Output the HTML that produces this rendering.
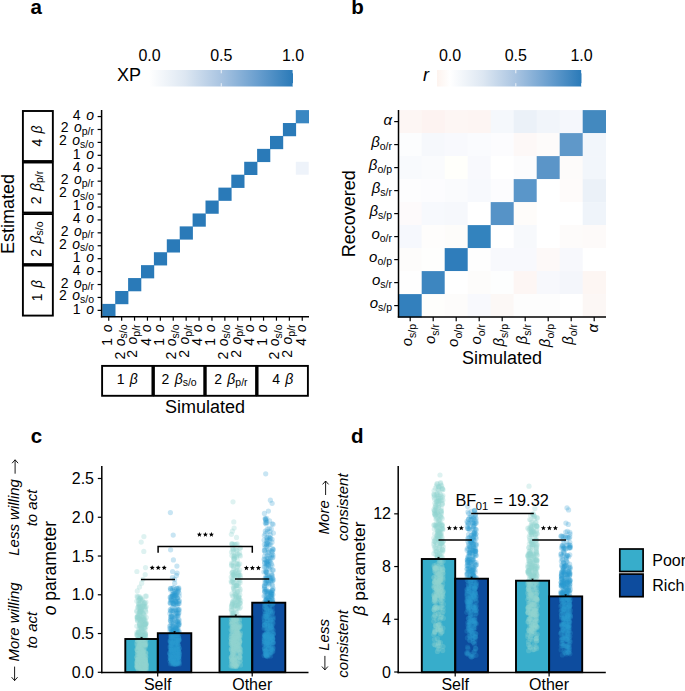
<!DOCTYPE html>
<html><head><meta charset="utf-8"><title>figure</title>
<style>
html,body{margin:0;padding:0;background:#fff;}
body{width:685px;height:691px;overflow:hidden;}
svg{display:block;font-family:"Liberation Sans", sans-serif;}
text{fill:#000;}
</style></head>
<body>
<svg width="685" height="691" viewBox="0 0 685 691">
<rect width="685" height="691" fill="#fff"/>
<text x="30.50" y="13.70" font-size="20.5" text-anchor="start" font-weight="bold">a</text>
<defs><linearGradient id="ga" x1="0" x2="1" y1="0" y2="0"><stop offset="0" stop-color="#ffffff"/><stop offset="0.25" stop-color="#dde7f2"/><stop offset="0.5" stop-color="#a9c4e1"/><stop offset="0.75" stop-color="#6a9fcf"/><stop offset="1" stop-color="#2a7ab8"/></linearGradient><linearGradient id="gb" x1="0" x2="1" y1="0" y2="0"><stop offset="0" stop-color="#fdf3ee"/><stop offset="0.0909" stop-color="#ffffff"/><stop offset="0.318" stop-color="#dde7f2"/><stop offset="0.545" stop-color="#a9c4e1"/><stop offset="0.773" stop-color="#6a9fcf"/><stop offset="1" stop-color="#2a7ab8"/></linearGradient></defs>
<rect x="149.00" y="70.00" width="144.00" height="16.50" fill="url(#ga)"/>
<line x1="149.50" y1="70.00" x2="149.50" y2="73.30" stroke="#fff" stroke-width="0.8"/>
<line x1="149.50" y1="83.20" x2="149.50" y2="86.50" stroke="#fff" stroke-width="0.8"/>
<text x="149.50" y="60.50" font-size="16" text-anchor="middle">0.0</text>
<line x1="221.25" y1="70.00" x2="221.25" y2="73.30" stroke="#fff" stroke-width="0.8"/>
<line x1="221.25" y1="83.20" x2="221.25" y2="86.50" stroke="#fff" stroke-width="0.8"/>
<text x="221.25" y="60.50" font-size="16" text-anchor="middle">0.5</text>
<line x1="293.00" y1="70.00" x2="293.00" y2="73.30" stroke="#fff" stroke-width="0.8"/>
<line x1="293.00" y1="83.20" x2="293.00" y2="86.50" stroke="#fff" stroke-width="0.8"/>
<text x="293.00" y="60.50" font-size="16" text-anchor="middle">1.0</text>
<text x="117.00" y="81.00" font-size="18" text-anchor="start">XP</text>
<rect x="102.30" y="303.90" width="13.20" height="13.22" fill="#2a7ab8"/>
<rect x="115.20" y="290.98" width="13.20" height="13.22" fill="#2a7ab8"/>
<rect x="128.10" y="278.06" width="13.20" height="13.22" fill="#2a7ab8"/>
<rect x="141.00" y="265.14" width="13.20" height="13.22" fill="#2a7ab8"/>
<rect x="153.90" y="252.22" width="13.20" height="13.22" fill="#2a7ab8"/>
<rect x="166.80" y="239.30" width="13.20" height="13.22" fill="#2a7ab8"/>
<rect x="179.70" y="226.38" width="13.20" height="13.22" fill="#2a7ab8"/>
<rect x="192.60" y="213.46" width="13.20" height="13.22" fill="#2a7ab8"/>
<rect x="205.50" y="200.54" width="13.20" height="13.22" fill="#2a7ab8"/>
<rect x="218.40" y="187.62" width="13.20" height="13.22" fill="#2a7ab8"/>
<rect x="231.30" y="174.70" width="13.20" height="13.22" fill="#2a7ab8"/>
<rect x="244.20" y="161.78" width="13.20" height="13.22" fill="#2a7ab8"/>
<rect x="257.10" y="148.86" width="13.20" height="13.22" fill="#2a7ab8"/>
<rect x="270.00" y="135.94" width="13.20" height="13.22" fill="#2a7ab8"/>
<rect x="282.90" y="123.02" width="13.20" height="13.22" fill="#2a7ab8"/>
<rect x="295.80" y="110.10" width="13.20" height="13.22" fill="#3a87c2"/>
<rect x="295.80" y="161.78" width="12.90" height="12.92" fill="#eef3fa"/>
<line x1="101.60" y1="110.00" x2="101.60" y2="317.50" stroke="#000" stroke-width="1.5"/>
<line x1="100.90" y1="316.80" x2="309.00" y2="316.80" stroke="#000" stroke-width="1.5"/>
<line x1="97.60" y1="116.56" x2="101.60" y2="116.56" stroke="#000" stroke-width="1.2"/>
<text x="94.00" y="119.96" font-size="14" text-anchor="end">4 <tspan dx="1.8" font-style="italic">o</tspan></text>
<line x1="97.60" y1="129.48" x2="101.60" y2="129.48" stroke="#000" stroke-width="1.2"/>
<text x="94.00" y="132.48" font-size="14" text-anchor="end">2 <tspan dx="1.6" font-style="italic">o</tspan><tspan font-size="10.5" dy="2.6">p/r</tspan></text>
<line x1="97.60" y1="142.40" x2="101.60" y2="142.40" stroke="#000" stroke-width="1.2"/>
<text x="94.00" y="145.40" font-size="14" text-anchor="end">2 <tspan dx="1.6" font-style="italic">o</tspan><tspan font-size="10.5" dy="2.6">s/o</tspan></text>
<line x1="97.60" y1="155.32" x2="101.60" y2="155.32" stroke="#000" stroke-width="1.2"/>
<text x="94.00" y="158.72" font-size="14" text-anchor="end">1 <tspan dx="1.8" font-style="italic">o</tspan></text>
<line x1="97.60" y1="168.24" x2="101.60" y2="168.24" stroke="#000" stroke-width="1.2"/>
<text x="94.00" y="171.64" font-size="14" text-anchor="end">4 <tspan dx="1.8" font-style="italic">o</tspan></text>
<line x1="97.60" y1="181.16" x2="101.60" y2="181.16" stroke="#000" stroke-width="1.2"/>
<text x="94.00" y="184.16" font-size="14" text-anchor="end">2 <tspan dx="1.6" font-style="italic">o</tspan><tspan font-size="10.5" dy="2.6">p/r</tspan></text>
<line x1="97.60" y1="194.08" x2="101.60" y2="194.08" stroke="#000" stroke-width="1.2"/>
<text x="94.00" y="197.08" font-size="14" text-anchor="end">2 <tspan dx="1.6" font-style="italic">o</tspan><tspan font-size="10.5" dy="2.6">s/o</tspan></text>
<line x1="97.60" y1="207.00" x2="101.60" y2="207.00" stroke="#000" stroke-width="1.2"/>
<text x="94.00" y="210.40" font-size="14" text-anchor="end">1 <tspan dx="1.8" font-style="italic">o</tspan></text>
<line x1="97.60" y1="219.92" x2="101.60" y2="219.92" stroke="#000" stroke-width="1.2"/>
<text x="94.00" y="223.32" font-size="14" text-anchor="end">4 <tspan dx="1.8" font-style="italic">o</tspan></text>
<line x1="97.60" y1="232.84" x2="101.60" y2="232.84" stroke="#000" stroke-width="1.2"/>
<text x="94.00" y="235.84" font-size="14" text-anchor="end">2 <tspan dx="1.6" font-style="italic">o</tspan><tspan font-size="10.5" dy="2.6">p/r</tspan></text>
<line x1="97.60" y1="245.76" x2="101.60" y2="245.76" stroke="#000" stroke-width="1.2"/>
<text x="94.00" y="248.76" font-size="14" text-anchor="end">2 <tspan dx="1.6" font-style="italic">o</tspan><tspan font-size="10.5" dy="2.6">s/o</tspan></text>
<line x1="97.60" y1="258.68" x2="101.60" y2="258.68" stroke="#000" stroke-width="1.2"/>
<text x="94.00" y="262.08" font-size="14" text-anchor="end">1 <tspan dx="1.8" font-style="italic">o</tspan></text>
<line x1="97.60" y1="271.60" x2="101.60" y2="271.60" stroke="#000" stroke-width="1.2"/>
<text x="94.00" y="275.00" font-size="14" text-anchor="end">4 <tspan dx="1.8" font-style="italic">o</tspan></text>
<line x1="97.60" y1="284.52" x2="101.60" y2="284.52" stroke="#000" stroke-width="1.2"/>
<text x="94.00" y="287.52" font-size="14" text-anchor="end">2 <tspan dx="1.6" font-style="italic">o</tspan><tspan font-size="10.5" dy="2.6">p/r</tspan></text>
<line x1="97.60" y1="297.44" x2="101.60" y2="297.44" stroke="#000" stroke-width="1.2"/>
<text x="94.00" y="300.44" font-size="14" text-anchor="end">2 <tspan dx="1.6" font-style="italic">o</tspan><tspan font-size="10.5" dy="2.6">s/o</tspan></text>
<line x1="97.60" y1="310.36" x2="101.60" y2="310.36" stroke="#000" stroke-width="1.2"/>
<text x="94.00" y="313.76" font-size="14" text-anchor="end">1 <tspan dx="1.8" font-style="italic">o</tspan></text>
<line x1="108.75" y1="316.80" x2="108.75" y2="320.70" stroke="#000" stroke-width="1.2"/>
<text transform="translate(112.05,324.40) rotate(-90)" font-size="14" text-anchor="end">1 <tspan dx="1.8" font-style="italic">o</tspan></text>
<line x1="121.65" y1="316.80" x2="121.65" y2="320.70" stroke="#000" stroke-width="1.2"/>
<text transform="translate(124.55,324.40) rotate(-90)" font-size="14" text-anchor="end">2 <tspan dx="1.6" font-style="italic">o</tspan><tspan font-size="10.5" dy="2.6">s/o</tspan></text>
<line x1="134.55" y1="316.80" x2="134.55" y2="320.70" stroke="#000" stroke-width="1.2"/>
<text transform="translate(137.45,324.40) rotate(-90)" font-size="14" text-anchor="end">2 <tspan dx="1.6" font-style="italic">o</tspan><tspan font-size="10.5" dy="2.6">p/r</tspan></text>
<line x1="147.45" y1="316.80" x2="147.45" y2="320.70" stroke="#000" stroke-width="1.2"/>
<text transform="translate(150.75,324.40) rotate(-90)" font-size="14" text-anchor="end">4 <tspan dx="1.8" font-style="italic">o</tspan></text>
<line x1="160.35" y1="316.80" x2="160.35" y2="320.70" stroke="#000" stroke-width="1.2"/>
<text transform="translate(163.65,324.40) rotate(-90)" font-size="14" text-anchor="end">1 <tspan dx="1.8" font-style="italic">o</tspan></text>
<line x1="173.25" y1="316.80" x2="173.25" y2="320.70" stroke="#000" stroke-width="1.2"/>
<text transform="translate(176.15,324.40) rotate(-90)" font-size="14" text-anchor="end">2 <tspan dx="1.6" font-style="italic">o</tspan><tspan font-size="10.5" dy="2.6">s/o</tspan></text>
<line x1="186.15" y1="316.80" x2="186.15" y2="320.70" stroke="#000" stroke-width="1.2"/>
<text transform="translate(189.05,324.40) rotate(-90)" font-size="14" text-anchor="end">2 <tspan dx="1.6" font-style="italic">o</tspan><tspan font-size="10.5" dy="2.6">p/r</tspan></text>
<line x1="199.05" y1="316.80" x2="199.05" y2="320.70" stroke="#000" stroke-width="1.2"/>
<text transform="translate(202.35,324.40) rotate(-90)" font-size="14" text-anchor="end">4 <tspan dx="1.8" font-style="italic">o</tspan></text>
<line x1="211.95" y1="316.80" x2="211.95" y2="320.70" stroke="#000" stroke-width="1.2"/>
<text transform="translate(215.25,324.40) rotate(-90)" font-size="14" text-anchor="end">1 <tspan dx="1.8" font-style="italic">o</tspan></text>
<line x1="224.85" y1="316.80" x2="224.85" y2="320.70" stroke="#000" stroke-width="1.2"/>
<text transform="translate(227.75,324.40) rotate(-90)" font-size="14" text-anchor="end">2 <tspan dx="1.6" font-style="italic">o</tspan><tspan font-size="10.5" dy="2.6">s/o</tspan></text>
<line x1="237.75" y1="316.80" x2="237.75" y2="320.70" stroke="#000" stroke-width="1.2"/>
<text transform="translate(240.65,324.40) rotate(-90)" font-size="14" text-anchor="end">2 <tspan dx="1.6" font-style="italic">o</tspan><tspan font-size="10.5" dy="2.6">p/r</tspan></text>
<line x1="250.65" y1="316.80" x2="250.65" y2="320.70" stroke="#000" stroke-width="1.2"/>
<text transform="translate(253.95,324.40) rotate(-90)" font-size="14" text-anchor="end">4 <tspan dx="1.8" font-style="italic">o</tspan></text>
<line x1="263.55" y1="316.80" x2="263.55" y2="320.70" stroke="#000" stroke-width="1.2"/>
<text transform="translate(266.85,324.40) rotate(-90)" font-size="14" text-anchor="end">1 <tspan dx="1.8" font-style="italic">o</tspan></text>
<line x1="276.45" y1="316.80" x2="276.45" y2="320.70" stroke="#000" stroke-width="1.2"/>
<text transform="translate(279.35,324.40) rotate(-90)" font-size="14" text-anchor="end">2 <tspan dx="1.6" font-style="italic">o</tspan><tspan font-size="10.5" dy="2.6">s/o</tspan></text>
<line x1="289.35" y1="316.80" x2="289.35" y2="320.70" stroke="#000" stroke-width="1.2"/>
<text transform="translate(292.25,324.40) rotate(-90)" font-size="14" text-anchor="end">2 <tspan dx="1.6" font-style="italic">o</tspan><tspan font-size="10.5" dy="2.6">p/r</tspan></text>
<line x1="302.25" y1="316.80" x2="302.25" y2="320.70" stroke="#000" stroke-width="1.2"/>
<text transform="translate(305.55,324.40) rotate(-90)" font-size="14" text-anchor="end">4 <tspan dx="1.8" font-style="italic">o</tspan></text>
<rect x="22.90" y="111.00" width="29.95" height="50.03" fill="none" stroke="#000" stroke-width="1.9"/>
<text transform="translate(41.80,136.01) rotate(-90)" font-size="14" text-anchor="middle">4 <tspan dx="1.5" font-style="italic">β</tspan></text>
<rect x="22.90" y="162.53" width="29.95" height="50.03" fill="none" stroke="#000" stroke-width="1.9"/>
<text transform="translate(40.50,187.54) rotate(-90)" font-size="14" text-anchor="middle">2 <tspan dx="1.5" font-style="italic">β</tspan><tspan font-size="10.5" dy="2.6">p/r</tspan></text>
<rect x="22.90" y="214.05" width="29.95" height="50.02" fill="none" stroke="#000" stroke-width="1.9"/>
<text transform="translate(40.50,239.06) rotate(-90)" font-size="14" text-anchor="middle">2 <tspan dx="1.5" font-style="italic">β</tspan><tspan font-size="10.5" dy="2.6">s/o</tspan></text>
<rect x="22.90" y="265.57" width="29.95" height="50.02" fill="none" stroke="#000" stroke-width="1.9"/>
<text transform="translate(41.80,290.59) rotate(-90)" font-size="14" text-anchor="middle">1 <tspan dx="1.5" font-style="italic">β</tspan></text>
<rect x="102.10" y="365.90" width="50.33" height="29.90" fill="none" stroke="#000" stroke-width="1.9"/>
<text x="127.26" y="383.60" font-size="14" text-anchor="middle">1 <tspan dx="1.5" font-style="italic">β</tspan></text>
<rect x="153.93" y="365.90" width="50.32" height="29.90" fill="none" stroke="#000" stroke-width="1.9"/>
<text x="179.09" y="383.60" font-size="14" text-anchor="middle">2 <tspan dx="1.5" font-style="italic">β</tspan><tspan font-size="10.5" dy="2.6">s/o</tspan></text>
<rect x="205.75" y="365.90" width="50.32" height="29.90" fill="none" stroke="#000" stroke-width="1.9"/>
<text x="230.91" y="383.60" font-size="14" text-anchor="middle">2 <tspan dx="1.5" font-style="italic">β</tspan><tspan font-size="10.5" dy="2.6">p/r</tspan></text>
<rect x="257.58" y="365.90" width="50.32" height="29.90" fill="none" stroke="#000" stroke-width="1.9"/>
<text x="282.74" y="383.60" font-size="14" text-anchor="middle">4 <tspan dx="1.5" font-style="italic">β</tspan></text>
<text x="205.00" y="413.00" font-size="18" text-anchor="middle">Simulated</text>
<text transform="translate(13.60,214.00) rotate(-90)" font-size="18" text-anchor="middle">Estimated</text>
<text x="351.30" y="13.70" font-size="20.5" text-anchor="start" font-weight="bold">b</text>
<rect x="437.00" y="70.00" width="144.50" height="16.50" fill="url(#gb)"/>
<line x1="450.00" y1="70.00" x2="450.00" y2="73.30" stroke="#fff" stroke-width="0.8"/>
<line x1="450.00" y1="83.20" x2="450.00" y2="86.50" stroke="#fff" stroke-width="0.8"/>
<text x="450.00" y="60.50" font-size="16" text-anchor="middle">0.0</text>
<line x1="515.80" y1="70.00" x2="515.80" y2="73.30" stroke="#fff" stroke-width="0.8"/>
<line x1="515.80" y1="83.20" x2="515.80" y2="86.50" stroke="#fff" stroke-width="0.8"/>
<text x="515.80" y="60.50" font-size="16" text-anchor="middle">0.5</text>
<line x1="581.60" y1="70.00" x2="581.60" y2="73.30" stroke="#fff" stroke-width="0.8"/>
<line x1="581.60" y1="83.20" x2="581.60" y2="86.50" stroke="#fff" stroke-width="0.8"/>
<text x="581.60" y="60.50" font-size="16" text-anchor="middle">1.0</text>
<text x="423.00" y="81.00" font-size="18" text-anchor="start" font-style="italic">r</text>
<rect x="398.70" y="110.10" width="23.30" height="23.30" fill="#fdf6f4"/>
<rect x="421.70" y="110.10" width="23.30" height="23.30" fill="#fdf3f1"/>
<rect x="444.70" y="110.10" width="23.30" height="23.30" fill="#fdf6f4"/>
<rect x="467.70" y="110.10" width="23.30" height="23.30" fill="#fdf5f3"/>
<rect x="490.70" y="110.10" width="23.30" height="23.30" fill="#f5f8fc"/>
<rect x="513.70" y="110.10" width="23.30" height="23.30" fill="#ebf1f8"/>
<rect x="536.70" y="110.10" width="23.30" height="23.30" fill="#f1f5fa"/>
<rect x="559.70" y="110.10" width="23.30" height="23.30" fill="#f5f7fc"/>
<rect x="582.70" y="110.10" width="23.30" height="23.30" fill="#4389bf"/>
<rect x="398.70" y="133.10" width="23.30" height="23.30" fill="#fcfdfe"/>
<rect x="421.70" y="133.10" width="23.30" height="23.30" fill="#f6f8fc"/>
<rect x="444.70" y="133.10" width="23.30" height="23.30" fill="#f8f9fd"/>
<rect x="467.70" y="133.10" width="23.30" height="23.30" fill="#fafbfe"/>
<rect x="490.70" y="133.10" width="23.30" height="23.30" fill="#fcfcfe"/>
<rect x="513.70" y="133.10" width="23.30" height="23.30" fill="#fdf8f7"/>
<rect x="536.70" y="133.10" width="23.30" height="23.30" fill="#fdfbfa"/>
<rect x="559.70" y="133.10" width="23.30" height="23.30" fill="#5f98c9"/>
<rect x="582.70" y="133.10" width="23.30" height="23.30" fill="#f2f6fb"/>
<rect x="398.70" y="156.10" width="23.30" height="23.30" fill="#f8fafd"/>
<rect x="421.70" y="156.10" width="23.30" height="23.30" fill="#fafbfd"/>
<rect x="444.70" y="156.10" width="23.30" height="23.30" fill="#fffffb"/>
<rect x="467.70" y="156.10" width="23.30" height="23.30" fill="#f8f9fd"/>
<rect x="490.70" y="156.10" width="23.30" height="23.30" fill="#ffffff"/>
<rect x="513.70" y="156.10" width="23.30" height="23.30" fill="#fcfcfd"/>
<rect x="536.70" y="156.10" width="23.30" height="23.30" fill="#5b95c8"/>
<rect x="559.70" y="156.10" width="23.30" height="23.30" fill="#fdfbfa"/>
<rect x="582.70" y="156.10" width="23.30" height="23.30" fill="#f2f6fb"/>
<rect x="398.70" y="179.10" width="23.30" height="23.30" fill="#fdfdfe"/>
<rect x="421.70" y="179.10" width="23.30" height="23.30" fill="#fcfcfe"/>
<rect x="444.70" y="179.10" width="23.30" height="23.30" fill="#fafbfd"/>
<rect x="467.70" y="179.10" width="23.30" height="23.30" fill="#f7f9fd"/>
<rect x="490.70" y="179.10" width="23.30" height="23.30" fill="#fcfcfe"/>
<rect x="513.70" y="179.10" width="23.30" height="23.30" fill="#5a96c9"/>
<rect x="536.70" y="179.10" width="23.30" height="23.30" fill="#ffffff"/>
<rect x="559.70" y="179.10" width="23.30" height="23.30" fill="#fefbfa"/>
<rect x="582.70" y="179.10" width="23.30" height="23.30" fill="#ebf1f8"/>
<rect x="398.70" y="202.10" width="23.30" height="23.30" fill="#fdfafb"/>
<rect x="421.70" y="202.10" width="23.30" height="23.30" fill="#f7f9fd"/>
<rect x="444.70" y="202.10" width="23.30" height="23.30" fill="#f6f8fc"/>
<rect x="467.70" y="202.10" width="23.30" height="23.30" fill="#ffffff"/>
<rect x="490.70" y="202.10" width="23.30" height="23.30" fill="#5693c7"/>
<rect x="513.70" y="202.10" width="23.30" height="23.30" fill="#fefcfa"/>
<rect x="536.70" y="202.10" width="23.30" height="23.30" fill="#ffffff"/>
<rect x="559.70" y="202.10" width="23.30" height="23.30" fill="#ffffff"/>
<rect x="582.70" y="202.10" width="23.30" height="23.30" fill="#eff4fa"/>
<rect x="398.70" y="225.10" width="23.30" height="23.30" fill="#f6f8fd"/>
<rect x="421.70" y="225.10" width="23.30" height="23.30" fill="#fefdfc"/>
<rect x="444.70" y="225.10" width="23.30" height="23.30" fill="#fdfcfa"/>
<rect x="467.70" y="225.10" width="23.30" height="23.30" fill="#3383be"/>
<rect x="490.70" y="225.10" width="23.30" height="23.30" fill="#ffffff"/>
<rect x="513.70" y="225.10" width="23.30" height="23.30" fill="#f7f9fc"/>
<rect x="536.70" y="225.10" width="23.30" height="23.30" fill="#ffffff"/>
<rect x="559.70" y="225.10" width="23.30" height="23.30" fill="#fdfbfa"/>
<rect x="582.70" y="225.10" width="23.30" height="23.30" fill="#fdfaf9"/>
<rect x="398.70" y="248.10" width="23.30" height="23.30" fill="#fdfcfb"/>
<rect x="421.70" y="248.10" width="23.30" height="23.30" fill="#fefefd"/>
<rect x="444.70" y="248.10" width="23.30" height="23.30" fill="#2f7dbb"/>
<rect x="467.70" y="248.10" width="23.30" height="23.30" fill="#fefefe"/>
<rect x="490.70" y="248.10" width="23.30" height="23.30" fill="#f8f9fd"/>
<rect x="513.70" y="248.10" width="23.30" height="23.30" fill="#f8f9fd"/>
<rect x="536.70" y="248.10" width="23.30" height="23.30" fill="#fdf9f8"/>
<rect x="559.70" y="248.10" width="23.30" height="23.30" fill="#f7f8fc"/>
<rect x="582.70" y="248.10" width="23.30" height="23.30" fill="#ffffff"/>
<rect x="398.70" y="271.10" width="23.30" height="23.30" fill="#fefefe"/>
<rect x="421.70" y="271.10" width="23.30" height="23.30" fill="#3d86c0"/>
<rect x="444.70" y="271.10" width="23.30" height="23.30" fill="#ffffff"/>
<rect x="467.70" y="271.10" width="23.30" height="23.30" fill="#fdfcfb"/>
<rect x="490.70" y="271.10" width="23.30" height="23.30" fill="#fdfefe"/>
<rect x="513.70" y="271.10" width="23.30" height="23.30" fill="#fdf6f4"/>
<rect x="536.70" y="271.10" width="23.30" height="23.30" fill="#f7f8fc"/>
<rect x="559.70" y="271.10" width="23.30" height="23.30" fill="#f4f6fb"/>
<rect x="582.70" y="271.10" width="23.30" height="23.30" fill="#fdf6f3"/>
<rect x="398.70" y="294.10" width="23.30" height="23.30" fill="#3380bd"/>
<rect x="421.70" y="294.10" width="23.30" height="23.30" fill="#fefefc"/>
<rect x="444.70" y="294.10" width="23.30" height="23.30" fill="#fdfcfb"/>
<rect x="467.70" y="294.10" width="23.30" height="23.30" fill="#f8f9fd"/>
<rect x="490.70" y="294.10" width="23.30" height="23.30" fill="#fcf8f6"/>
<rect x="513.70" y="294.10" width="23.30" height="23.30" fill="#fdfdfd"/>
<rect x="536.70" y="294.10" width="23.30" height="23.30" fill="#fdfdfd"/>
<rect x="559.70" y="294.10" width="23.30" height="23.30" fill="#ffffff"/>
<rect x="582.70" y="294.10" width="23.30" height="23.30" fill="#fcf7f5"/>
<line x1="398.50" y1="110.00" x2="398.50" y2="317.50" stroke="#000" stroke-width="1.5"/>
<line x1="397.80" y1="317.00" x2="606.00" y2="317.00" stroke="#000" stroke-width="1.5"/>
<line x1="394.20" y1="121.60" x2="398.50" y2="121.60" stroke="#000" stroke-width="1.2"/>
<text x="392.00" y="125.20" font-size="15" text-anchor="end"><tspan font-style="italic">α</tspan></text>
<line x1="394.20" y1="144.60" x2="398.50" y2="144.60" stroke="#000" stroke-width="1.2"/>
<text x="392.00" y="146.60" font-size="15" text-anchor="end"><tspan font-style="italic">β</tspan><tspan font-size="10.5" dy="3.5">o/r</tspan></text>
<line x1="394.20" y1="167.60" x2="398.50" y2="167.60" stroke="#000" stroke-width="1.2"/>
<text x="392.00" y="169.60" font-size="15" text-anchor="end"><tspan font-style="italic">β</tspan><tspan font-size="10.5" dy="3.5">o/p</tspan></text>
<line x1="394.20" y1="190.60" x2="398.50" y2="190.60" stroke="#000" stroke-width="1.2"/>
<text x="392.00" y="192.60" font-size="15" text-anchor="end"><tspan font-style="italic">β</tspan><tspan font-size="10.5" dy="3.5">s/r</tspan></text>
<line x1="394.20" y1="213.60" x2="398.50" y2="213.60" stroke="#000" stroke-width="1.2"/>
<text x="392.00" y="215.60" font-size="15" text-anchor="end"><tspan font-style="italic">β</tspan><tspan font-size="10.5" dy="3.5">s/p</tspan></text>
<line x1="394.20" y1="236.60" x2="398.50" y2="236.60" stroke="#000" stroke-width="1.2"/>
<text x="392.00" y="238.60" font-size="15" text-anchor="end"><tspan font-style="italic">o</tspan><tspan font-size="10.5" dy="3.5">o/r</tspan></text>
<line x1="394.20" y1="259.60" x2="398.50" y2="259.60" stroke="#000" stroke-width="1.2"/>
<text x="392.00" y="261.60" font-size="15" text-anchor="end"><tspan font-style="italic">o</tspan><tspan font-size="10.5" dy="3.5">o/p</tspan></text>
<line x1="394.20" y1="282.60" x2="398.50" y2="282.60" stroke="#000" stroke-width="1.2"/>
<text x="392.00" y="284.60" font-size="15" text-anchor="end"><tspan font-style="italic">o</tspan><tspan font-size="10.5" dy="3.5">s/r</tspan></text>
<line x1="394.20" y1="305.60" x2="398.50" y2="305.60" stroke="#000" stroke-width="1.2"/>
<text x="392.00" y="307.60" font-size="15" text-anchor="end"><tspan font-style="italic">o</tspan><tspan font-size="10.5" dy="3.5">s/p</tspan></text>
<line x1="410.20" y1="317.00" x2="410.20" y2="321.20" stroke="#000" stroke-width="1.2"/>
<text transform="translate(412.20,324.00) rotate(-90)" font-size="15" text-anchor="end"><tspan font-style="italic">o</tspan><tspan font-size="10.5" dy="3.5">s/p</tspan></text>
<line x1="433.20" y1="317.00" x2="433.20" y2="321.20" stroke="#000" stroke-width="1.2"/>
<text transform="translate(435.20,324.00) rotate(-90)" font-size="15" text-anchor="end"><tspan font-style="italic">o</tspan><tspan font-size="10.5" dy="3.5">s/r</tspan></text>
<line x1="456.20" y1="317.00" x2="456.20" y2="321.20" stroke="#000" stroke-width="1.2"/>
<text transform="translate(458.20,324.00) rotate(-90)" font-size="15" text-anchor="end"><tspan font-style="italic">o</tspan><tspan font-size="10.5" dy="3.5">o/p</tspan></text>
<line x1="479.20" y1="317.00" x2="479.20" y2="321.20" stroke="#000" stroke-width="1.2"/>
<text transform="translate(481.20,324.00) rotate(-90)" font-size="15" text-anchor="end"><tspan font-style="italic">o</tspan><tspan font-size="10.5" dy="3.5">o/r</tspan></text>
<line x1="502.20" y1="317.00" x2="502.20" y2="321.20" stroke="#000" stroke-width="1.2"/>
<text transform="translate(504.20,324.00) rotate(-90)" font-size="15" text-anchor="end"><tspan font-style="italic">β</tspan><tspan font-size="10.5" dy="3.5">s/p</tspan></text>
<line x1="525.20" y1="317.00" x2="525.20" y2="321.20" stroke="#000" stroke-width="1.2"/>
<text transform="translate(527.20,324.00) rotate(-90)" font-size="15" text-anchor="end"><tspan font-style="italic">β</tspan><tspan font-size="10.5" dy="3.5">s/r</tspan></text>
<line x1="548.20" y1="317.00" x2="548.20" y2="321.20" stroke="#000" stroke-width="1.2"/>
<text transform="translate(550.20,324.00) rotate(-90)" font-size="15" text-anchor="end"><tspan font-style="italic">β</tspan><tspan font-size="10.5" dy="3.5">o/p</tspan></text>
<line x1="571.20" y1="317.00" x2="571.20" y2="321.20" stroke="#000" stroke-width="1.2"/>
<text transform="translate(573.20,324.00) rotate(-90)" font-size="15" text-anchor="end"><tspan font-style="italic">β</tspan><tspan font-size="10.5" dy="3.5">o/r</tspan></text>
<line x1="594.20" y1="317.00" x2="594.20" y2="321.20" stroke="#000" stroke-width="1.2"/>
<text transform="translate(597.80,324.00) rotate(-90)" font-size="15" text-anchor="end"><tspan font-style="italic">α</tspan></text>
<text x="502.00" y="364.30" font-size="18" text-anchor="middle">Simulated</text>
<text transform="translate(355.30,213.80) rotate(-90)" font-size="18" text-anchor="middle">Recovered</text>
<text x="30.70" y="442.80" font-size="20.5" text-anchor="start" font-weight="bold">c</text>
<rect x="125.30" y="639.00" width="32.50" height="33.20" fill="#37adcb"/>
<rect x="157.80" y="633.20" width="33.50" height="39.00" fill="#0d4c9e"/>
<rect x="219.50" y="616.60" width="32.70" height="55.60" fill="#37adcb"/>
<rect x="252.20" y="602.70" width="33.10" height="69.50" fill="#0d4c9e"/>
<g fill="#93d3cf" fill-opacity="0.3">
<circle cx="139.4" cy="604.0" r="2.6"/>
<circle cx="139.7" cy="640.1" r="2.6"/>
<circle cx="145.2" cy="652.5" r="2.6"/>
<circle cx="137.2" cy="649.7" r="2.6"/>
<circle cx="140.1" cy="598.3" r="2.6"/>
<circle cx="138.6" cy="661.7" r="2.6"/>
<circle cx="143.4" cy="668.4" r="2.6"/>
<circle cx="144.5" cy="662.8" r="2.6"/>
<circle cx="137.3" cy="652.9" r="2.6"/>
<circle cx="145.0" cy="647.8" r="2.6"/>
<circle cx="143.4" cy="661.8" r="2.6"/>
<circle cx="138.8" cy="603.9" r="2.6"/>
<circle cx="145.5" cy="567.6" r="2.6"/>
<circle cx="139.6" cy="633.6" r="2.6"/>
<circle cx="144.3" cy="624.3" r="2.6"/>
<circle cx="137.5" cy="620.8" r="2.6"/>
<circle cx="141.1" cy="611.4" r="2.6"/>
<circle cx="141.6" cy="648.6" r="2.6"/>
<circle cx="145.4" cy="646.1" r="2.6"/>
<circle cx="144.8" cy="656.2" r="2.6"/>
<circle cx="142.0" cy="643.1" r="2.6"/>
<circle cx="137.2" cy="656.7" r="2.6"/>
<circle cx="140.9" cy="662.5" r="2.6"/>
<circle cx="140.4" cy="606.6" r="2.6"/>
<circle cx="146.3" cy="666.8" r="2.6"/>
<circle cx="143.3" cy="617.0" r="2.6"/>
<circle cx="140.6" cy="647.9" r="2.6"/>
<circle cx="140.3" cy="667.5" r="2.6"/>
<circle cx="144.1" cy="628.2" r="2.6"/>
<circle cx="137.7" cy="663.7" r="2.6"/>
<circle cx="144.6" cy="618.5" r="2.6"/>
<circle cx="143.2" cy="638.6" r="2.6"/>
<circle cx="140.9" cy="628.3" r="2.6"/>
<circle cx="143.6" cy="604.6" r="2.6"/>
<circle cx="140.6" cy="610.9" r="2.6"/>
<circle cx="138.1" cy="606.9" r="2.6"/>
<circle cx="140.8" cy="643.1" r="2.6"/>
<circle cx="137.2" cy="667.7" r="2.6"/>
<circle cx="137.6" cy="616.7" r="2.6"/>
<circle cx="141.0" cy="627.6" r="2.6"/>
<circle cx="144.7" cy="615.4" r="2.6"/>
<circle cx="138.7" cy="666.4" r="2.6"/>
<circle cx="141.6" cy="645.7" r="2.6"/>
<circle cx="146.1" cy="643.9" r="2.6"/>
<circle cx="144.7" cy="669.5" r="2.6"/>
<circle cx="145.4" cy="660.2" r="2.6"/>
<circle cx="143.2" cy="660.7" r="2.6"/>
<circle cx="142.4" cy="600.1" r="2.6"/>
<circle cx="142.3" cy="637.4" r="2.6"/>
<circle cx="142.5" cy="633.7" r="2.6"/>
<circle cx="141.2" cy="635.0" r="2.6"/>
<circle cx="140.2" cy="643.0" r="2.6"/>
<circle cx="139.0" cy="638.5" r="2.6"/>
<circle cx="137.4" cy="662.2" r="2.6"/>
<circle cx="140.3" cy="649.1" r="2.6"/>
<circle cx="144.1" cy="662.2" r="2.6"/>
<circle cx="142.1" cy="611.2" r="2.6"/>
<circle cx="138.3" cy="633.4" r="2.6"/>
<circle cx="144.6" cy="662.4" r="2.6"/>
<circle cx="137.1" cy="616.9" r="2.6"/>
<circle cx="145.7" cy="661.9" r="2.6"/>
<circle cx="143.0" cy="613.6" r="2.6"/>
<circle cx="142.1" cy="650.6" r="2.6"/>
<circle cx="140.7" cy="659.8" r="2.6"/>
<circle cx="144.7" cy="668.5" r="2.6"/>
<circle cx="136.8" cy="642.9" r="2.6"/>
<circle cx="136.9" cy="632.3" r="2.6"/>
<circle cx="141.7" cy="660.7" r="2.6"/>
<circle cx="139.6" cy="625.0" r="2.6"/>
<circle cx="140.6" cy="653.0" r="2.6"/>
<circle cx="141.9" cy="599.5" r="2.6"/>
<circle cx="137.2" cy="639.7" r="2.6"/>
<circle cx="146.2" cy="606.7" r="2.6"/>
<circle cx="143.3" cy="636.1" r="2.6"/>
<circle cx="137.7" cy="640.5" r="2.6"/>
<circle cx="143.8" cy="622.5" r="2.6"/>
<circle cx="141.9" cy="629.6" r="2.6"/>
<circle cx="143.3" cy="665.0" r="2.6"/>
<circle cx="143.8" cy="551.4" r="2.6"/>
<circle cx="146.3" cy="638.9" r="2.6"/>
<circle cx="137.9" cy="659.6" r="2.6"/>
<circle cx="146.3" cy="668.7" r="2.6"/>
<circle cx="141.3" cy="616.0" r="2.6"/>
<circle cx="138.7" cy="657.6" r="2.6"/>
<circle cx="140.3" cy="611.1" r="2.6"/>
<circle cx="140.2" cy="619.9" r="2.6"/>
<circle cx="145.3" cy="641.0" r="2.6"/>
<circle cx="141.8" cy="666.8" r="2.6"/>
<circle cx="137.4" cy="597.2" r="2.6"/>
<circle cx="143.6" cy="666.1" r="2.6"/>
<circle cx="141.5" cy="649.1" r="2.6"/>
<circle cx="144.6" cy="642.7" r="2.6"/>
<circle cx="137.2" cy="633.8" r="2.6"/>
<circle cx="145.1" cy="633.7" r="2.6"/>
<circle cx="145.3" cy="629.1" r="2.6"/>
<circle cx="136.8" cy="665.1" r="2.6"/>
<circle cx="141.3" cy="668.8" r="2.6"/>
<circle cx="137.9" cy="663.3" r="2.6"/>
<circle cx="141.8" cy="644.5" r="2.6"/>
<circle cx="137.6" cy="620.2" r="2.6"/>
<circle cx="145.3" cy="659.5" r="2.6"/>
<circle cx="138.5" cy="664.8" r="2.6"/>
<circle cx="143.2" cy="639.0" r="2.6"/>
<circle cx="143.0" cy="651.1" r="2.6"/>
<circle cx="139.8" cy="644.8" r="2.6"/>
<circle cx="138.8" cy="600.4" r="2.6"/>
<circle cx="145.5" cy="666.2" r="2.6"/>
<circle cx="137.1" cy="644.8" r="2.6"/>
<circle cx="139.2" cy="663.3" r="2.6"/>
<circle cx="139.9" cy="644.4" r="2.6"/>
<circle cx="142.4" cy="658.3" r="2.6"/>
<circle cx="140.3" cy="662.4" r="2.6"/>
<circle cx="137.8" cy="641.8" r="2.6"/>
<circle cx="142.2" cy="661.2" r="2.6"/>
<circle cx="143.7" cy="638.3" r="2.6"/>
<circle cx="143.5" cy="668.7" r="2.6"/>
<circle cx="141.5" cy="656.5" r="2.6"/>
<circle cx="139.7" cy="618.9" r="2.6"/>
<circle cx="136.8" cy="611.5" r="2.6"/>
<circle cx="141.9" cy="656.3" r="2.6"/>
<circle cx="142.8" cy="651.9" r="2.6"/>
<circle cx="141.0" cy="666.2" r="2.6"/>
<circle cx="146.0" cy="624.1" r="2.6"/>
<circle cx="138.7" cy="600.0" r="2.6"/>
<circle cx="144.6" cy="663.9" r="2.6"/>
<circle cx="143.7" cy="614.4" r="2.6"/>
<circle cx="145.4" cy="635.9" r="2.6"/>
<circle cx="145.6" cy="657.5" r="2.6"/>
<circle cx="139.0" cy="658.3" r="2.6"/>
<circle cx="145.6" cy="655.8" r="2.6"/>
<circle cx="140.6" cy="651.1" r="2.6"/>
<circle cx="143.3" cy="657.5" r="2.6"/>
<circle cx="145.9" cy="602.2" r="2.6"/>
<circle cx="142.5" cy="653.2" r="2.6"/>
<circle cx="142.3" cy="622.5" r="2.6"/>
<circle cx="137.4" cy="653.4" r="2.6"/>
<circle cx="142.5" cy="669.0" r="2.6"/>
<circle cx="139.1" cy="617.5" r="2.6"/>
<circle cx="140.5" cy="655.0" r="2.6"/>
<circle cx="140.4" cy="620.4" r="2.6"/>
<circle cx="146.1" cy="664.5" r="2.6"/>
<circle cx="142.9" cy="661.5" r="2.6"/>
<circle cx="143.7" cy="663.5" r="2.6"/>
<circle cx="138.4" cy="632.4" r="2.6"/>
<circle cx="139.7" cy="611.7" r="2.6"/>
<circle cx="145.2" cy="607.1" r="2.6"/>
<circle cx="137.9" cy="640.2" r="2.6"/>
<circle cx="145.9" cy="653.5" r="2.6"/>
<circle cx="140.9" cy="620.9" r="2.6"/>
<circle cx="140.5" cy="653.0" r="2.6"/>
<circle cx="141.7" cy="617.4" r="2.6"/>
<circle cx="141.0" cy="658.9" r="2.6"/>
<circle cx="141.3" cy="669.2" r="2.6"/>
<circle cx="140.8" cy="637.9" r="2.6"/>
<circle cx="143.5" cy="652.8" r="2.6"/>
<circle cx="139.4" cy="640.3" r="2.6"/>
<circle cx="138.3" cy="647.9" r="2.6"/>
<circle cx="140.9" cy="609.6" r="2.6"/>
<circle cx="137.6" cy="650.2" r="2.6"/>
<circle cx="141.0" cy="618.4" r="2.6"/>
<circle cx="141.5" cy="651.1" r="2.6"/>
<circle cx="144.3" cy="624.5" r="2.6"/>
<circle cx="137.8" cy="607.6" r="2.6"/>
<circle cx="140.6" cy="598.4" r="2.6"/>
<circle cx="144.2" cy="664.7" r="2.6"/>
<circle cx="140.0" cy="615.5" r="2.6"/>
<circle cx="144.8" cy="602.8" r="2.6"/>
<circle cx="143.6" cy="649.2" r="2.6"/>
<circle cx="137.2" cy="659.8" r="2.6"/>
<circle cx="140.4" cy="660.5" r="2.6"/>
<circle cx="144.1" cy="656.9" r="2.6"/>
<circle cx="141.8" cy="642.2" r="2.6"/>
<circle cx="143.2" cy="619.7" r="2.6"/>
<circle cx="146.3" cy="665.1" r="2.6"/>
<circle cx="143.2" cy="662.2" r="2.6"/>
<circle cx="142.0" cy="635.7" r="2.6"/>
<circle cx="144.9" cy="624.5" r="2.6"/>
<circle cx="140.9" cy="657.0" r="2.6"/>
<circle cx="136.8" cy="601.1" r="2.6"/>
<circle cx="139.4" cy="623.8" r="2.6"/>
<circle cx="142.5" cy="662.8" r="2.6"/>
<circle cx="145.9" cy="612.0" r="2.6"/>
<circle cx="142.6" cy="637.8" r="2.6"/>
<circle cx="139.5" cy="625.4" r="2.6"/>
<circle cx="146.3" cy="617.6" r="2.6"/>
<circle cx="140.6" cy="655.3" r="2.6"/>
<circle cx="138.9" cy="664.1" r="2.6"/>
<circle cx="142.1" cy="664.8" r="2.6"/>
<circle cx="140.1" cy="636.5" r="2.6"/>
<circle cx="137.8" cy="666.4" r="2.6"/>
<circle cx="143.6" cy="632.8" r="2.6"/>
<circle cx="143.4" cy="625.2" r="2.6"/>
<circle cx="146.1" cy="622.6" r="2.6"/>
<circle cx="138.1" cy="665.5" r="2.6"/>
<circle cx="145.5" cy="610.7" r="2.6"/>
<circle cx="144.4" cy="621.1" r="2.6"/>
<circle cx="139.2" cy="659.0" r="2.6"/>
<circle cx="141.4" cy="653.0" r="2.6"/>
<circle cx="142.8" cy="655.2" r="2.6"/>
<circle cx="139.8" cy="664.5" r="2.6"/>
<circle cx="137.8" cy="617.9" r="2.6"/>
<circle cx="144.8" cy="644.3" r="2.6"/>
<circle cx="138.3" cy="665.5" r="2.6"/>
<circle cx="141.5" cy="610.1" r="2.6"/>
<circle cx="141.0" cy="641.9" r="2.6"/>
<circle cx="145.4" cy="596.2" r="2.6"/>
<circle cx="142.1" cy="659.0" r="2.6"/>
<circle cx="140.8" cy="626.0" r="2.6"/>
<circle cx="146.1" cy="669.8" r="2.6"/>
<circle cx="140.1" cy="648.5" r="2.6"/>
<circle cx="143.7" cy="655.7" r="2.6"/>
<circle cx="139.0" cy="619.7" r="2.6"/>
<circle cx="144.0" cy="606.3" r="2.6"/>
<circle cx="144.0" cy="662.2" r="2.6"/>
<circle cx="144.7" cy="606.9" r="2.6"/>
<circle cx="141.4" cy="628.2" r="2.6"/>
<circle cx="138.9" cy="628.7" r="2.6"/>
<circle cx="142.8" cy="668.3" r="2.6"/>
<circle cx="145.5" cy="661.1" r="2.6"/>
<circle cx="139.7" cy="663.9" r="2.6"/>
<circle cx="136.9" cy="571.5" r="2.6"/>
<circle cx="138.5" cy="632.3" r="2.6"/>
<circle cx="145.7" cy="652.5" r="2.6"/>
<circle cx="136.8" cy="649.4" r="2.6"/>
<circle cx="137.3" cy="590.9" r="2.6"/>
<circle cx="137.7" cy="660.8" r="2.6"/>
<circle cx="145.3" cy="636.0" r="2.6"/>
<circle cx="140.4" cy="668.8" r="2.6"/>
<circle cx="143.4" cy="613.3" r="2.6"/>
<circle cx="143.5" cy="637.5" r="2.6"/>
<circle cx="140.9" cy="648.4" r="2.6"/>
<circle cx="143.8" cy="650.7" r="2.6"/>
<circle cx="141.2" cy="542.1" r="2.6"/>
<circle cx="142.0" cy="625.1" r="2.6"/>
<circle cx="139.7" cy="656.0" r="2.6"/>
<circle cx="136.8" cy="662.7" r="2.6"/>
<circle cx="142.4" cy="664.8" r="2.6"/>
<circle cx="139.3" cy="661.3" r="2.6"/>
<circle cx="139.4" cy="637.2" r="2.6"/>
<circle cx="145.2" cy="665.6" r="2.6"/>
<circle cx="140.2" cy="619.9" r="2.6"/>
<circle cx="137.7" cy="635.5" r="2.6"/>
<circle cx="142.8" cy="635.9" r="2.6"/>
<circle cx="141.9" cy="669.8" r="2.6"/>
<circle cx="137.3" cy="663.5" r="2.6"/>
<circle cx="140.1" cy="612.3" r="2.6"/>
<circle cx="142.6" cy="663.2" r="2.6"/>
<circle cx="139.4" cy="607.9" r="2.6"/>
<circle cx="146.2" cy="663.8" r="2.6"/>
<circle cx="144.4" cy="627.3" r="2.6"/>
<circle cx="141.6" cy="640.5" r="2.6"/>
<circle cx="145.5" cy="662.7" r="2.6"/>
<circle cx="137.1" cy="617.1" r="2.6"/>
<circle cx="138.9" cy="661.2" r="2.6"/>
<circle cx="145.5" cy="664.2" r="2.6"/>
<circle cx="141.6" cy="583.2" r="2.6"/>
<circle cx="138.4" cy="665.1" r="2.6"/>
<circle cx="142.2" cy="652.5" r="2.6"/>
<circle cx="143.8" cy="636.2" r="2.6"/>
<circle cx="142.5" cy="632.2" r="2.6"/>
<circle cx="137.2" cy="635.2" r="2.6"/>
<circle cx="137.1" cy="596.0" r="2.6"/>
<circle cx="140.7" cy="662.5" r="2.6"/>
<circle cx="136.9" cy="657.2" r="2.6"/>
<circle cx="137.6" cy="650.1" r="2.6"/>
<circle cx="142.9" cy="579.3" r="2.6"/>
<circle cx="141.0" cy="664.6" r="2.6"/>
<circle cx="137.6" cy="659.6" r="2.6"/>
<circle cx="145.2" cy="574.6" r="2.6"/>
<circle cx="140.3" cy="651.6" r="2.6"/>
<circle cx="145.2" cy="669.2" r="2.6"/>
<circle cx="142.6" cy="667.4" r="2.6"/>
<circle cx="142.7" cy="664.0" r="2.6"/>
<circle cx="140.8" cy="656.8" r="2.6"/>
<circle cx="143.2" cy="602.4" r="2.6"/>
<circle cx="139.1" cy="632.6" r="2.6"/>
<circle cx="139.2" cy="664.7" r="2.6"/>
<circle cx="145.1" cy="634.3" r="2.6"/>
<circle cx="138.7" cy="649.2" r="2.6"/>
<circle cx="140.5" cy="638.2" r="2.6"/>
<circle cx="143.9" cy="536.6" r="2.6"/>
<circle cx="139.9" cy="624.2" r="2.6"/>
<circle cx="140.3" cy="611.9" r="2.6"/>
<circle cx="145.5" cy="635.0" r="2.6"/>
<circle cx="138.7" cy="606.2" r="2.6"/>
<circle cx="139.1" cy="652.0" r="2.6"/>
<circle cx="145.3" cy="609.2" r="2.6"/>
<circle cx="139.4" cy="598.5" r="2.6"/>
<circle cx="139.9" cy="606.8" r="2.6"/>
<circle cx="145.2" cy="644.8" r="2.6"/>
<circle cx="139.8" cy="628.2" r="2.6"/>
<circle cx="146.3" cy="596.2" r="2.6"/>
<circle cx="144.6" cy="658.8" r="2.6"/>
<circle cx="144.9" cy="623.7" r="2.6"/>
<circle cx="138.9" cy="638.9" r="2.6"/>
<circle cx="138.8" cy="596.5" r="2.6"/>
<circle cx="144.0" cy="619.5" r="2.6"/>
<circle cx="144.7" cy="631.9" r="2.6"/>
<circle cx="138.9" cy="648.0" r="2.6"/>
<circle cx="138.7" cy="659.0" r="2.6"/>
<circle cx="139.1" cy="646.9" r="2.6"/>
<circle cx="138.1" cy="615.0" r="2.6"/>
<circle cx="140.8" cy="661.2" r="2.6"/>
<circle cx="141.6" cy="645.4" r="2.6"/>
<circle cx="142.8" cy="658.5" r="2.6"/>
<circle cx="137.3" cy="666.4" r="2.6"/>
<circle cx="138.6" cy="669.8" r="2.6"/>
<circle cx="137.9" cy="668.9" r="2.6"/>
<circle cx="139.3" cy="653.1" r="2.6"/>
<circle cx="138.5" cy="647.2" r="2.6"/>
<circle cx="145.7" cy="659.8" r="2.6"/>
<circle cx="140.3" cy="608.2" r="2.6"/>
<circle cx="138.1" cy="667.4" r="2.6"/>
<circle cx="143.1" cy="662.5" r="2.6"/>
<circle cx="146.1" cy="664.9" r="2.6"/>
<circle cx="144.4" cy="644.5" r="2.6"/>
<circle cx="143.0" cy="605.9" r="2.6"/>
<circle cx="140.4" cy="597.1" r="2.6"/>
<circle cx="140.6" cy="603.2" r="2.6"/>
<circle cx="139.7" cy="605.3" r="2.6"/>
<circle cx="144.5" cy="642.8" r="2.6"/>
<circle cx="144.5" cy="668.2" r="2.6"/>
<circle cx="141.4" cy="655.9" r="2.6"/>
<circle cx="145.0" cy="624.1" r="2.6"/>
<circle cx="143.0" cy="652.0" r="2.6"/>
<circle cx="143.3" cy="665.0" r="2.6"/>
<circle cx="139.3" cy="612.0" r="2.6"/>
<circle cx="139.1" cy="615.2" r="2.6"/>
<circle cx="138.9" cy="653.1" r="2.6"/>
<circle cx="145.5" cy="644.7" r="2.6"/>
<circle cx="144.4" cy="668.7" r="2.6"/>
<circle cx="145.4" cy="661.2" r="2.6"/>
<circle cx="144.6" cy="636.0" r="2.6"/>
<circle cx="144.5" cy="668.0" r="2.6"/>
<circle cx="140.9" cy="662.2" r="2.6"/>
<circle cx="144.1" cy="669.4" r="2.6"/>
<circle cx="138.3" cy="668.0" r="2.6"/>
<circle cx="143.0" cy="635.2" r="2.6"/>
<circle cx="137.2" cy="619.0" r="2.6"/>
<circle cx="146.0" cy="623.5" r="2.6"/>
<circle cx="145.2" cy="642.3" r="2.6"/>
<circle cx="138.3" cy="653.4" r="2.6"/>
<circle cx="144.1" cy="627.8" r="2.6"/>
<circle cx="144.7" cy="660.3" r="2.6"/>
<circle cx="137.2" cy="667.0" r="2.6"/>
<circle cx="142.2" cy="652.1" r="2.6"/>
<circle cx="140.8" cy="644.9" r="2.6"/>
<circle cx="142.7" cy="640.1" r="2.6"/>
<circle cx="145.3" cy="620.4" r="2.6"/>
<circle cx="143.7" cy="668.5" r="2.6"/>
<circle cx="138.8" cy="660.1" r="2.6"/>
<circle cx="142.1" cy="625.0" r="2.6"/>
<circle cx="142.1" cy="619.9" r="2.6"/>
<circle cx="136.9" cy="662.0" r="2.6"/>
<circle cx="138.0" cy="616.9" r="2.6"/>
<circle cx="140.2" cy="599.8" r="2.6"/>
<circle cx="138.5" cy="665.6" r="2.6"/>
<circle cx="139.0" cy="612.8" r="2.6"/>
<circle cx="143.2" cy="659.8" r="2.6"/>
<circle cx="146.0" cy="656.8" r="2.6"/>
<circle cx="141.1" cy="653.9" r="2.6"/>
<circle cx="143.0" cy="631.1" r="2.6"/>
<circle cx="144.1" cy="644.1" r="2.6"/>
<circle cx="143.2" cy="650.0" r="2.6"/>
<circle cx="143.1" cy="618.5" r="2.6"/>
<circle cx="136.8" cy="635.1" r="2.6"/>
<circle cx="145.1" cy="623.9" r="2.6"/>
<circle cx="138.3" cy="631.7" r="2.6"/>
<circle cx="138.5" cy="657.2" r="2.6"/>
<circle cx="141.6" cy="668.4" r="2.6"/>
<circle cx="142.4" cy="657.4" r="2.6"/>
<circle cx="144.0" cy="645.3" r="2.6"/>
<circle cx="139.6" cy="644.1" r="2.6"/>
<circle cx="145.8" cy="626.8" r="2.6"/>
<circle cx="142.8" cy="606.3" r="2.6"/>
<circle cx="144.9" cy="640.2" r="2.6"/>
<circle cx="141.3" cy="634.7" r="2.6"/>
<circle cx="137.4" cy="646.1" r="2.6"/>
<circle cx="136.9" cy="610.7" r="2.6"/>
<circle cx="142.9" cy="654.3" r="2.6"/>
<circle cx="140.8" cy="612.1" r="2.6"/>
<circle cx="141.0" cy="654.9" r="2.6"/>
<circle cx="139.9" cy="623.3" r="2.6"/>
<circle cx="138.5" cy="636.6" r="2.6"/>
<circle cx="141.3" cy="629.3" r="2.6"/>
<circle cx="139.2" cy="615.7" r="2.6"/>
<circle cx="145.3" cy="667.6" r="2.6"/>
<circle cx="138.5" cy="603.6" r="2.6"/>
<circle cx="146.0" cy="667.8" r="2.6"/>
<circle cx="145.0" cy="645.2" r="2.6"/>
<circle cx="140.4" cy="644.7" r="2.6"/>
<circle cx="144.2" cy="604.2" r="2.6"/>
<circle cx="142.3" cy="628.4" r="2.6"/>
<circle cx="141.2" cy="662.7" r="2.6"/>
<circle cx="144.5" cy="665.4" r="2.6"/>
<circle cx="144.7" cy="603.2" r="2.6"/>
<circle cx="138.7" cy="667.3" r="2.6"/>
<circle cx="145.4" cy="668.6" r="2.6"/>
<circle cx="137.1" cy="657.6" r="2.6"/>
<circle cx="136.8" cy="626.1" r="2.6"/>
<circle cx="141.4" cy="609.1" r="2.6"/>
<circle cx="139.6" cy="640.7" r="2.6"/>
<circle cx="140.8" cy="609.2" r="2.6"/>
<circle cx="141.3" cy="600.9" r="2.6"/>
<circle cx="141.2" cy="636.0" r="2.6"/>
<circle cx="145.5" cy="633.4" r="2.6"/>
<circle cx="145.6" cy="624.6" r="2.6"/>
<circle cx="140.1" cy="647.5" r="2.6"/>
<circle cx="139.5" cy="587.0" r="2.6"/>
<circle cx="143.0" cy="653.5" r="2.6"/>
<circle cx="138.7" cy="645.6" r="2.6"/>
<circle cx="140.6" cy="647.8" r="2.6"/>
<circle cx="143.6" cy="620.4" r="2.6"/>
<circle cx="136.8" cy="666.2" r="2.6"/>
<circle cx="144.2" cy="662.5" r="2.6"/>
<circle cx="143.8" cy="639.8" r="2.6"/>
<circle cx="140.5" cy="633.4" r="2.6"/>
<circle cx="139.1" cy="659.7" r="2.6"/>
<circle cx="141.9" cy="606.8" r="2.6"/>
<circle cx="139.6" cy="654.0" r="2.6"/>
</g>
<g fill="#2b9bd0" fill-opacity="0.26">
<circle cx="177.6" cy="646.2" r="2.6"/>
<circle cx="175.4" cy="617.7" r="2.6"/>
<circle cx="172.7" cy="620.9" r="2.6"/>
<circle cx="177.5" cy="632.8" r="2.6"/>
<circle cx="175.6" cy="639.8" r="2.6"/>
<circle cx="171.0" cy="659.4" r="2.6"/>
<circle cx="173.7" cy="631.2" r="2.6"/>
<circle cx="174.5" cy="649.2" r="2.6"/>
<circle cx="178.8" cy="623.0" r="2.6"/>
<circle cx="172.8" cy="647.9" r="2.6"/>
<circle cx="174.1" cy="604.1" r="2.6"/>
<circle cx="179.1" cy="656.7" r="2.6"/>
<circle cx="173.8" cy="626.0" r="2.6"/>
<circle cx="177.7" cy="590.9" r="2.6"/>
<circle cx="170.7" cy="611.0" r="2.6"/>
<circle cx="173.5" cy="661.5" r="2.6"/>
<circle cx="171.5" cy="616.4" r="2.6"/>
<circle cx="178.2" cy="651.4" r="2.6"/>
<circle cx="175.1" cy="640.2" r="2.6"/>
<circle cx="171.8" cy="596.3" r="2.6"/>
<circle cx="170.6" cy="596.8" r="2.6"/>
<circle cx="173.8" cy="604.9" r="2.6"/>
<circle cx="170.7" cy="659.5" r="2.6"/>
<circle cx="174.4" cy="658.2" r="2.6"/>
<circle cx="176.7" cy="638.4" r="2.6"/>
<circle cx="172.7" cy="652.0" r="2.6"/>
<circle cx="171.4" cy="640.0" r="2.6"/>
<circle cx="173.2" cy="630.6" r="2.6"/>
<circle cx="171.3" cy="658.4" r="2.6"/>
<circle cx="177.9" cy="625.1" r="2.6"/>
<circle cx="170.7" cy="599.7" r="2.6"/>
<circle cx="176.9" cy="598.2" r="2.6"/>
<circle cx="173.0" cy="654.4" r="2.6"/>
<circle cx="176.7" cy="644.3" r="2.6"/>
<circle cx="177.2" cy="659.1" r="2.6"/>
<circle cx="171.0" cy="633.4" r="2.6"/>
<circle cx="177.0" cy="603.9" r="2.6"/>
<circle cx="178.8" cy="632.1" r="2.6"/>
<circle cx="175.2" cy="654.2" r="2.6"/>
<circle cx="175.9" cy="650.3" r="2.6"/>
<circle cx="172.8" cy="611.8" r="2.6"/>
<circle cx="171.4" cy="599.6" r="2.6"/>
<circle cx="176.9" cy="588.5" r="2.6"/>
<circle cx="177.6" cy="641.0" r="2.6"/>
<circle cx="171.7" cy="655.5" r="2.6"/>
<circle cx="170.8" cy="616.3" r="2.6"/>
<circle cx="173.1" cy="594.4" r="2.6"/>
<circle cx="175.8" cy="650.4" r="2.6"/>
<circle cx="173.3" cy="631.7" r="2.6"/>
<circle cx="179.0" cy="639.6" r="2.6"/>
<circle cx="177.3" cy="663.0" r="2.6"/>
<circle cx="178.5" cy="637.8" r="2.6"/>
<circle cx="175.5" cy="643.6" r="2.6"/>
<circle cx="177.0" cy="621.7" r="2.6"/>
<circle cx="178.9" cy="652.0" r="2.6"/>
<circle cx="170.1" cy="597.4" r="2.6"/>
<circle cx="175.3" cy="650.8" r="2.6"/>
<circle cx="171.5" cy="631.8" r="2.6"/>
<circle cx="177.4" cy="598.2" r="2.6"/>
<circle cx="172.0" cy="594.6" r="2.6"/>
<circle cx="176.9" cy="628.7" r="2.6"/>
<circle cx="172.9" cy="658.2" r="2.6"/>
<circle cx="176.0" cy="646.5" r="2.6"/>
<circle cx="176.3" cy="648.4" r="2.6"/>
<circle cx="178.5" cy="637.3" r="2.6"/>
<circle cx="178.1" cy="633.3" r="2.6"/>
<circle cx="174.0" cy="644.6" r="2.6"/>
<circle cx="176.4" cy="661.2" r="2.6"/>
<circle cx="171.5" cy="645.5" r="2.6"/>
<circle cx="170.7" cy="642.1" r="2.6"/>
<circle cx="176.6" cy="650.0" r="2.6"/>
<circle cx="178.5" cy="637.8" r="2.6"/>
<circle cx="176.9" cy="654.5" r="2.6"/>
<circle cx="174.7" cy="640.8" r="2.6"/>
<circle cx="175.8" cy="643.9" r="2.6"/>
<circle cx="176.8" cy="648.9" r="2.6"/>
<circle cx="175.2" cy="661.3" r="2.6"/>
<circle cx="173.2" cy="661.9" r="2.6"/>
<circle cx="177.9" cy="661.6" r="2.6"/>
<circle cx="173.3" cy="596.0" r="2.6"/>
<circle cx="178.4" cy="651.8" r="2.6"/>
<circle cx="177.4" cy="605.5" r="2.6"/>
<circle cx="177.4" cy="597.8" r="2.6"/>
<circle cx="177.8" cy="663.0" r="2.6"/>
<circle cx="179.2" cy="603.5" r="2.6"/>
<circle cx="179.3" cy="653.6" r="2.6"/>
<circle cx="174.6" cy="657.5" r="2.6"/>
<circle cx="173.4" cy="630.1" r="2.6"/>
<circle cx="176.8" cy="603.1" r="2.6"/>
<circle cx="179.0" cy="640.5" r="2.6"/>
<circle cx="175.8" cy="610.1" r="2.6"/>
<circle cx="170.0" cy="660.9" r="2.6"/>
<circle cx="170.1" cy="602.7" r="2.6"/>
<circle cx="174.2" cy="591.7" r="2.6"/>
<circle cx="177.3" cy="658.5" r="2.6"/>
<circle cx="178.3" cy="650.1" r="2.6"/>
<circle cx="173.4" cy="662.8" r="2.6"/>
<circle cx="174.7" cy="663.2" r="2.6"/>
<circle cx="174.7" cy="583.2" r="2.6"/>
<circle cx="170.7" cy="649.6" r="2.6"/>
<circle cx="169.8" cy="626.4" r="2.6"/>
<circle cx="174.8" cy="657.3" r="2.6"/>
<circle cx="174.6" cy="664.3" r="2.6"/>
<circle cx="178.0" cy="650.3" r="2.6"/>
<circle cx="171.5" cy="648.5" r="2.6"/>
<circle cx="177.9" cy="650.7" r="2.6"/>
<circle cx="172.4" cy="656.3" r="2.6"/>
<circle cx="174.9" cy="595.6" r="2.6"/>
<circle cx="176.5" cy="662.6" r="2.6"/>
<circle cx="171.1" cy="642.0" r="2.6"/>
<circle cx="178.8" cy="619.1" r="2.6"/>
<circle cx="178.9" cy="640.3" r="2.6"/>
<circle cx="179.1" cy="638.6" r="2.6"/>
<circle cx="169.8" cy="653.1" r="2.6"/>
<circle cx="175.9" cy="661.7" r="2.6"/>
<circle cx="176.2" cy="625.8" r="2.6"/>
<circle cx="178.2" cy="601.4" r="2.6"/>
<circle cx="171.7" cy="625.7" r="2.6"/>
<circle cx="170.9" cy="655.1" r="2.6"/>
<circle cx="177.5" cy="648.8" r="2.6"/>
<circle cx="172.3" cy="645.9" r="2.6"/>
<circle cx="170.4" cy="620.6" r="2.6"/>
<circle cx="170.6" cy="645.5" r="2.6"/>
<circle cx="175.9" cy="601.5" r="2.6"/>
<circle cx="174.9" cy="652.0" r="2.6"/>
<circle cx="176.9" cy="660.4" r="2.6"/>
<circle cx="177.5" cy="642.6" r="2.6"/>
<circle cx="169.8" cy="641.1" r="2.6"/>
<circle cx="178.7" cy="589.8" r="2.6"/>
<circle cx="178.2" cy="627.9" r="2.6"/>
<circle cx="178.7" cy="657.3" r="2.6"/>
<circle cx="177.1" cy="640.2" r="2.6"/>
<circle cx="173.4" cy="641.5" r="2.6"/>
<circle cx="172.1" cy="619.3" r="2.6"/>
<circle cx="178.5" cy="603.6" r="2.6"/>
<circle cx="173.8" cy="637.3" r="2.6"/>
<circle cx="174.4" cy="640.6" r="2.6"/>
<circle cx="176.5" cy="659.0" r="2.6"/>
<circle cx="176.4" cy="654.5" r="2.6"/>
<circle cx="176.4" cy="612.8" r="2.6"/>
<circle cx="175.7" cy="642.7" r="2.6"/>
<circle cx="174.6" cy="648.0" r="2.6"/>
<circle cx="177.1" cy="650.3" r="2.6"/>
<circle cx="173.5" cy="632.3" r="2.6"/>
<circle cx="172.3" cy="661.4" r="2.6"/>
<circle cx="178.5" cy="645.6" r="2.6"/>
<circle cx="177.9" cy="653.7" r="2.6"/>
<circle cx="176.6" cy="631.0" r="2.6"/>
<circle cx="171.4" cy="636.7" r="2.6"/>
<circle cx="170.2" cy="609.9" r="2.6"/>
<circle cx="178.6" cy="588.5" r="2.6"/>
<circle cx="178.8" cy="659.9" r="2.6"/>
<circle cx="172.4" cy="610.4" r="2.6"/>
<circle cx="175.8" cy="643.5" r="2.6"/>
<circle cx="169.9" cy="628.6" r="2.6"/>
<circle cx="173.5" cy="663.8" r="2.6"/>
<circle cx="176.5" cy="595.2" r="2.6"/>
<circle cx="173.2" cy="535.1" r="2.6"/>
<circle cx="177.5" cy="647.7" r="2.6"/>
<circle cx="178.5" cy="639.9" r="2.6"/>
<circle cx="171.1" cy="647.9" r="2.6"/>
<circle cx="176.4" cy="641.2" r="2.6"/>
<circle cx="173.4" cy="559.9" r="2.6"/>
<circle cx="171.4" cy="662.7" r="2.6"/>
<circle cx="173.1" cy="659.5" r="2.6"/>
<circle cx="174.4" cy="662.2" r="2.6"/>
<circle cx="178.4" cy="640.2" r="2.6"/>
<circle cx="177.1" cy="573.1" r="2.6"/>
<circle cx="169.8" cy="652.9" r="2.6"/>
<circle cx="170.3" cy="625.4" r="2.6"/>
<circle cx="179.3" cy="648.2" r="2.6"/>
<circle cx="175.1" cy="664.1" r="2.6"/>
<circle cx="175.6" cy="591.3" r="2.6"/>
<circle cx="173.1" cy="649.3" r="2.6"/>
<circle cx="177.7" cy="630.2" r="2.6"/>
<circle cx="175.1" cy="609.3" r="2.6"/>
<circle cx="175.4" cy="643.4" r="2.6"/>
<circle cx="172.1" cy="652.4" r="2.6"/>
<circle cx="177.2" cy="616.4" r="2.6"/>
<circle cx="171.8" cy="644.1" r="2.6"/>
<circle cx="171.1" cy="608.8" r="2.6"/>
<circle cx="175.5" cy="660.1" r="2.6"/>
<circle cx="177.7" cy="613.2" r="2.6"/>
<circle cx="172.6" cy="648.8" r="2.6"/>
<circle cx="172.7" cy="607.4" r="2.6"/>
<circle cx="171.2" cy="598.1" r="2.6"/>
<circle cx="175.5" cy="599.9" r="2.6"/>
<circle cx="177.1" cy="588.3" r="2.6"/>
<circle cx="171.0" cy="642.3" r="2.6"/>
<circle cx="174.9" cy="601.1" r="2.6"/>
<circle cx="174.9" cy="616.2" r="2.6"/>
<circle cx="170.8" cy="643.8" r="2.6"/>
<circle cx="174.8" cy="589.6" r="2.6"/>
<circle cx="172.4" cy="616.5" r="2.6"/>
<circle cx="171.7" cy="634.4" r="2.6"/>
<circle cx="179.2" cy="609.3" r="2.6"/>
<circle cx="170.6" cy="549.8" r="2.6"/>
<circle cx="173.0" cy="637.1" r="2.6"/>
<circle cx="175.7" cy="641.9" r="2.6"/>
<circle cx="173.6" cy="587.5" r="2.6"/>
<circle cx="169.9" cy="613.4" r="2.6"/>
<circle cx="178.1" cy="657.2" r="2.6"/>
<circle cx="172.0" cy="650.7" r="2.6"/>
<circle cx="173.7" cy="659.9" r="2.6"/>
<circle cx="178.5" cy="615.1" r="2.6"/>
<circle cx="179.1" cy="620.5" r="2.6"/>
<circle cx="178.5" cy="657.9" r="2.6"/>
<circle cx="173.7" cy="637.9" r="2.6"/>
<circle cx="176.9" cy="566.1" r="2.6"/>
<circle cx="177.9" cy="657.7" r="2.6"/>
<circle cx="171.6" cy="614.8" r="2.6"/>
<circle cx="179.1" cy="659.3" r="2.6"/>
<circle cx="170.7" cy="618.5" r="2.6"/>
<circle cx="176.1" cy="651.9" r="2.6"/>
<circle cx="172.0" cy="647.8" r="2.6"/>
<circle cx="171.8" cy="649.5" r="2.6"/>
<circle cx="171.1" cy="600.8" r="2.6"/>
<circle cx="178.8" cy="587.9" r="2.6"/>
<circle cx="171.0" cy="659.3" r="2.6"/>
<circle cx="178.5" cy="609.9" r="2.6"/>
<circle cx="171.3" cy="650.5" r="2.6"/>
<circle cx="172.9" cy="654.6" r="2.6"/>
<circle cx="171.8" cy="659.1" r="2.6"/>
<circle cx="179.2" cy="662.9" r="2.6"/>
<circle cx="170.6" cy="654.5" r="2.6"/>
<circle cx="178.0" cy="645.6" r="2.6"/>
<circle cx="172.6" cy="636.5" r="2.6"/>
<circle cx="178.9" cy="654.4" r="2.6"/>
<circle cx="177.0" cy="593.1" r="2.6"/>
<circle cx="172.3" cy="588.3" r="2.6"/>
<circle cx="174.6" cy="637.9" r="2.6"/>
<circle cx="171.3" cy="660.2" r="2.6"/>
<circle cx="173.7" cy="657.9" r="2.6"/>
<circle cx="170.0" cy="631.0" r="2.6"/>
<circle cx="176.3" cy="658.0" r="2.6"/>
<circle cx="175.4" cy="604.6" r="2.6"/>
<circle cx="172.4" cy="600.8" r="2.6"/>
<circle cx="169.9" cy="646.9" r="2.6"/>
<circle cx="178.8" cy="662.1" r="2.6"/>
<circle cx="170.9" cy="634.3" r="2.6"/>
<circle cx="172.9" cy="656.9" r="2.6"/>
<circle cx="170.0" cy="657.4" r="2.6"/>
<circle cx="173.4" cy="623.1" r="2.6"/>
<circle cx="173.6" cy="651.8" r="2.6"/>
<circle cx="174.9" cy="657.0" r="2.6"/>
<circle cx="172.9" cy="603.1" r="2.6"/>
<circle cx="172.1" cy="650.5" r="2.6"/>
<circle cx="177.3" cy="627.3" r="2.6"/>
<circle cx="172.4" cy="645.1" r="2.6"/>
<circle cx="172.9" cy="600.5" r="2.6"/>
<circle cx="174.5" cy="595.0" r="2.6"/>
<circle cx="172.4" cy="650.0" r="2.6"/>
<circle cx="176.7" cy="610.5" r="2.6"/>
<circle cx="170.6" cy="658.7" r="2.6"/>
<circle cx="172.9" cy="630.3" r="2.6"/>
<circle cx="173.8" cy="642.3" r="2.6"/>
<circle cx="172.2" cy="663.9" r="2.6"/>
<circle cx="177.8" cy="654.2" r="2.6"/>
<circle cx="173.1" cy="629.5" r="2.6"/>
<circle cx="173.8" cy="633.2" r="2.6"/>
<circle cx="174.3" cy="650.0" r="2.6"/>
<circle cx="177.7" cy="657.3" r="2.6"/>
<circle cx="171.8" cy="658.8" r="2.6"/>
<circle cx="177.7" cy="634.4" r="2.6"/>
<circle cx="178.9" cy="610.6" r="2.6"/>
<circle cx="172.3" cy="596.4" r="2.6"/>
<circle cx="171.4" cy="650.4" r="2.6"/>
<circle cx="177.3" cy="653.8" r="2.6"/>
<circle cx="172.8" cy="637.9" r="2.6"/>
<circle cx="171.9" cy="637.3" r="2.6"/>
<circle cx="170.5" cy="639.9" r="2.6"/>
<circle cx="175.6" cy="602.4" r="2.6"/>
<circle cx="178.7" cy="661.6" r="2.6"/>
<circle cx="178.2" cy="663.7" r="2.6"/>
<circle cx="175.4" cy="627.6" r="2.6"/>
<circle cx="174.0" cy="630.2" r="2.6"/>
<circle cx="179.1" cy="593.2" r="2.6"/>
<circle cx="176.1" cy="592.9" r="2.6"/>
<circle cx="178.9" cy="622.9" r="2.6"/>
<circle cx="176.4" cy="575.4" r="2.6"/>
<circle cx="176.4" cy="615.8" r="2.6"/>
<circle cx="176.5" cy="662.7" r="2.6"/>
<circle cx="171.0" cy="651.7" r="2.6"/>
<circle cx="172.2" cy="643.6" r="2.6"/>
<circle cx="170.4" cy="636.5" r="2.6"/>
<circle cx="178.7" cy="624.9" r="2.6"/>
<circle cx="179.3" cy="654.7" r="2.6"/>
<circle cx="175.6" cy="638.0" r="2.6"/>
<circle cx="171.2" cy="629.1" r="2.6"/>
<circle cx="170.9" cy="647.0" r="2.6"/>
<circle cx="174.0" cy="660.9" r="2.6"/>
<circle cx="173.5" cy="632.1" r="2.6"/>
<circle cx="171.6" cy="630.3" r="2.6"/>
<circle cx="170.6" cy="620.4" r="2.6"/>
<circle cx="176.0" cy="641.8" r="2.6"/>
<circle cx="177.4" cy="623.2" r="2.6"/>
<circle cx="170.4" cy="588.3" r="2.6"/>
<circle cx="172.7" cy="641.8" r="2.6"/>
<circle cx="172.6" cy="633.2" r="2.6"/>
<circle cx="175.0" cy="634.3" r="2.6"/>
<circle cx="175.6" cy="628.3" r="2.6"/>
<circle cx="173.7" cy="659.8" r="2.6"/>
<circle cx="178.1" cy="591.7" r="2.6"/>
<circle cx="173.5" cy="650.3" r="2.6"/>
<circle cx="172.7" cy="626.2" r="2.6"/>
<circle cx="177.1" cy="647.8" r="2.6"/>
<circle cx="177.8" cy="621.3" r="2.6"/>
<circle cx="178.2" cy="656.5" r="2.6"/>
<circle cx="171.4" cy="644.8" r="2.6"/>
<circle cx="171.6" cy="660.7" r="2.6"/>
<circle cx="174.2" cy="599.5" r="2.6"/>
<circle cx="179.0" cy="648.1" r="2.6"/>
<circle cx="175.7" cy="655.6" r="2.6"/>
<circle cx="175.7" cy="652.0" r="2.6"/>
<circle cx="172.9" cy="651.5" r="2.6"/>
<circle cx="179.3" cy="600.6" r="2.6"/>
<circle cx="171.5" cy="655.1" r="2.6"/>
<circle cx="175.1" cy="594.8" r="2.6"/>
<circle cx="176.2" cy="628.6" r="2.6"/>
<circle cx="177.5" cy="655.5" r="2.6"/>
<circle cx="177.6" cy="609.4" r="2.6"/>
<circle cx="173.5" cy="635.2" r="2.6"/>
<circle cx="172.4" cy="577.7" r="2.6"/>
<circle cx="179.2" cy="631.7" r="2.6"/>
<circle cx="175.1" cy="593.4" r="2.6"/>
<circle cx="172.5" cy="657.8" r="2.6"/>
<circle cx="171.1" cy="621.9" r="2.6"/>
<circle cx="177.5" cy="643.7" r="2.6"/>
<circle cx="177.9" cy="613.7" r="2.6"/>
<circle cx="175.2" cy="662.9" r="2.6"/>
<circle cx="173.4" cy="603.3" r="2.6"/>
<circle cx="176.1" cy="648.8" r="2.6"/>
<circle cx="179.2" cy="596.2" r="2.6"/>
<circle cx="175.3" cy="611.2" r="2.6"/>
<circle cx="177.3" cy="621.3" r="2.6"/>
<circle cx="178.2" cy="657.8" r="2.6"/>
<circle cx="177.0" cy="655.7" r="2.6"/>
<circle cx="174.4" cy="618.6" r="2.6"/>
<circle cx="171.5" cy="636.7" r="2.6"/>
<circle cx="176.4" cy="636.9" r="2.6"/>
<circle cx="177.7" cy="643.7" r="2.6"/>
<circle cx="179.0" cy="612.8" r="2.6"/>
<circle cx="171.2" cy="637.6" r="2.6"/>
<circle cx="170.8" cy="628.2" r="2.6"/>
<circle cx="175.9" cy="663.9" r="2.6"/>
<circle cx="177.7" cy="615.8" r="2.6"/>
<circle cx="170.5" cy="663.8" r="2.6"/>
<circle cx="175.6" cy="596.1" r="2.6"/>
<circle cx="172.3" cy="642.4" r="2.6"/>
<circle cx="179.3" cy="664.0" r="2.6"/>
<circle cx="173.2" cy="624.3" r="2.6"/>
<circle cx="170.5" cy="590.0" r="2.6"/>
<circle cx="177.3" cy="663.6" r="2.6"/>
<circle cx="172.6" cy="661.5" r="2.6"/>
<circle cx="173.8" cy="657.8" r="2.6"/>
<circle cx="171.0" cy="616.9" r="2.6"/>
<circle cx="172.9" cy="594.9" r="2.6"/>
<circle cx="171.0" cy="646.7" r="2.6"/>
<circle cx="172.2" cy="617.0" r="2.6"/>
<circle cx="175.3" cy="627.6" r="2.6"/>
<circle cx="172.6" cy="571.5" r="2.6"/>
<circle cx="176.2" cy="634.5" r="2.6"/>
<circle cx="178.4" cy="645.2" r="2.6"/>
<circle cx="175.3" cy="654.0" r="2.6"/>
<circle cx="170.0" cy="654.3" r="2.6"/>
<circle cx="179.0" cy="601.6" r="2.6"/>
<circle cx="171.6" cy="650.3" r="2.6"/>
<circle cx="173.1" cy="595.8" r="2.6"/>
<circle cx="174.8" cy="656.5" r="2.6"/>
<circle cx="175.7" cy="622.4" r="2.6"/>
<circle cx="173.0" cy="654.8" r="2.6"/>
<circle cx="174.0" cy="655.0" r="2.6"/>
<circle cx="175.8" cy="648.0" r="2.6"/>
<circle cx="174.1" cy="593.1" r="2.6"/>
<circle cx="172.5" cy="657.4" r="2.6"/>
<circle cx="173.7" cy="656.6" r="2.6"/>
<circle cx="173.4" cy="659.3" r="2.6"/>
<circle cx="172.6" cy="631.1" r="2.6"/>
<circle cx="175.5" cy="620.4" r="2.6"/>
<circle cx="174.7" cy="597.3" r="2.6"/>
<circle cx="173.7" cy="610.8" r="2.6"/>
<circle cx="176.6" cy="629.7" r="2.6"/>
<circle cx="177.6" cy="640.4" r="2.6"/>
<circle cx="176.0" cy="627.7" r="2.6"/>
<circle cx="173.0" cy="663.7" r="2.6"/>
<circle cx="178.7" cy="656.2" r="2.6"/>
<circle cx="170.8" cy="588.5" r="2.6"/>
<circle cx="177.5" cy="652.3" r="2.6"/>
<circle cx="173.8" cy="651.4" r="2.6"/>
<circle cx="173.6" cy="662.6" r="2.6"/>
<circle cx="177.8" cy="631.5" r="2.6"/>
<circle cx="176.0" cy="632.9" r="2.6"/>
<circle cx="179.1" cy="652.4" r="2.6"/>
<circle cx="178.2" cy="624.8" r="2.6"/>
<circle cx="170.9" cy="602.6" r="2.6"/>
<circle cx="174.6" cy="579.3" r="2.6"/>
<circle cx="177.1" cy="657.6" r="2.6"/>
<circle cx="170.5" cy="656.1" r="2.6"/>
<circle cx="175.0" cy="635.1" r="2.6"/>
<circle cx="179.3" cy="624.5" r="2.6"/>
<circle cx="172.0" cy="622.8" r="2.6"/>
<circle cx="170.9" cy="649.8" r="2.6"/>
<circle cx="172.5" cy="643.1" r="2.6"/>
<circle cx="173.1" cy="660.8" r="2.6"/>
<circle cx="172.5" cy="590.5" r="2.6"/>
<circle cx="173.9" cy="649.2" r="2.6"/>
<circle cx="177.8" cy="634.9" r="2.6"/>
<circle cx="174.7" cy="630.0" r="2.6"/>
<circle cx="175.4" cy="601.2" r="2.6"/>
<circle cx="170.8" cy="657.2" r="2.6"/>
<circle cx="170.4" cy="512.6" r="2.6"/>
<circle cx="178.9" cy="634.9" r="2.6"/>
<circle cx="173.1" cy="603.6" r="2.6"/>
<circle cx="178.8" cy="649.2" r="2.6"/>
<circle cx="173.0" cy="627.4" r="2.6"/>
<circle cx="175.9" cy="613.8" r="2.6"/>
<circle cx="176.1" cy="664.2" r="2.6"/>
<circle cx="170.6" cy="640.9" r="2.6"/>
<circle cx="170.4" cy="603.5" r="2.6"/>
<circle cx="174.0" cy="660.5" r="2.6"/>
<circle cx="171.0" cy="611.1" r="2.6"/>
</g>
<g fill="#93d3cf" fill-opacity="0.3">
<circle cx="233.9" cy="556.9" r="2.6"/>
<circle cx="232.9" cy="614.5" r="2.6"/>
<circle cx="234.1" cy="649.9" r="2.6"/>
<circle cx="235.4" cy="594.2" r="2.6"/>
<circle cx="234.0" cy="582.5" r="2.6"/>
<circle cx="234.3" cy="556.0" r="2.6"/>
<circle cx="235.7" cy="605.8" r="2.6"/>
<circle cx="237.6" cy="607.9" r="2.6"/>
<circle cx="231.5" cy="582.4" r="2.6"/>
<circle cx="240.6" cy="600.3" r="2.6"/>
<circle cx="235.2" cy="544.7" r="2.6"/>
<circle cx="239.9" cy="626.7" r="2.6"/>
<circle cx="231.1" cy="644.1" r="2.6"/>
<circle cx="231.6" cy="644.2" r="2.6"/>
<circle cx="232.0" cy="623.2" r="2.6"/>
<circle cx="239.8" cy="657.4" r="2.6"/>
<circle cx="235.0" cy="659.5" r="2.6"/>
<circle cx="239.2" cy="636.3" r="2.6"/>
<circle cx="237.7" cy="627.5" r="2.6"/>
<circle cx="231.9" cy="555.6" r="2.6"/>
<circle cx="234.5" cy="654.4" r="2.6"/>
<circle cx="234.2" cy="647.1" r="2.6"/>
<circle cx="235.4" cy="635.6" r="2.6"/>
<circle cx="238.3" cy="564.4" r="2.6"/>
<circle cx="231.9" cy="623.9" r="2.6"/>
<circle cx="239.9" cy="594.8" r="2.6"/>
<circle cx="235.6" cy="656.4" r="2.6"/>
<circle cx="234.6" cy="630.6" r="2.6"/>
<circle cx="237.7" cy="628.5" r="2.6"/>
<circle cx="233.7" cy="658.2" r="2.6"/>
<circle cx="237.9" cy="635.6" r="2.6"/>
<circle cx="235.0" cy="603.0" r="2.6"/>
<circle cx="235.6" cy="661.0" r="2.6"/>
<circle cx="232.9" cy="652.7" r="2.6"/>
<circle cx="233.0" cy="622.0" r="2.6"/>
<circle cx="239.3" cy="600.3" r="2.6"/>
<circle cx="236.6" cy="637.9" r="2.6"/>
<circle cx="235.1" cy="590.2" r="2.6"/>
<circle cx="238.5" cy="576.2" r="2.6"/>
<circle cx="239.8" cy="655.9" r="2.6"/>
<circle cx="232.6" cy="637.8" r="2.6"/>
<circle cx="240.6" cy="652.4" r="2.6"/>
<circle cx="231.2" cy="657.3" r="2.6"/>
<circle cx="236.9" cy="628.7" r="2.6"/>
<circle cx="233.6" cy="644.4" r="2.6"/>
<circle cx="233.5" cy="618.5" r="2.6"/>
<circle cx="235.8" cy="662.9" r="2.6"/>
<circle cx="236.9" cy="555.4" r="2.6"/>
<circle cx="235.2" cy="638.3" r="2.6"/>
<circle cx="237.9" cy="638.5" r="2.6"/>
<circle cx="240.2" cy="589.4" r="2.6"/>
<circle cx="232.7" cy="645.6" r="2.6"/>
<circle cx="233.3" cy="666.3" r="2.6"/>
<circle cx="236.9" cy="625.2" r="2.6"/>
<circle cx="235.0" cy="594.5" r="2.6"/>
<circle cx="234.1" cy="544.4" r="2.6"/>
<circle cx="235.9" cy="609.0" r="2.6"/>
<circle cx="237.7" cy="591.5" r="2.6"/>
<circle cx="239.8" cy="580.7" r="2.6"/>
<circle cx="240.1" cy="548.3" r="2.6"/>
<circle cx="238.9" cy="596.6" r="2.6"/>
<circle cx="234.4" cy="645.0" r="2.6"/>
<circle cx="239.5" cy="575.1" r="2.6"/>
<circle cx="237.9" cy="554.0" r="2.6"/>
<circle cx="232.7" cy="643.2" r="2.6"/>
<circle cx="240.2" cy="635.2" r="2.6"/>
<circle cx="233.4" cy="639.8" r="2.6"/>
<circle cx="237.6" cy="601.8" r="2.6"/>
<circle cx="237.7" cy="663.2" r="2.6"/>
<circle cx="239.8" cy="648.6" r="2.6"/>
<circle cx="237.4" cy="644.9" r="2.6"/>
<circle cx="240.5" cy="577.8" r="2.6"/>
<circle cx="231.6" cy="640.6" r="2.6"/>
<circle cx="231.4" cy="659.1" r="2.6"/>
<circle cx="232.9" cy="574.8" r="2.6"/>
<circle cx="236.6" cy="593.6" r="2.6"/>
<circle cx="235.1" cy="555.4" r="2.6"/>
<circle cx="231.8" cy="543.7" r="2.6"/>
<circle cx="233.0" cy="660.4" r="2.6"/>
<circle cx="236.6" cy="550.5" r="2.6"/>
<circle cx="234.9" cy="643.3" r="2.6"/>
<circle cx="238.4" cy="598.9" r="2.6"/>
<circle cx="235.5" cy="646.7" r="2.6"/>
<circle cx="239.5" cy="652.5" r="2.6"/>
<circle cx="238.3" cy="636.8" r="2.6"/>
<circle cx="235.8" cy="632.5" r="2.6"/>
<circle cx="234.5" cy="575.9" r="2.6"/>
<circle cx="233.1" cy="624.4" r="2.6"/>
<circle cx="233.9" cy="602.2" r="2.6"/>
<circle cx="234.5" cy="601.0" r="2.6"/>
<circle cx="234.5" cy="585.6" r="2.6"/>
<circle cx="232.8" cy="580.9" r="2.6"/>
<circle cx="235.6" cy="626.6" r="2.6"/>
<circle cx="232.1" cy="604.7" r="2.6"/>
<circle cx="239.4" cy="555.2" r="2.6"/>
<circle cx="236.3" cy="595.7" r="2.6"/>
<circle cx="232.0" cy="665.7" r="2.6"/>
<circle cx="234.2" cy="625.3" r="2.6"/>
<circle cx="233.5" cy="649.6" r="2.6"/>
<circle cx="232.5" cy="547.8" r="2.6"/>
<circle cx="235.7" cy="643.5" r="2.6"/>
<circle cx="232.8" cy="628.7" r="2.6"/>
<circle cx="232.5" cy="595.9" r="2.6"/>
<circle cx="237.8" cy="574.9" r="2.6"/>
<circle cx="235.2" cy="649.8" r="2.6"/>
<circle cx="237.5" cy="621.4" r="2.6"/>
<circle cx="235.6" cy="639.9" r="2.6"/>
<circle cx="235.9" cy="605.2" r="2.6"/>
<circle cx="234.0" cy="555.8" r="2.6"/>
<circle cx="235.1" cy="657.3" r="2.6"/>
<circle cx="235.7" cy="642.5" r="2.6"/>
<circle cx="234.3" cy="666.2" r="2.6"/>
<circle cx="239.0" cy="587.3" r="2.6"/>
<circle cx="233.4" cy="648.8" r="2.6"/>
<circle cx="233.2" cy="645.0" r="2.6"/>
<circle cx="234.4" cy="641.1" r="2.6"/>
<circle cx="238.6" cy="652.3" r="2.6"/>
<circle cx="239.2" cy="656.4" r="2.6"/>
<circle cx="236.5" cy="557.1" r="2.6"/>
<circle cx="234.5" cy="626.8" r="2.6"/>
<circle cx="237.3" cy="592.1" r="2.6"/>
<circle cx="239.0" cy="638.7" r="2.6"/>
<circle cx="233.4" cy="600.9" r="2.6"/>
<circle cx="237.5" cy="649.0" r="2.6"/>
<circle cx="237.9" cy="659.8" r="2.6"/>
<circle cx="234.8" cy="640.7" r="2.6"/>
<circle cx="232.4" cy="653.9" r="2.6"/>
<circle cx="236.9" cy="550.7" r="2.6"/>
<circle cx="233.1" cy="647.7" r="2.6"/>
<circle cx="234.6" cy="664.6" r="2.6"/>
<circle cx="236.3" cy="563.7" r="2.6"/>
<circle cx="240.3" cy="547.7" r="2.6"/>
<circle cx="232.5" cy="601.6" r="2.6"/>
<circle cx="231.8" cy="661.0" r="2.6"/>
<circle cx="236.2" cy="665.2" r="2.6"/>
<circle cx="240.1" cy="661.2" r="2.6"/>
<circle cx="231.5" cy="552.1" r="2.6"/>
<circle cx="237.2" cy="543.9" r="2.6"/>
<circle cx="231.3" cy="618.9" r="2.6"/>
<circle cx="236.3" cy="637.0" r="2.6"/>
<circle cx="232.2" cy="572.5" r="2.6"/>
<circle cx="237.4" cy="642.4" r="2.6"/>
<circle cx="234.5" cy="627.6" r="2.6"/>
<circle cx="237.3" cy="570.4" r="2.6"/>
<circle cx="233.5" cy="659.4" r="2.6"/>
<circle cx="231.8" cy="663.3" r="2.6"/>
<circle cx="232.8" cy="630.7" r="2.6"/>
<circle cx="233.7" cy="582.9" r="2.6"/>
<circle cx="232.6" cy="660.5" r="2.6"/>
<circle cx="233.0" cy="571.5" r="2.6"/>
<circle cx="236.3" cy="544.5" r="2.6"/>
<circle cx="235.3" cy="665.3" r="2.6"/>
<circle cx="239.0" cy="645.9" r="2.6"/>
<circle cx="235.8" cy="628.8" r="2.6"/>
<circle cx="236.2" cy="597.1" r="2.6"/>
<circle cx="237.9" cy="646.1" r="2.6"/>
<circle cx="239.2" cy="627.3" r="2.6"/>
<circle cx="236.7" cy="576.4" r="2.6"/>
<circle cx="231.4" cy="534.3" r="2.6"/>
<circle cx="235.5" cy="665.6" r="2.6"/>
<circle cx="231.4" cy="657.1" r="2.6"/>
<circle cx="236.9" cy="585.6" r="2.6"/>
<circle cx="231.7" cy="611.1" r="2.6"/>
<circle cx="236.2" cy="619.3" r="2.6"/>
<circle cx="232.5" cy="627.8" r="2.6"/>
<circle cx="239.3" cy="608.5" r="2.6"/>
<circle cx="232.0" cy="614.3" r="2.6"/>
<circle cx="237.4" cy="650.2" r="2.6"/>
<circle cx="237.8" cy="566.1" r="2.6"/>
<circle cx="233.7" cy="636.9" r="2.6"/>
<circle cx="236.7" cy="619.8" r="2.6"/>
<circle cx="234.2" cy="559.2" r="2.6"/>
<circle cx="233.5" cy="563.0" r="2.6"/>
<circle cx="233.5" cy="615.7" r="2.6"/>
<circle cx="231.2" cy="581.2" r="2.6"/>
<circle cx="237.5" cy="627.6" r="2.6"/>
<circle cx="231.7" cy="564.4" r="2.6"/>
<circle cx="232.9" cy="550.2" r="2.6"/>
<circle cx="231.9" cy="593.9" r="2.6"/>
<circle cx="238.8" cy="572.2" r="2.6"/>
<circle cx="236.1" cy="646.3" r="2.6"/>
<circle cx="235.5" cy="571.6" r="2.6"/>
<circle cx="236.6" cy="597.5" r="2.6"/>
<circle cx="238.8" cy="633.8" r="2.6"/>
<circle cx="237.0" cy="567.2" r="2.6"/>
<circle cx="236.0" cy="643.0" r="2.6"/>
<circle cx="234.1" cy="636.1" r="2.6"/>
<circle cx="236.0" cy="570.7" r="2.6"/>
<circle cx="240.5" cy="664.9" r="2.6"/>
<circle cx="236.5" cy="658.0" r="2.6"/>
<circle cx="235.6" cy="599.4" r="2.6"/>
<circle cx="239.6" cy="552.9" r="2.6"/>
<circle cx="231.6" cy="640.9" r="2.6"/>
<circle cx="231.7" cy="563.0" r="2.6"/>
<circle cx="238.6" cy="597.8" r="2.6"/>
<circle cx="240.1" cy="657.4" r="2.6"/>
<circle cx="231.5" cy="658.4" r="2.6"/>
<circle cx="231.3" cy="638.7" r="2.6"/>
<circle cx="231.1" cy="666.1" r="2.6"/>
<circle cx="236.6" cy="639.2" r="2.6"/>
<circle cx="232.4" cy="634.0" r="2.6"/>
<circle cx="236.4" cy="658.8" r="2.6"/>
<circle cx="237.4" cy="560.2" r="2.6"/>
<circle cx="231.2" cy="635.8" r="2.6"/>
<circle cx="239.4" cy="598.2" r="2.6"/>
<circle cx="233.5" cy="653.6" r="2.6"/>
<circle cx="236.4" cy="629.1" r="2.6"/>
<circle cx="234.4" cy="558.5" r="2.6"/>
<circle cx="234.3" cy="624.5" r="2.6"/>
<circle cx="234.9" cy="657.3" r="2.6"/>
<circle cx="231.1" cy="629.4" r="2.6"/>
<circle cx="235.2" cy="623.7" r="2.6"/>
<circle cx="233.6" cy="575.9" r="2.6"/>
<circle cx="234.5" cy="619.4" r="2.6"/>
<circle cx="232.6" cy="623.7" r="2.6"/>
<circle cx="234.3" cy="606.1" r="2.6"/>
<circle cx="237.8" cy="632.3" r="2.6"/>
<circle cx="240.5" cy="607.2" r="2.6"/>
<circle cx="232.9" cy="636.5" r="2.6"/>
<circle cx="239.4" cy="657.0" r="2.6"/>
<circle cx="237.0" cy="636.9" r="2.6"/>
<circle cx="232.0" cy="617.0" r="2.6"/>
<circle cx="231.2" cy="577.1" r="2.6"/>
<circle cx="239.5" cy="642.6" r="2.6"/>
<circle cx="233.3" cy="579.1" r="2.6"/>
<circle cx="232.1" cy="620.4" r="2.6"/>
<circle cx="237.3" cy="633.4" r="2.6"/>
<circle cx="237.8" cy="599.7" r="2.6"/>
<circle cx="239.6" cy="642.9" r="2.6"/>
<circle cx="235.9" cy="666.6" r="2.6"/>
<circle cx="234.0" cy="613.0" r="2.6"/>
<circle cx="234.1" cy="558.3" r="2.6"/>
<circle cx="233.0" cy="501.8" r="2.6"/>
<circle cx="237.1" cy="643.3" r="2.6"/>
<circle cx="240.1" cy="660.5" r="2.6"/>
<circle cx="231.9" cy="644.4" r="2.6"/>
<circle cx="234.8" cy="605.2" r="2.6"/>
<circle cx="234.4" cy="641.2" r="2.6"/>
<circle cx="231.8" cy="630.6" r="2.6"/>
<circle cx="236.8" cy="634.3" r="2.6"/>
<circle cx="240.5" cy="649.3" r="2.6"/>
<circle cx="233.7" cy="596.4" r="2.6"/>
<circle cx="238.0" cy="601.6" r="2.6"/>
<circle cx="239.7" cy="563.8" r="2.6"/>
<circle cx="233.6" cy="649.4" r="2.6"/>
<circle cx="239.9" cy="641.6" r="2.6"/>
<circle cx="238.2" cy="605.4" r="2.6"/>
<circle cx="237.2" cy="646.2" r="2.6"/>
<circle cx="232.9" cy="648.9" r="2.6"/>
<circle cx="233.7" cy="559.4" r="2.6"/>
<circle cx="232.0" cy="544.2" r="2.6"/>
<circle cx="239.6" cy="641.1" r="2.6"/>
<circle cx="238.8" cy="627.0" r="2.6"/>
<circle cx="231.9" cy="656.7" r="2.6"/>
<circle cx="236.1" cy="623.5" r="2.6"/>
<circle cx="233.1" cy="566.1" r="2.6"/>
<circle cx="238.4" cy="627.8" r="2.6"/>
<circle cx="236.6" cy="585.2" r="2.6"/>
<circle cx="240.1" cy="582.7" r="2.6"/>
<circle cx="238.0" cy="663.8" r="2.6"/>
<circle cx="232.0" cy="609.5" r="2.6"/>
<circle cx="234.6" cy="573.6" r="2.6"/>
<circle cx="236.6" cy="585.4" r="2.6"/>
<circle cx="239.8" cy="637.5" r="2.6"/>
<circle cx="234.6" cy="662.5" r="2.6"/>
<circle cx="232.9" cy="655.1" r="2.6"/>
<circle cx="233.8" cy="521.9" r="2.6"/>
<circle cx="233.4" cy="549.0" r="2.6"/>
<circle cx="232.5" cy="621.9" r="2.6"/>
<circle cx="234.4" cy="660.4" r="2.6"/>
<circle cx="233.4" cy="551.9" r="2.6"/>
<circle cx="236.0" cy="639.2" r="2.6"/>
<circle cx="239.6" cy="641.2" r="2.6"/>
<circle cx="240.2" cy="575.2" r="2.6"/>
<circle cx="232.6" cy="613.4" r="2.6"/>
<circle cx="236.5" cy="537.4" r="2.6"/>
<circle cx="237.5" cy="634.5" r="2.6"/>
<circle cx="232.5" cy="659.8" r="2.6"/>
<circle cx="236.2" cy="663.9" r="2.6"/>
<circle cx="233.0" cy="627.1" r="2.6"/>
<circle cx="234.5" cy="637.0" r="2.6"/>
<circle cx="234.2" cy="590.8" r="2.6"/>
<circle cx="238.9" cy="626.6" r="2.6"/>
<circle cx="233.3" cy="663.5" r="2.6"/>
<circle cx="236.2" cy="580.5" r="2.6"/>
<circle cx="236.7" cy="631.4" r="2.6"/>
<circle cx="234.2" cy="653.0" r="2.6"/>
<circle cx="240.0" cy="652.4" r="2.6"/>
<circle cx="234.2" cy="660.7" r="2.6"/>
<circle cx="234.2" cy="619.2" r="2.6"/>
<circle cx="237.7" cy="630.2" r="2.6"/>
<circle cx="235.7" cy="596.2" r="2.6"/>
<circle cx="238.0" cy="607.1" r="2.6"/>
<circle cx="232.5" cy="581.6" r="2.6"/>
<circle cx="232.5" cy="644.9" r="2.6"/>
<circle cx="238.1" cy="580.1" r="2.6"/>
<circle cx="234.8" cy="635.4" r="2.6"/>
<circle cx="239.3" cy="635.1" r="2.6"/>
<circle cx="233.3" cy="586.5" r="2.6"/>
<circle cx="233.4" cy="612.7" r="2.6"/>
<circle cx="239.3" cy="624.3" r="2.6"/>
<circle cx="234.5" cy="645.7" r="2.6"/>
<circle cx="232.1" cy="632.7" r="2.6"/>
<circle cx="233.2" cy="574.5" r="2.6"/>
<circle cx="238.4" cy="604.3" r="2.6"/>
<circle cx="233.6" cy="640.7" r="2.6"/>
<circle cx="236.4" cy="636.4" r="2.6"/>
<circle cx="239.1" cy="649.5" r="2.6"/>
<circle cx="236.9" cy="612.3" r="2.6"/>
<circle cx="238.3" cy="645.6" r="2.6"/>
<circle cx="240.4" cy="555.9" r="2.6"/>
<circle cx="233.9" cy="572.6" r="2.6"/>
<circle cx="239.5" cy="621.0" r="2.6"/>
<circle cx="236.3" cy="585.5" r="2.6"/>
<circle cx="233.0" cy="642.2" r="2.6"/>
<circle cx="232.3" cy="604.7" r="2.6"/>
<circle cx="234.2" cy="636.3" r="2.6"/>
<circle cx="232.4" cy="578.3" r="2.6"/>
<circle cx="238.5" cy="637.7" r="2.6"/>
<circle cx="236.4" cy="634.3" r="2.6"/>
<circle cx="231.5" cy="606.4" r="2.6"/>
<circle cx="239.5" cy="619.1" r="2.6"/>
<circle cx="236.8" cy="631.9" r="2.6"/>
<circle cx="235.3" cy="634.2" r="2.6"/>
<circle cx="232.4" cy="654.1" r="2.6"/>
<circle cx="235.6" cy="586.0" r="2.6"/>
<circle cx="239.9" cy="603.1" r="2.6"/>
<circle cx="236.7" cy="631.4" r="2.6"/>
<circle cx="235.5" cy="626.3" r="2.6"/>
<circle cx="236.9" cy="631.5" r="2.6"/>
<circle cx="236.3" cy="619.2" r="2.6"/>
<circle cx="237.0" cy="563.6" r="2.6"/>
<circle cx="233.0" cy="629.6" r="2.6"/>
<circle cx="232.5" cy="651.4" r="2.6"/>
<circle cx="231.2" cy="642.3" r="2.6"/>
<circle cx="239.0" cy="616.6" r="2.6"/>
<circle cx="231.1" cy="638.3" r="2.6"/>
<circle cx="233.5" cy="588.1" r="2.6"/>
<circle cx="236.7" cy="631.2" r="2.6"/>
<circle cx="235.8" cy="619.5" r="2.6"/>
<circle cx="239.7" cy="591.2" r="2.6"/>
<circle cx="233.1" cy="617.2" r="2.6"/>
<circle cx="232.1" cy="572.9" r="2.6"/>
<circle cx="232.6" cy="602.9" r="2.6"/>
<circle cx="235.8" cy="612.4" r="2.6"/>
<circle cx="233.8" cy="568.4" r="2.6"/>
<circle cx="235.4" cy="549.0" r="2.6"/>
<circle cx="237.7" cy="647.2" r="2.6"/>
<circle cx="234.1" cy="528.1" r="2.6"/>
<circle cx="237.4" cy="604.6" r="2.6"/>
<circle cx="231.2" cy="621.8" r="2.6"/>
<circle cx="236.3" cy="666.6" r="2.6"/>
<circle cx="239.8" cy="603.0" r="2.6"/>
<circle cx="240.0" cy="625.1" r="2.6"/>
<circle cx="236.5" cy="630.5" r="2.6"/>
<circle cx="240.5" cy="633.1" r="2.6"/>
<circle cx="233.3" cy="642.1" r="2.6"/>
<circle cx="233.9" cy="652.1" r="2.6"/>
<circle cx="235.4" cy="637.3" r="2.6"/>
<circle cx="235.9" cy="626.6" r="2.6"/>
<circle cx="238.9" cy="645.1" r="2.6"/>
<circle cx="235.3" cy="650.7" r="2.6"/>
<circle cx="231.5" cy="649.2" r="2.6"/>
<circle cx="237.8" cy="633.3" r="2.6"/>
<circle cx="233.2" cy="627.0" r="2.6"/>
<circle cx="239.5" cy="651.1" r="2.6"/>
<circle cx="233.1" cy="639.8" r="2.6"/>
<circle cx="233.9" cy="619.8" r="2.6"/>
<circle cx="232.4" cy="531.2" r="2.6"/>
<circle cx="234.0" cy="574.6" r="2.6"/>
<circle cx="236.8" cy="646.5" r="2.6"/>
<circle cx="233.6" cy="633.3" r="2.6"/>
<circle cx="231.5" cy="650.1" r="2.6"/>
<circle cx="236.7" cy="633.3" r="2.6"/>
<circle cx="238.1" cy="649.8" r="2.6"/>
<circle cx="232.1" cy="640.9" r="2.6"/>
<circle cx="235.1" cy="664.7" r="2.6"/>
<circle cx="231.7" cy="634.9" r="2.6"/>
<circle cx="231.2" cy="624.4" r="2.6"/>
<circle cx="234.6" cy="639.4" r="2.6"/>
<circle cx="233.8" cy="643.6" r="2.6"/>
<circle cx="239.5" cy="647.5" r="2.6"/>
<circle cx="231.2" cy="648.9" r="2.6"/>
<circle cx="237.3" cy="643.5" r="2.6"/>
<circle cx="238.1" cy="564.8" r="2.6"/>
<circle cx="235.1" cy="626.1" r="2.6"/>
<circle cx="235.9" cy="646.5" r="2.6"/>
<circle cx="233.4" cy="607.5" r="2.6"/>
<circle cx="233.5" cy="566.5" r="2.6"/>
<circle cx="231.6" cy="606.5" r="2.6"/>
<circle cx="239.7" cy="569.8" r="2.6"/>
<circle cx="231.3" cy="609.6" r="2.6"/>
<circle cx="232.4" cy="544.4" r="2.6"/>
<circle cx="238.0" cy="585.4" r="2.6"/>
<circle cx="235.4" cy="627.6" r="2.6"/>
<circle cx="236.0" cy="623.5" r="2.6"/>
<circle cx="233.9" cy="641.4" r="2.6"/>
<circle cx="232.6" cy="665.0" r="2.6"/>
<circle cx="238.7" cy="575.3" r="2.6"/>
<circle cx="232.2" cy="603.8" r="2.6"/>
<circle cx="233.9" cy="589.2" r="2.6"/>
<circle cx="238.3" cy="573.2" r="2.6"/>
<circle cx="233.9" cy="649.3" r="2.6"/>
<circle cx="240.2" cy="603.2" r="2.6"/>
<circle cx="232.7" cy="626.8" r="2.6"/>
<circle cx="236.1" cy="648.6" r="2.6"/>
<circle cx="236.2" cy="647.8" r="2.6"/>
<circle cx="235.9" cy="621.4" r="2.6"/>
<circle cx="238.5" cy="596.4" r="2.6"/>
<circle cx="231.5" cy="661.9" r="2.6"/>
<circle cx="236.3" cy="651.8" r="2.6"/>
<circle cx="238.6" cy="583.0" r="2.6"/>
<circle cx="231.5" cy="565.5" r="2.6"/>
<circle cx="236.3" cy="665.8" r="2.6"/>
<circle cx="235.3" cy="637.9" r="2.6"/>
<circle cx="234.9" cy="576.3" r="2.6"/>
</g>
<g fill="#2b9bd0" fill-opacity="0.26">
<circle cx="269.1" cy="617.5" r="2.6"/>
<circle cx="269.9" cy="569.3" r="2.6"/>
<circle cx="270.7" cy="651.7" r="2.6"/>
<circle cx="272.6" cy="650.6" r="2.6"/>
<circle cx="270.3" cy="627.5" r="2.6"/>
<circle cx="273.5" cy="579.7" r="2.6"/>
<circle cx="270.3" cy="625.3" r="2.6"/>
<circle cx="266.5" cy="544.3" r="2.6"/>
<circle cx="265.4" cy="600.4" r="2.6"/>
<circle cx="264.6" cy="556.2" r="2.6"/>
<circle cx="266.5" cy="655.1" r="2.6"/>
<circle cx="265.1" cy="635.0" r="2.6"/>
<circle cx="270.5" cy="592.9" r="2.6"/>
<circle cx="270.6" cy="641.2" r="2.6"/>
<circle cx="269.8" cy="577.1" r="2.6"/>
<circle cx="267.6" cy="539.6" r="2.6"/>
<circle cx="268.4" cy="511.1" r="2.6"/>
<circle cx="266.4" cy="563.7" r="2.6"/>
<circle cx="272.8" cy="599.9" r="2.6"/>
<circle cx="264.1" cy="540.0" r="2.6"/>
<circle cx="267.0" cy="602.1" r="2.6"/>
<circle cx="269.4" cy="606.7" r="2.6"/>
<circle cx="265.7" cy="576.8" r="2.6"/>
<circle cx="272.2" cy="558.0" r="2.6"/>
<circle cx="268.6" cy="611.2" r="2.6"/>
<circle cx="267.5" cy="636.3" r="2.6"/>
<circle cx="264.6" cy="562.3" r="2.6"/>
<circle cx="266.6" cy="655.9" r="2.6"/>
<circle cx="269.6" cy="520.9" r="2.6"/>
<circle cx="266.6" cy="655.0" r="2.6"/>
<circle cx="264.4" cy="513.4" r="2.6"/>
<circle cx="269.5" cy="544.6" r="2.6"/>
<circle cx="266.9" cy="642.8" r="2.6"/>
<circle cx="272.1" cy="593.9" r="2.6"/>
<circle cx="270.6" cy="637.7" r="2.6"/>
<circle cx="270.9" cy="637.4" r="2.6"/>
<circle cx="272.5" cy="570.1" r="2.6"/>
<circle cx="271.7" cy="613.4" r="2.6"/>
<circle cx="267.1" cy="576.2" r="2.6"/>
<circle cx="269.4" cy="654.8" r="2.6"/>
<circle cx="266.4" cy="631.2" r="2.6"/>
<circle cx="265.9" cy="615.9" r="2.6"/>
<circle cx="265.9" cy="655.0" r="2.6"/>
<circle cx="265.0" cy="578.5" r="2.6"/>
<circle cx="266.2" cy="614.1" r="2.6"/>
<circle cx="266.1" cy="623.3" r="2.6"/>
<circle cx="270.4" cy="578.7" r="2.6"/>
<circle cx="266.4" cy="645.5" r="2.6"/>
<circle cx="264.4" cy="648.0" r="2.6"/>
<circle cx="268.0" cy="575.6" r="2.6"/>
<circle cx="265.9" cy="572.1" r="2.6"/>
<circle cx="270.6" cy="538.7" r="2.6"/>
<circle cx="266.1" cy="616.6" r="2.6"/>
<circle cx="269.3" cy="602.8" r="2.6"/>
<circle cx="265.6" cy="616.7" r="2.6"/>
<circle cx="268.6" cy="616.9" r="2.6"/>
<circle cx="272.3" cy="575.5" r="2.6"/>
<circle cx="266.9" cy="537.6" r="2.6"/>
<circle cx="269.0" cy="600.2" r="2.6"/>
<circle cx="268.2" cy="597.9" r="2.6"/>
<circle cx="264.6" cy="641.3" r="2.6"/>
<circle cx="264.1" cy="596.1" r="2.6"/>
<circle cx="272.0" cy="583.9" r="2.6"/>
<circle cx="267.2" cy="629.3" r="2.6"/>
<circle cx="270.5" cy="611.8" r="2.6"/>
<circle cx="267.9" cy="642.2" r="2.6"/>
<circle cx="272.0" cy="622.0" r="2.6"/>
<circle cx="265.8" cy="636.5" r="2.6"/>
<circle cx="268.6" cy="620.2" r="2.6"/>
<circle cx="269.2" cy="528.3" r="2.6"/>
<circle cx="271.6" cy="575.0" r="2.6"/>
<circle cx="264.2" cy="636.8" r="2.6"/>
<circle cx="267.4" cy="555.4" r="2.6"/>
<circle cx="268.5" cy="564.4" r="2.6"/>
<circle cx="269.6" cy="637.9" r="2.6"/>
<circle cx="265.3" cy="613.2" r="2.6"/>
<circle cx="269.2" cy="642.5" r="2.6"/>
<circle cx="270.6" cy="656.0" r="2.6"/>
<circle cx="271.0" cy="596.0" r="2.6"/>
<circle cx="266.1" cy="523.9" r="2.6"/>
<circle cx="268.2" cy="602.6" r="2.6"/>
<circle cx="266.8" cy="634.2" r="2.6"/>
<circle cx="267.7" cy="543.4" r="2.6"/>
<circle cx="267.4" cy="654.7" r="2.6"/>
<circle cx="273.0" cy="639.3" r="2.6"/>
<circle cx="264.1" cy="641.7" r="2.6"/>
<circle cx="273.0" cy="616.5" r="2.6"/>
<circle cx="264.3" cy="585.8" r="2.6"/>
<circle cx="264.7" cy="604.3" r="2.6"/>
<circle cx="265.9" cy="571.9" r="2.6"/>
<circle cx="266.7" cy="580.5" r="2.6"/>
<circle cx="272.2" cy="599.0" r="2.6"/>
<circle cx="272.0" cy="565.6" r="2.6"/>
<circle cx="272.9" cy="557.2" r="2.6"/>
<circle cx="267.7" cy="634.7" r="2.6"/>
<circle cx="264.1" cy="655.6" r="2.6"/>
<circle cx="270.0" cy="537.8" r="2.6"/>
<circle cx="272.6" cy="637.8" r="2.6"/>
<circle cx="265.0" cy="651.2" r="2.6"/>
<circle cx="271.9" cy="626.1" r="2.6"/>
<circle cx="264.0" cy="618.2" r="2.6"/>
<circle cx="271.0" cy="630.0" r="2.6"/>
<circle cx="268.7" cy="583.3" r="2.6"/>
<circle cx="272.7" cy="549.7" r="2.6"/>
<circle cx="272.3" cy="638.3" r="2.6"/>
<circle cx="264.4" cy="588.3" r="2.6"/>
<circle cx="268.7" cy="613.7" r="2.6"/>
<circle cx="266.3" cy="639.3" r="2.6"/>
<circle cx="268.2" cy="635.4" r="2.6"/>
<circle cx="264.6" cy="563.4" r="2.6"/>
<circle cx="267.4" cy="601.9" r="2.6"/>
<circle cx="267.9" cy="641.3" r="2.6"/>
<circle cx="264.0" cy="643.9" r="2.6"/>
<circle cx="268.5" cy="651.5" r="2.6"/>
<circle cx="272.5" cy="577.9" r="2.6"/>
<circle cx="264.5" cy="610.5" r="2.6"/>
<circle cx="273.0" cy="555.0" r="2.6"/>
<circle cx="268.6" cy="568.2" r="2.6"/>
<circle cx="266.0" cy="520.5" r="2.6"/>
<circle cx="273.3" cy="633.8" r="2.6"/>
<circle cx="268.5" cy="646.0" r="2.6"/>
<circle cx="268.1" cy="582.4" r="2.6"/>
<circle cx="267.6" cy="656.6" r="2.6"/>
<circle cx="272.4" cy="639.2" r="2.6"/>
<circle cx="265.2" cy="518.3" r="2.6"/>
<circle cx="266.0" cy="645.2" r="2.6"/>
<circle cx="266.7" cy="597.1" r="2.6"/>
<circle cx="264.5" cy="606.8" r="2.6"/>
<circle cx="272.1" cy="503.3" r="2.6"/>
<circle cx="268.6" cy="654.2" r="2.6"/>
<circle cx="269.7" cy="640.8" r="2.6"/>
<circle cx="272.5" cy="642.6" r="2.6"/>
<circle cx="268.7" cy="644.3" r="2.6"/>
<circle cx="266.6" cy="635.8" r="2.6"/>
<circle cx="269.0" cy="560.9" r="2.6"/>
<circle cx="268.8" cy="644.2" r="2.6"/>
<circle cx="266.8" cy="610.8" r="2.6"/>
<circle cx="266.2" cy="601.2" r="2.6"/>
<circle cx="267.4" cy="615.1" r="2.6"/>
<circle cx="271.0" cy="591.7" r="2.6"/>
<circle cx="265.5" cy="636.5" r="2.6"/>
<circle cx="273.5" cy="642.8" r="2.6"/>
<circle cx="266.2" cy="600.2" r="2.6"/>
<circle cx="266.6" cy="600.7" r="2.6"/>
<circle cx="265.1" cy="651.2" r="2.6"/>
<circle cx="267.7" cy="639.3" r="2.6"/>
<circle cx="267.5" cy="563.3" r="2.6"/>
<circle cx="270.5" cy="620.1" r="2.6"/>
<circle cx="272.6" cy="638.2" r="2.6"/>
<circle cx="266.3" cy="589.6" r="2.6"/>
<circle cx="271.7" cy="573.8" r="2.6"/>
<circle cx="266.9" cy="564.9" r="2.6"/>
<circle cx="267.9" cy="625.1" r="2.6"/>
<circle cx="265.2" cy="635.8" r="2.6"/>
<circle cx="272.5" cy="601.5" r="2.6"/>
<circle cx="267.5" cy="619.8" r="2.6"/>
<circle cx="270.7" cy="580.2" r="2.6"/>
<circle cx="264.2" cy="616.3" r="2.6"/>
<circle cx="270.6" cy="648.3" r="2.6"/>
<circle cx="266.1" cy="651.4" r="2.6"/>
<circle cx="268.3" cy="565.6" r="2.6"/>
<circle cx="270.4" cy="534.7" r="2.6"/>
<circle cx="265.6" cy="583.2" r="2.6"/>
<circle cx="269.0" cy="552.1" r="2.6"/>
<circle cx="272.0" cy="578.4" r="2.6"/>
<circle cx="265.5" cy="519.4" r="2.6"/>
<circle cx="268.4" cy="630.9" r="2.6"/>
<circle cx="265.7" cy="643.1" r="2.6"/>
<circle cx="265.3" cy="650.5" r="2.6"/>
<circle cx="268.7" cy="634.0" r="2.6"/>
<circle cx="268.3" cy="545.1" r="2.6"/>
<circle cx="270.1" cy="561.1" r="2.6"/>
<circle cx="272.2" cy="590.3" r="2.6"/>
<circle cx="270.7" cy="558.0" r="2.6"/>
<circle cx="267.2" cy="529.4" r="2.6"/>
<circle cx="268.6" cy="611.4" r="2.6"/>
<circle cx="270.4" cy="611.2" r="2.6"/>
<circle cx="272.0" cy="628.7" r="2.6"/>
<circle cx="270.5" cy="639.6" r="2.6"/>
<circle cx="268.8" cy="577.1" r="2.6"/>
<circle cx="265.2" cy="552.3" r="2.6"/>
<circle cx="272.3" cy="589.8" r="2.6"/>
<circle cx="266.7" cy="609.3" r="2.6"/>
<circle cx="267.8" cy="632.2" r="2.6"/>
<circle cx="272.4" cy="640.0" r="2.6"/>
<circle cx="265.9" cy="633.8" r="2.6"/>
<circle cx="272.7" cy="611.5" r="2.6"/>
<circle cx="266.1" cy="599.6" r="2.6"/>
<circle cx="264.8" cy="636.8" r="2.6"/>
<circle cx="268.9" cy="537.0" r="2.6"/>
<circle cx="271.6" cy="556.1" r="2.6"/>
<circle cx="267.8" cy="558.7" r="2.6"/>
<circle cx="272.0" cy="636.2" r="2.6"/>
<circle cx="267.8" cy="580.7" r="2.6"/>
<circle cx="271.8" cy="626.5" r="2.6"/>
<circle cx="265.0" cy="547.7" r="2.6"/>
<circle cx="266.7" cy="583.9" r="2.6"/>
<circle cx="265.1" cy="580.2" r="2.6"/>
<circle cx="271.1" cy="594.3" r="2.6"/>
<circle cx="268.5" cy="628.4" r="2.6"/>
<circle cx="270.2" cy="622.3" r="2.6"/>
<circle cx="266.2" cy="636.3" r="2.6"/>
<circle cx="271.0" cy="635.9" r="2.6"/>
<circle cx="273.5" cy="633.5" r="2.6"/>
<circle cx="264.7" cy="591.6" r="2.6"/>
<circle cx="267.0" cy="609.3" r="2.6"/>
<circle cx="272.3" cy="618.5" r="2.6"/>
<circle cx="272.1" cy="601.8" r="2.6"/>
<circle cx="272.3" cy="649.3" r="2.6"/>
<circle cx="266.1" cy="635.9" r="2.6"/>
<circle cx="269.4" cy="621.7" r="2.6"/>
<circle cx="264.8" cy="607.2" r="2.6"/>
<circle cx="268.1" cy="598.0" r="2.6"/>
<circle cx="269.5" cy="652.6" r="2.6"/>
<circle cx="266.4" cy="567.0" r="2.6"/>
<circle cx="268.0" cy="552.3" r="2.6"/>
<circle cx="267.5" cy="629.6" r="2.6"/>
<circle cx="264.8" cy="641.5" r="2.6"/>
<circle cx="264.6" cy="585.9" r="2.6"/>
<circle cx="271.4" cy="598.6" r="2.6"/>
<circle cx="264.0" cy="639.2" r="2.6"/>
<circle cx="273.4" cy="618.0" r="2.6"/>
<circle cx="272.6" cy="548.5" r="2.6"/>
<circle cx="273.4" cy="549.5" r="2.6"/>
<circle cx="271.5" cy="594.4" r="2.6"/>
<circle cx="264.0" cy="628.5" r="2.6"/>
<circle cx="265.1" cy="614.2" r="2.6"/>
<circle cx="267.0" cy="577.2" r="2.6"/>
<circle cx="265.7" cy="647.5" r="2.6"/>
<circle cx="264.5" cy="639.5" r="2.6"/>
<circle cx="272.8" cy="603.4" r="2.6"/>
<circle cx="272.7" cy="604.3" r="2.6"/>
<circle cx="271.3" cy="604.2" r="2.6"/>
<circle cx="266.4" cy="595.8" r="2.6"/>
<circle cx="272.1" cy="633.8" r="2.6"/>
<circle cx="271.8" cy="597.6" r="2.6"/>
<circle cx="267.1" cy="614.1" r="2.6"/>
<circle cx="265.2" cy="635.1" r="2.6"/>
<circle cx="265.3" cy="533.7" r="2.6"/>
<circle cx="267.9" cy="593.1" r="2.6"/>
<circle cx="271.9" cy="554.2" r="2.6"/>
<circle cx="264.7" cy="622.0" r="2.6"/>
<circle cx="268.1" cy="591.0" r="2.6"/>
<circle cx="267.4" cy="619.6" r="2.6"/>
<circle cx="272.5" cy="612.8" r="2.6"/>
<circle cx="265.4" cy="519.1" r="2.6"/>
<circle cx="270.2" cy="610.0" r="2.6"/>
<circle cx="267.1" cy="548.0" r="2.6"/>
<circle cx="270.2" cy="642.1" r="2.6"/>
<circle cx="271.8" cy="642.6" r="2.6"/>
<circle cx="271.9" cy="596.4" r="2.6"/>
<circle cx="272.1" cy="647.9" r="2.6"/>
<circle cx="266.8" cy="556.9" r="2.6"/>
<circle cx="266.6" cy="578.3" r="2.6"/>
<circle cx="265.1" cy="591.3" r="2.6"/>
<circle cx="266.4" cy="623.7" r="2.6"/>
<circle cx="265.1" cy="567.1" r="2.6"/>
<circle cx="271.5" cy="551.2" r="2.6"/>
<circle cx="264.4" cy="619.7" r="2.6"/>
<circle cx="265.8" cy="637.5" r="2.6"/>
<circle cx="271.5" cy="563.7" r="2.6"/>
<circle cx="271.3" cy="528.9" r="2.6"/>
<circle cx="273.3" cy="648.2" r="2.6"/>
<circle cx="267.6" cy="641.1" r="2.6"/>
<circle cx="264.4" cy="625.8" r="2.6"/>
<circle cx="271.7" cy="652.5" r="2.6"/>
<circle cx="266.7" cy="652.9" r="2.6"/>
<circle cx="271.4" cy="627.3" r="2.6"/>
<circle cx="264.1" cy="602.4" r="2.6"/>
<circle cx="264.3" cy="535.6" r="2.6"/>
<circle cx="269.7" cy="629.8" r="2.6"/>
<circle cx="270.5" cy="653.1" r="2.6"/>
<circle cx="269.3" cy="638.8" r="2.6"/>
<circle cx="269.1" cy="634.6" r="2.6"/>
<circle cx="269.7" cy="643.8" r="2.6"/>
<circle cx="265.2" cy="654.1" r="2.6"/>
<circle cx="264.6" cy="587.2" r="2.6"/>
<circle cx="267.3" cy="633.9" r="2.6"/>
<circle cx="269.2" cy="584.9" r="2.6"/>
<circle cx="266.3" cy="603.0" r="2.6"/>
<circle cx="265.7" cy="473.8" r="2.6"/>
<circle cx="268.2" cy="639.4" r="2.6"/>
<circle cx="267.9" cy="615.7" r="2.6"/>
<circle cx="266.5" cy="655.2" r="2.6"/>
<circle cx="272.8" cy="590.5" r="2.6"/>
<circle cx="273.0" cy="602.9" r="2.6"/>
<circle cx="264.4" cy="648.6" r="2.6"/>
<circle cx="268.6" cy="633.9" r="2.6"/>
<circle cx="266.2" cy="650.1" r="2.6"/>
<circle cx="267.2" cy="640.8" r="2.6"/>
<circle cx="264.2" cy="634.5" r="2.6"/>
<circle cx="264.7" cy="649.1" r="2.6"/>
<circle cx="264.3" cy="621.5" r="2.6"/>
<circle cx="265.2" cy="596.0" r="2.6"/>
<circle cx="270.2" cy="626.1" r="2.6"/>
<circle cx="264.7" cy="624.5" r="2.6"/>
<circle cx="272.5" cy="585.8" r="2.6"/>
<circle cx="271.7" cy="636.2" r="2.6"/>
<circle cx="266.5" cy="656.1" r="2.6"/>
<circle cx="270.6" cy="544.3" r="2.6"/>
<circle cx="273.1" cy="642.3" r="2.6"/>
<circle cx="265.1" cy="589.5" r="2.6"/>
<circle cx="269.3" cy="556.2" r="2.6"/>
<circle cx="268.4" cy="648.6" r="2.6"/>
<circle cx="266.9" cy="572.5" r="2.6"/>
<circle cx="266.7" cy="572.2" r="2.6"/>
<circle cx="264.8" cy="559.5" r="2.6"/>
<circle cx="270.2" cy="562.0" r="2.6"/>
<circle cx="265.8" cy="607.5" r="2.6"/>
<circle cx="268.0" cy="626.4" r="2.6"/>
<circle cx="272.9" cy="622.5" r="2.6"/>
<circle cx="267.3" cy="649.8" r="2.6"/>
<circle cx="267.0" cy="598.8" r="2.6"/>
<circle cx="272.9" cy="651.4" r="2.6"/>
<circle cx="269.6" cy="592.0" r="2.6"/>
<circle cx="269.4" cy="615.5" r="2.6"/>
<circle cx="266.1" cy="522.4" r="2.6"/>
<circle cx="270.1" cy="566.6" r="2.6"/>
<circle cx="267.6" cy="636.3" r="2.6"/>
<circle cx="269.2" cy="633.9" r="2.6"/>
<circle cx="267.8" cy="594.9" r="2.6"/>
<circle cx="264.7" cy="643.8" r="2.6"/>
<circle cx="272.4" cy="580.9" r="2.6"/>
<circle cx="270.6" cy="620.1" r="2.6"/>
<circle cx="273.1" cy="588.6" r="2.6"/>
<circle cx="266.9" cy="623.4" r="2.6"/>
<circle cx="266.7" cy="562.4" r="2.6"/>
<circle cx="265.3" cy="531.1" r="2.6"/>
<circle cx="266.9" cy="522.4" r="2.6"/>
<circle cx="267.1" cy="608.2" r="2.6"/>
<circle cx="265.7" cy="605.2" r="2.6"/>
<circle cx="266.5" cy="540.5" r="2.6"/>
<circle cx="266.8" cy="636.0" r="2.6"/>
<circle cx="272.2" cy="523.8" r="2.6"/>
<circle cx="268.2" cy="638.2" r="2.6"/>
<circle cx="271.8" cy="592.5" r="2.6"/>
<circle cx="264.4" cy="550.7" r="2.6"/>
<circle cx="265.8" cy="571.1" r="2.6"/>
<circle cx="273.1" cy="524.3" r="2.6"/>
<circle cx="264.4" cy="544.4" r="2.6"/>
<circle cx="264.6" cy="635.3" r="2.6"/>
<circle cx="268.9" cy="550.1" r="2.6"/>
<circle cx="266.7" cy="644.5" r="2.6"/>
<circle cx="265.8" cy="655.1" r="2.6"/>
<circle cx="269.8" cy="596.5" r="2.6"/>
<circle cx="269.8" cy="592.8" r="2.6"/>
<circle cx="265.8" cy="637.1" r="2.6"/>
<circle cx="269.1" cy="600.5" r="2.6"/>
<circle cx="268.3" cy="645.6" r="2.6"/>
<circle cx="272.1" cy="630.1" r="2.6"/>
<circle cx="264.6" cy="550.0" r="2.6"/>
<circle cx="266.2" cy="650.8" r="2.6"/>
<circle cx="269.4" cy="607.8" r="2.6"/>
<circle cx="264.3" cy="624.8" r="2.6"/>
<circle cx="272.1" cy="539.3" r="2.6"/>
<circle cx="273.2" cy="630.2" r="2.6"/>
<circle cx="267.1" cy="591.5" r="2.6"/>
<circle cx="271.4" cy="593.1" r="2.6"/>
<circle cx="266.3" cy="591.1" r="2.6"/>
<circle cx="273.1" cy="619.5" r="2.6"/>
<circle cx="266.0" cy="643.1" r="2.6"/>
<circle cx="264.0" cy="571.9" r="2.6"/>
<circle cx="264.6" cy="591.8" r="2.6"/>
<circle cx="268.4" cy="602.1" r="2.6"/>
<circle cx="264.3" cy="566.9" r="2.6"/>
<circle cx="273.4" cy="533.1" r="2.6"/>
<circle cx="270.0" cy="600.4" r="2.6"/>
<circle cx="269.4" cy="539.9" r="2.6"/>
<circle cx="270.0" cy="637.7" r="2.6"/>
<circle cx="268.0" cy="622.9" r="2.6"/>
<circle cx="272.5" cy="551.9" r="2.6"/>
<circle cx="270.8" cy="647.3" r="2.6"/>
<circle cx="268.1" cy="560.8" r="2.6"/>
<circle cx="266.7" cy="637.1" r="2.6"/>
<circle cx="265.3" cy="523.1" r="2.6"/>
<circle cx="267.0" cy="561.7" r="2.6"/>
<circle cx="267.3" cy="542.2" r="2.6"/>
<circle cx="264.7" cy="639.8" r="2.6"/>
<circle cx="272.8" cy="642.9" r="2.6"/>
<circle cx="266.4" cy="546.2" r="2.6"/>
<circle cx="269.1" cy="639.0" r="2.6"/>
<circle cx="264.6" cy="625.2" r="2.6"/>
<circle cx="269.2" cy="645.6" r="2.6"/>
<circle cx="270.2" cy="626.0" r="2.6"/>
<circle cx="264.7" cy="627.7" r="2.6"/>
<circle cx="273.3" cy="570.1" r="2.6"/>
<circle cx="265.5" cy="653.7" r="2.6"/>
<circle cx="266.5" cy="581.6" r="2.6"/>
<circle cx="271.0" cy="649.6" r="2.6"/>
<circle cx="267.2" cy="538.0" r="2.6"/>
<circle cx="272.4" cy="646.7" r="2.6"/>
<circle cx="266.2" cy="560.8" r="2.6"/>
<circle cx="267.0" cy="617.6" r="2.6"/>
<circle cx="270.6" cy="596.2" r="2.6"/>
<circle cx="272.2" cy="608.2" r="2.6"/>
<circle cx="272.4" cy="580.1" r="2.6"/>
<circle cx="266.7" cy="518.4" r="2.6"/>
<circle cx="269.0" cy="636.6" r="2.6"/>
<circle cx="267.9" cy="625.0" r="2.6"/>
<circle cx="270.4" cy="500.2" r="2.6"/>
<circle cx="266.1" cy="543.7" r="2.6"/>
<circle cx="272.0" cy="542.2" r="2.6"/>
<circle cx="270.8" cy="581.1" r="2.6"/>
<circle cx="265.6" cy="604.1" r="2.6"/>
<circle cx="267.0" cy="592.9" r="2.6"/>
<circle cx="267.2" cy="531.9" r="2.6"/>
<circle cx="272.9" cy="634.4" r="2.6"/>
<circle cx="268.3" cy="648.4" r="2.6"/>
<circle cx="269.9" cy="531.6" r="2.6"/>
<circle cx="272.9" cy="594.5" r="2.6"/>
<circle cx="267.8" cy="643.1" r="2.6"/>
<circle cx="273.0" cy="623.8" r="2.6"/>
<circle cx="266.8" cy="627.3" r="2.6"/>
<circle cx="264.1" cy="559.2" r="2.6"/>
<circle cx="264.9" cy="583.2" r="2.6"/>
</g>
<rect x="125.30" y="639.00" width="32.50" height="33.20" fill="none" stroke="#000" stroke-width="1.9"/>
<line x1="141.55" y1="637.40" x2="141.55" y2="639.00" stroke="#000" stroke-width="0.9"/>
<line x1="140.45" y1="637.40" x2="142.65" y2="637.40" stroke="#000" stroke-width="0.8"/>
<rect x="157.80" y="633.20" width="33.50" height="39.00" fill="none" stroke="#000" stroke-width="1.9"/>
<line x1="174.55" y1="631.60" x2="174.55" y2="633.20" stroke="#000" stroke-width="0.9"/>
<line x1="173.45" y1="631.60" x2="175.65" y2="631.60" stroke="#000" stroke-width="0.8"/>
<rect x="219.50" y="616.60" width="32.70" height="55.60" fill="none" stroke="#000" stroke-width="1.9"/>
<line x1="235.85" y1="615.00" x2="235.85" y2="616.60" stroke="#000" stroke-width="0.9"/>
<line x1="234.75" y1="615.00" x2="236.95" y2="615.00" stroke="#000" stroke-width="0.8"/>
<rect x="252.20" y="602.70" width="33.10" height="69.50" fill="none" stroke="#000" stroke-width="1.9"/>
<line x1="268.75" y1="601.10" x2="268.75" y2="602.70" stroke="#000" stroke-width="0.9"/>
<line x1="267.65" y1="601.10" x2="269.85" y2="601.10" stroke="#000" stroke-width="0.8"/>
<line x1="101.80" y1="466.00" x2="101.80" y2="673.20" stroke="#000" stroke-width="1.5"/>
<line x1="101.00" y1="672.50" x2="308.50" y2="672.50" stroke="#000" stroke-width="1.5"/>
<line x1="97.80" y1="672.30" x2="101.80" y2="672.30" stroke="#000" stroke-width="1.2"/>
<text x="94.00" y="677.80" font-size="16" text-anchor="end">0.0</text>
<line x1="97.80" y1="633.54" x2="101.80" y2="633.54" stroke="#000" stroke-width="1.2"/>
<text x="94.00" y="639.04" font-size="16" text-anchor="end">0.5</text>
<line x1="97.80" y1="594.78" x2="101.80" y2="594.78" stroke="#000" stroke-width="1.2"/>
<text x="94.00" y="600.28" font-size="16" text-anchor="end">1.0</text>
<line x1="97.80" y1="556.02" x2="101.80" y2="556.02" stroke="#000" stroke-width="1.2"/>
<text x="94.00" y="561.52" font-size="16" text-anchor="end">1.5</text>
<line x1="97.80" y1="517.26" x2="101.80" y2="517.26" stroke="#000" stroke-width="1.2"/>
<text x="94.00" y="522.76" font-size="16" text-anchor="end">2.0</text>
<line x1="97.80" y1="478.50" x2="101.80" y2="478.50" stroke="#000" stroke-width="1.2"/>
<text x="94.00" y="484.00" font-size="16" text-anchor="end">2.5</text>
<line x1="157.70" y1="672.50" x2="157.70" y2="676.50" stroke="#000" stroke-width="1.2"/>
<text x="157.70" y="690.20" font-size="16" text-anchor="middle">Self</text>
<line x1="252.20" y1="672.50" x2="252.20" y2="676.50" stroke="#000" stroke-width="1.2"/>
<text x="252.20" y="690.20" font-size="16" text-anchor="middle">Other</text>
<line x1="141.00" y1="579.60" x2="175.00" y2="579.60" stroke="#000" stroke-width="1.5"/>
<polygon points="152.20,565.20 152.92,566.86 154.72,567.03 153.36,568.23 153.76,569.99 152.20,569.07 150.64,569.99 151.04,568.23 149.68,567.03 151.48,566.86" fill="#000"/>
<polygon points="158.20,565.20 158.92,566.86 160.72,567.03 159.36,568.23 159.76,569.99 158.20,569.07 156.64,569.99 157.04,568.23 155.68,567.03 157.48,566.86" fill="#000"/>
<polygon points="164.20,565.20 164.92,566.86 166.72,567.03 165.36,568.23 165.76,569.99 164.20,569.07 162.64,569.99 163.04,568.23 161.68,567.03 163.48,566.86" fill="#000"/>
<polyline points="158.1,552.8 158.1,546.5 252.3,546.5 252.3,552.8" fill="none" stroke="#000" stroke-width="1.5"/>
<polygon points="199.40,532.00 200.12,533.66 201.92,533.83 200.56,535.03 200.96,536.79 199.40,535.87 197.84,536.79 198.24,535.03 196.88,533.83 198.68,533.66" fill="#000"/>
<polygon points="205.40,532.00 206.12,533.66 207.92,533.83 206.56,535.03 206.96,536.79 205.40,535.87 203.84,536.79 204.24,535.03 202.88,533.83 204.68,533.66" fill="#000"/>
<polygon points="211.40,532.00 212.12,533.66 213.92,533.83 212.56,535.03 212.96,536.79 211.40,535.87 209.84,536.79 210.24,535.03 208.88,533.83 210.68,533.66" fill="#000"/>
<line x1="235.00" y1="579.10" x2="269.30" y2="579.10" stroke="#000" stroke-width="1.5"/>
<polygon points="246.40,565.40 247.12,567.06 248.92,567.23 247.56,568.43 247.96,570.19 246.40,569.27 244.84,570.19 245.24,568.43 243.88,567.23 245.68,567.06" fill="#000"/>
<polygon points="252.40,565.40 253.12,567.06 254.92,567.23 253.56,568.43 253.96,570.19 252.40,569.27 250.84,570.19 251.24,568.43 249.88,567.23 251.68,567.06" fill="#000"/>
<polygon points="258.40,565.40 259.12,567.06 260.92,567.23 259.56,568.43 259.96,570.19 258.40,569.27 256.84,570.19 257.24,568.43 255.88,567.23 257.68,567.06" fill="#000"/>
<text transform="translate(56.40,568.10) rotate(-90)" font-size="17.5" text-anchor="middle"><tspan font-style="italic">o</tspan> parameter</text>
<text transform="translate(18.80,555.80) rotate(-90)" font-size="15.0" text-anchor="start" font-style="italic">Less willing</text>
<path d="M15.10,473.70 L15.10,459.80 M12.10,463.20 L15.10,459.80 L18.10,463.20" fill="none" stroke="#000" stroke-width="0.9"/>
<text transform="translate(37.10,508.00) rotate(-90)" font-size="15.0" text-anchor="middle" font-style="italic">to act</text>
<text transform="translate(18.50,661.50) rotate(-90)" font-size="15.0" text-anchor="start" font-style="italic">More willing</text>
<path d="M14.60,666.60 L14.60,680.60 M11.60,677.20 L14.60,680.60 L17.60,677.20" fill="none" stroke="#000" stroke-width="0.9"/>
<text transform="translate(37.00,630.20) rotate(-90)" font-size="15.0" text-anchor="middle" font-style="italic">to act</text>
<text x="351.00" y="442.80" font-size="20.5" text-anchor="start" font-weight="bold">d</text>
<rect x="421.80" y="559.00" width="33.40" height="113.20" fill="#37adcb"/>
<rect x="455.20" y="578.70" width="32.80" height="93.50" fill="#0d4c9e"/>
<rect x="516.00" y="580.70" width="33.10" height="91.50" fill="#37adcb"/>
<rect x="549.10" y="596.40" width="33.10" height="75.80" fill="#0d4c9e"/>
<g fill="#93d3cf" fill-opacity="0.3">
<circle cx="434.2" cy="599.9" r="2.6"/>
<circle cx="436.9" cy="572.9" r="2.6"/>
<circle cx="438.1" cy="629.8" r="2.6"/>
<circle cx="433.8" cy="543.9" r="2.6"/>
<circle cx="436.4" cy="524.2" r="2.6"/>
<circle cx="443.1" cy="579.9" r="2.6"/>
<circle cx="441.1" cy="538.7" r="2.6"/>
<circle cx="434.3" cy="587.3" r="2.6"/>
<circle cx="442.1" cy="503.2" r="2.6"/>
<circle cx="438.2" cy="590.8" r="2.6"/>
<circle cx="443.2" cy="541.1" r="2.6"/>
<circle cx="436.8" cy="591.6" r="2.6"/>
<circle cx="436.7" cy="513.8" r="2.6"/>
<circle cx="440.2" cy="543.5" r="2.6"/>
<circle cx="438.4" cy="567.2" r="2.6"/>
<circle cx="436.4" cy="564.9" r="2.6"/>
<circle cx="438.7" cy="585.2" r="2.6"/>
<circle cx="439.8" cy="539.4" r="2.6"/>
<circle cx="436.7" cy="581.5" r="2.6"/>
<circle cx="441.6" cy="485.3" r="2.6"/>
<circle cx="440.9" cy="550.8" r="2.6"/>
<circle cx="440.9" cy="536.1" r="2.6"/>
<circle cx="440.0" cy="529.2" r="2.6"/>
<circle cx="435.9" cy="515.1" r="2.6"/>
<circle cx="440.5" cy="601.7" r="2.6"/>
<circle cx="435.4" cy="606.9" r="2.6"/>
<circle cx="435.1" cy="568.4" r="2.6"/>
<circle cx="438.5" cy="614.1" r="2.6"/>
<circle cx="435.4" cy="525.1" r="2.6"/>
<circle cx="434.9" cy="514.9" r="2.6"/>
<circle cx="439.4" cy="553.9" r="2.6"/>
<circle cx="443.1" cy="608.3" r="2.6"/>
<circle cx="434.2" cy="582.5" r="2.6"/>
<circle cx="438.0" cy="590.9" r="2.6"/>
<circle cx="434.6" cy="631.6" r="2.6"/>
<circle cx="438.9" cy="487.3" r="2.6"/>
<circle cx="439.2" cy="551.6" r="2.6"/>
<circle cx="438.4" cy="530.8" r="2.6"/>
<circle cx="434.1" cy="565.7" r="2.6"/>
<circle cx="440.4" cy="642.7" r="2.6"/>
<circle cx="438.6" cy="583.0" r="2.6"/>
<circle cx="439.2" cy="492.6" r="2.6"/>
<circle cx="440.1" cy="540.5" r="2.6"/>
<circle cx="442.4" cy="525.8" r="2.6"/>
<circle cx="437.9" cy="524.5" r="2.6"/>
<circle cx="442.5" cy="594.9" r="2.6"/>
<circle cx="435.4" cy="615.7" r="2.6"/>
<circle cx="438.1" cy="530.5" r="2.6"/>
<circle cx="435.4" cy="572.5" r="2.6"/>
<circle cx="437.3" cy="607.6" r="2.6"/>
<circle cx="442.4" cy="488.4" r="2.6"/>
<circle cx="443.1" cy="489.5" r="2.6"/>
<circle cx="438.2" cy="490.1" r="2.6"/>
<circle cx="436.4" cy="485.9" r="2.6"/>
<circle cx="436.8" cy="511.3" r="2.6"/>
<circle cx="442.4" cy="571.8" r="2.6"/>
<circle cx="437.9" cy="531.4" r="2.6"/>
<circle cx="435.6" cy="505.1" r="2.6"/>
<circle cx="441.7" cy="566.1" r="2.6"/>
<circle cx="438.6" cy="539.7" r="2.6"/>
<circle cx="437.8" cy="538.1" r="2.6"/>
<circle cx="442.4" cy="569.9" r="2.6"/>
<circle cx="440.9" cy="590.6" r="2.6"/>
<circle cx="433.8" cy="538.0" r="2.6"/>
<circle cx="443.0" cy="576.1" r="2.6"/>
<circle cx="438.1" cy="628.9" r="2.6"/>
<circle cx="435.4" cy="625.9" r="2.6"/>
<circle cx="442.4" cy="557.4" r="2.6"/>
<circle cx="437.7" cy="518.0" r="2.6"/>
<circle cx="440.3" cy="596.0" r="2.6"/>
<circle cx="440.9" cy="517.0" r="2.6"/>
<circle cx="435.6" cy="542.1" r="2.6"/>
<circle cx="443.1" cy="596.5" r="2.6"/>
<circle cx="439.1" cy="538.2" r="2.6"/>
<circle cx="434.2" cy="545.9" r="2.6"/>
<circle cx="438.9" cy="519.8" r="2.6"/>
<circle cx="433.9" cy="524.9" r="2.6"/>
<circle cx="443.1" cy="573.2" r="2.6"/>
<circle cx="440.1" cy="607.9" r="2.6"/>
<circle cx="437.3" cy="538.6" r="2.6"/>
<circle cx="441.4" cy="517.3" r="2.6"/>
<circle cx="441.3" cy="553.0" r="2.6"/>
<circle cx="440.4" cy="580.8" r="2.6"/>
<circle cx="436.0" cy="579.5" r="2.6"/>
<circle cx="434.6" cy="607.9" r="2.6"/>
<circle cx="441.9" cy="542.8" r="2.6"/>
<circle cx="442.2" cy="586.8" r="2.6"/>
<circle cx="437.0" cy="535.0" r="2.6"/>
<circle cx="437.4" cy="651.4" r="2.6"/>
<circle cx="437.6" cy="532.8" r="2.6"/>
<circle cx="436.4" cy="538.3" r="2.6"/>
<circle cx="442.7" cy="572.9" r="2.6"/>
<circle cx="438.8" cy="624.0" r="2.6"/>
<circle cx="440.5" cy="577.3" r="2.6"/>
<circle cx="439.5" cy="531.6" r="2.6"/>
<circle cx="434.6" cy="581.7" r="2.6"/>
<circle cx="434.4" cy="510.8" r="2.6"/>
<circle cx="435.1" cy="569.6" r="2.6"/>
<circle cx="438.5" cy="514.9" r="2.6"/>
<circle cx="439.7" cy="580.4" r="2.6"/>
<circle cx="443.3" cy="618.2" r="2.6"/>
<circle cx="442.3" cy="545.4" r="2.6"/>
<circle cx="440.8" cy="596.1" r="2.6"/>
<circle cx="437.4" cy="638.7" r="2.6"/>
<circle cx="437.0" cy="494.7" r="2.6"/>
<circle cx="440.4" cy="629.2" r="2.6"/>
<circle cx="437.0" cy="483.5" r="2.6"/>
<circle cx="441.0" cy="579.7" r="2.6"/>
<circle cx="440.7" cy="510.9" r="2.6"/>
<circle cx="434.9" cy="569.1" r="2.6"/>
<circle cx="441.4" cy="605.8" r="2.6"/>
<circle cx="434.6" cy="571.1" r="2.6"/>
<circle cx="436.8" cy="584.3" r="2.6"/>
<circle cx="443.1" cy="611.4" r="2.6"/>
<circle cx="440.0" cy="475.0" r="2.6"/>
<circle cx="441.9" cy="525.2" r="2.6"/>
<circle cx="442.6" cy="584.2" r="2.6"/>
<circle cx="436.2" cy="588.3" r="2.6"/>
<circle cx="441.3" cy="496.0" r="2.6"/>
<circle cx="437.3" cy="556.7" r="2.6"/>
<circle cx="434.3" cy="567.0" r="2.6"/>
<circle cx="434.7" cy="610.9" r="2.6"/>
<circle cx="434.9" cy="507.0" r="2.6"/>
<circle cx="439.8" cy="576.8" r="2.6"/>
<circle cx="439.9" cy="593.6" r="2.6"/>
<circle cx="441.8" cy="500.2" r="2.6"/>
<circle cx="436.5" cy="594.6" r="2.6"/>
<circle cx="441.0" cy="556.0" r="2.6"/>
<circle cx="436.3" cy="567.9" r="2.6"/>
<circle cx="436.7" cy="568.0" r="2.6"/>
<circle cx="440.0" cy="545.2" r="2.6"/>
<circle cx="437.5" cy="554.4" r="2.6"/>
<circle cx="443.3" cy="546.9" r="2.6"/>
<circle cx="436.7" cy="589.4" r="2.6"/>
<circle cx="436.0" cy="596.0" r="2.6"/>
<circle cx="442.1" cy="488.5" r="2.6"/>
<circle cx="442.1" cy="566.9" r="2.6"/>
<circle cx="435.3" cy="568.1" r="2.6"/>
<circle cx="436.9" cy="512.9" r="2.6"/>
<circle cx="438.6" cy="624.5" r="2.6"/>
<circle cx="434.3" cy="512.8" r="2.6"/>
<circle cx="437.3" cy="526.5" r="2.6"/>
<circle cx="441.1" cy="557.3" r="2.6"/>
<circle cx="441.1" cy="607.7" r="2.6"/>
<circle cx="435.1" cy="514.0" r="2.6"/>
<circle cx="436.6" cy="501.9" r="2.6"/>
<circle cx="436.3" cy="626.2" r="2.6"/>
<circle cx="440.3" cy="570.1" r="2.6"/>
<circle cx="435.0" cy="513.7" r="2.6"/>
<circle cx="443.2" cy="591.4" r="2.6"/>
<circle cx="434.8" cy="582.3" r="2.6"/>
<circle cx="438.8" cy="549.4" r="2.6"/>
<circle cx="440.5" cy="529.4" r="2.6"/>
<circle cx="442.8" cy="529.8" r="2.6"/>
<circle cx="439.6" cy="515.6" r="2.6"/>
<circle cx="441.9" cy="504.7" r="2.6"/>
<circle cx="438.8" cy="500.5" r="2.6"/>
<circle cx="435.8" cy="516.6" r="2.6"/>
<circle cx="437.7" cy="598.4" r="2.6"/>
<circle cx="439.5" cy="520.2" r="2.6"/>
<circle cx="438.8" cy="531.5" r="2.6"/>
<circle cx="441.2" cy="513.9" r="2.6"/>
<circle cx="438.9" cy="629.9" r="2.6"/>
<circle cx="437.4" cy="525.8" r="2.6"/>
<circle cx="438.6" cy="573.8" r="2.6"/>
<circle cx="438.7" cy="503.5" r="2.6"/>
<circle cx="433.8" cy="617.1" r="2.6"/>
<circle cx="436.9" cy="587.6" r="2.6"/>
<circle cx="439.2" cy="562.7" r="2.6"/>
<circle cx="440.5" cy="588.9" r="2.6"/>
<circle cx="437.8" cy="595.2" r="2.6"/>
<circle cx="440.9" cy="535.2" r="2.6"/>
<circle cx="438.5" cy="643.7" r="2.6"/>
<circle cx="437.2" cy="493.0" r="2.6"/>
<circle cx="436.0" cy="525.5" r="2.6"/>
<circle cx="441.4" cy="598.1" r="2.6"/>
<circle cx="442.6" cy="568.9" r="2.6"/>
<circle cx="440.7" cy="617.4" r="2.6"/>
<circle cx="435.8" cy="601.1" r="2.6"/>
<circle cx="440.5" cy="572.6" r="2.6"/>
<circle cx="438.5" cy="498.7" r="2.6"/>
<circle cx="442.6" cy="549.8" r="2.6"/>
<circle cx="433.8" cy="634.5" r="2.6"/>
<circle cx="441.1" cy="597.2" r="2.6"/>
<circle cx="438.2" cy="581.9" r="2.6"/>
<circle cx="441.9" cy="543.1" r="2.6"/>
<circle cx="439.5" cy="500.7" r="2.6"/>
<circle cx="433.8" cy="509.7" r="2.6"/>
<circle cx="440.3" cy="498.0" r="2.6"/>
<circle cx="438.8" cy="584.0" r="2.6"/>
<circle cx="436.0" cy="519.5" r="2.6"/>
<circle cx="434.9" cy="548.2" r="2.6"/>
<circle cx="437.5" cy="500.9" r="2.6"/>
<circle cx="439.1" cy="646.0" r="2.6"/>
<circle cx="438.3" cy="582.7" r="2.6"/>
<circle cx="433.9" cy="595.4" r="2.6"/>
<circle cx="435.1" cy="590.5" r="2.6"/>
<circle cx="440.2" cy="515.9" r="2.6"/>
<circle cx="438.9" cy="592.4" r="2.6"/>
<circle cx="440.8" cy="574.9" r="2.6"/>
<circle cx="437.7" cy="556.4" r="2.6"/>
<circle cx="436.2" cy="568.6" r="2.6"/>
<circle cx="441.4" cy="512.5" r="2.6"/>
<circle cx="435.8" cy="554.5" r="2.6"/>
<circle cx="434.3" cy="596.3" r="2.6"/>
<circle cx="437.2" cy="557.2" r="2.6"/>
<circle cx="438.0" cy="531.1" r="2.6"/>
<circle cx="435.7" cy="586.2" r="2.6"/>
<circle cx="442.9" cy="495.6" r="2.6"/>
<circle cx="435.9" cy="526.4" r="2.6"/>
<circle cx="434.9" cy="597.0" r="2.6"/>
<circle cx="440.1" cy="619.3" r="2.6"/>
<circle cx="435.1" cy="551.0" r="2.6"/>
<circle cx="436.4" cy="551.4" r="2.6"/>
<circle cx="437.7" cy="496.8" r="2.6"/>
<circle cx="436.3" cy="508.5" r="2.6"/>
<circle cx="440.0" cy="569.3" r="2.6"/>
<circle cx="435.0" cy="514.8" r="2.6"/>
<circle cx="439.9" cy="571.2" r="2.6"/>
<circle cx="434.8" cy="503.0" r="2.6"/>
<circle cx="439.3" cy="560.6" r="2.6"/>
<circle cx="443.1" cy="569.8" r="2.6"/>
<circle cx="441.3" cy="510.9" r="2.6"/>
<circle cx="442.8" cy="578.2" r="2.6"/>
<circle cx="438.9" cy="581.1" r="2.6"/>
<circle cx="435.2" cy="567.8" r="2.6"/>
<circle cx="437.3" cy="576.1" r="2.6"/>
<circle cx="441.2" cy="508.3" r="2.6"/>
<circle cx="435.0" cy="629.7" r="2.6"/>
<circle cx="440.1" cy="523.5" r="2.6"/>
<circle cx="436.8" cy="608.0" r="2.6"/>
<circle cx="442.5" cy="497.3" r="2.6"/>
<circle cx="437.1" cy="590.4" r="2.6"/>
<circle cx="436.8" cy="551.4" r="2.6"/>
<circle cx="436.3" cy="574.9" r="2.6"/>
<circle cx="438.9" cy="533.4" r="2.6"/>
<circle cx="442.8" cy="593.5" r="2.6"/>
<circle cx="438.9" cy="505.7" r="2.6"/>
<circle cx="440.8" cy="533.5" r="2.6"/>
<circle cx="438.7" cy="649.0" r="2.6"/>
<circle cx="434.5" cy="499.1" r="2.6"/>
<circle cx="439.3" cy="587.6" r="2.6"/>
<circle cx="439.4" cy="546.5" r="2.6"/>
<circle cx="439.4" cy="568.0" r="2.6"/>
<circle cx="436.6" cy="593.5" r="2.6"/>
<circle cx="436.3" cy="548.9" r="2.6"/>
<circle cx="436.9" cy="544.4" r="2.6"/>
<circle cx="434.0" cy="585.7" r="2.6"/>
<circle cx="435.2" cy="645.0" r="2.6"/>
<circle cx="436.5" cy="589.5" r="2.6"/>
<circle cx="438.6" cy="507.6" r="2.6"/>
<circle cx="442.5" cy="551.9" r="2.6"/>
<circle cx="440.4" cy="562.2" r="2.6"/>
<circle cx="438.7" cy="540.9" r="2.6"/>
<circle cx="440.6" cy="482.5" r="2.6"/>
<circle cx="438.0" cy="625.0" r="2.6"/>
<circle cx="434.2" cy="594.3" r="2.6"/>
<circle cx="440.3" cy="580.5" r="2.6"/>
<circle cx="440.5" cy="633.7" r="2.6"/>
<circle cx="440.0" cy="534.0" r="2.6"/>
<circle cx="441.9" cy="525.6" r="2.6"/>
<circle cx="441.2" cy="576.7" r="2.6"/>
<circle cx="441.7" cy="562.4" r="2.6"/>
<circle cx="434.1" cy="609.8" r="2.6"/>
<circle cx="443.3" cy="604.2" r="2.6"/>
<circle cx="439.3" cy="547.2" r="2.6"/>
<circle cx="439.4" cy="577.6" r="2.6"/>
<circle cx="439.6" cy="585.4" r="2.6"/>
<circle cx="436.3" cy="542.5" r="2.6"/>
<circle cx="436.6" cy="518.6" r="2.6"/>
<circle cx="442.1" cy="537.7" r="2.6"/>
<circle cx="439.5" cy="609.8" r="2.6"/>
<circle cx="442.9" cy="628.2" r="2.6"/>
<circle cx="435.7" cy="507.3" r="2.6"/>
<circle cx="439.3" cy="555.8" r="2.6"/>
<circle cx="439.5" cy="591.6" r="2.6"/>
<circle cx="434.1" cy="495.0" r="2.6"/>
<circle cx="439.7" cy="570.9" r="2.6"/>
<circle cx="437.4" cy="512.7" r="2.6"/>
<circle cx="437.8" cy="629.1" r="2.6"/>
<circle cx="435.5" cy="597.9" r="2.6"/>
<circle cx="439.4" cy="591.6" r="2.6"/>
<circle cx="440.2" cy="522.1" r="2.6"/>
<circle cx="442.3" cy="518.6" r="2.6"/>
<circle cx="441.8" cy="543.0" r="2.6"/>
<circle cx="443.1" cy="550.3" r="2.6"/>
<circle cx="443.1" cy="561.2" r="2.6"/>
<circle cx="440.4" cy="483.5" r="2.6"/>
<circle cx="436.4" cy="580.0" r="2.6"/>
<circle cx="438.9" cy="535.2" r="2.6"/>
<circle cx="434.5" cy="632.6" r="2.6"/>
<circle cx="439.1" cy="574.3" r="2.6"/>
<circle cx="436.6" cy="510.3" r="2.6"/>
<circle cx="438.9" cy="486.6" r="2.6"/>
<circle cx="440.9" cy="500.6" r="2.6"/>
<circle cx="434.3" cy="525.0" r="2.6"/>
<circle cx="442.1" cy="524.2" r="2.6"/>
<circle cx="434.1" cy="497.2" r="2.6"/>
<circle cx="438.4" cy="501.1" r="2.6"/>
<circle cx="435.8" cy="586.3" r="2.6"/>
<circle cx="434.1" cy="490.6" r="2.6"/>
<circle cx="438.3" cy="498.1" r="2.6"/>
<circle cx="436.2" cy="577.9" r="2.6"/>
<circle cx="434.5" cy="598.3" r="2.6"/>
<circle cx="441.6" cy="602.0" r="2.6"/>
<circle cx="436.1" cy="497.9" r="2.6"/>
<circle cx="442.7" cy="650.6" r="2.6"/>
<circle cx="439.5" cy="524.6" r="2.6"/>
<circle cx="437.1" cy="535.5" r="2.6"/>
<circle cx="434.3" cy="644.3" r="2.6"/>
<circle cx="441.9" cy="528.3" r="2.6"/>
<circle cx="434.7" cy="607.3" r="2.6"/>
<circle cx="441.2" cy="616.8" r="2.6"/>
<circle cx="438.8" cy="495.8" r="2.6"/>
<circle cx="438.1" cy="520.9" r="2.6"/>
<circle cx="434.5" cy="615.1" r="2.6"/>
<circle cx="437.7" cy="583.3" r="2.6"/>
<circle cx="433.9" cy="553.7" r="2.6"/>
<circle cx="441.0" cy="590.5" r="2.6"/>
<circle cx="440.5" cy="576.5" r="2.6"/>
<circle cx="435.0" cy="510.9" r="2.6"/>
<circle cx="438.6" cy="574.7" r="2.6"/>
<circle cx="435.4" cy="488.2" r="2.6"/>
<circle cx="440.5" cy="630.0" r="2.6"/>
<circle cx="435.5" cy="625.0" r="2.6"/>
<circle cx="435.4" cy="582.3" r="2.6"/>
<circle cx="436.4" cy="608.7" r="2.6"/>
<circle cx="443.0" cy="646.5" r="2.6"/>
<circle cx="441.6" cy="528.7" r="2.6"/>
<circle cx="437.6" cy="646.2" r="2.6"/>
<circle cx="441.3" cy="525.9" r="2.6"/>
<circle cx="437.2" cy="484.2" r="2.6"/>
<circle cx="435.5" cy="602.1" r="2.6"/>
<circle cx="442.3" cy="489.9" r="2.6"/>
<circle cx="434.1" cy="577.7" r="2.6"/>
<circle cx="441.3" cy="587.7" r="2.6"/>
<circle cx="442.9" cy="592.1" r="2.6"/>
<circle cx="434.5" cy="541.1" r="2.6"/>
<circle cx="441.9" cy="589.2" r="2.6"/>
<circle cx="441.2" cy="533.7" r="2.6"/>
<circle cx="434.1" cy="601.8" r="2.6"/>
<circle cx="438.0" cy="614.0" r="2.6"/>
<circle cx="436.2" cy="506.1" r="2.6"/>
<circle cx="437.4" cy="501.8" r="2.6"/>
<circle cx="437.4" cy="572.9" r="2.6"/>
<circle cx="437.5" cy="534.6" r="2.6"/>
<circle cx="433.8" cy="494.0" r="2.6"/>
<circle cx="436.3" cy="527.7" r="2.6"/>
<circle cx="436.5" cy="606.4" r="2.6"/>
<circle cx="439.9" cy="624.5" r="2.6"/>
<circle cx="440.4" cy="627.4" r="2.6"/>
<circle cx="440.9" cy="586.5" r="2.6"/>
<circle cx="439.8" cy="578.7" r="2.6"/>
<circle cx="442.3" cy="529.1" r="2.6"/>
<circle cx="439.0" cy="536.5" r="2.6"/>
<circle cx="436.7" cy="494.6" r="2.6"/>
<circle cx="434.1" cy="541.4" r="2.6"/>
<circle cx="440.7" cy="579.0" r="2.6"/>
<circle cx="439.1" cy="534.7" r="2.6"/>
<circle cx="435.3" cy="546.8" r="2.6"/>
<circle cx="438.6" cy="522.9" r="2.6"/>
<circle cx="442.8" cy="528.6" r="2.6"/>
<circle cx="439.5" cy="533.3" r="2.6"/>
<circle cx="436.7" cy="579.7" r="2.6"/>
<circle cx="441.4" cy="595.2" r="2.6"/>
<circle cx="437.5" cy="595.8" r="2.6"/>
<circle cx="433.8" cy="621.2" r="2.6"/>
<circle cx="434.5" cy="599.9" r="2.6"/>
<circle cx="442.9" cy="599.5" r="2.6"/>
<circle cx="434.6" cy="533.8" r="2.6"/>
<circle cx="441.2" cy="511.2" r="2.6"/>
<circle cx="434.0" cy="587.3" r="2.6"/>
<circle cx="437.8" cy="595.0" r="2.6"/>
<circle cx="436.4" cy="501.8" r="2.6"/>
<circle cx="437.0" cy="530.0" r="2.6"/>
<circle cx="434.6" cy="495.3" r="2.6"/>
<circle cx="437.6" cy="504.3" r="2.6"/>
<circle cx="441.0" cy="486.0" r="2.6"/>
<circle cx="438.7" cy="486.7" r="2.6"/>
<circle cx="435.0" cy="510.2" r="2.6"/>
<circle cx="441.4" cy="632.3" r="2.6"/>
<circle cx="442.1" cy="613.7" r="2.6"/>
<circle cx="438.1" cy="582.9" r="2.6"/>
<circle cx="437.1" cy="555.5" r="2.6"/>
<circle cx="433.9" cy="577.3" r="2.6"/>
<circle cx="434.4" cy="639.6" r="2.6"/>
<circle cx="437.3" cy="527.2" r="2.6"/>
<circle cx="434.8" cy="581.7" r="2.6"/>
<circle cx="443.0" cy="500.0" r="2.6"/>
<circle cx="439.9" cy="599.8" r="2.6"/>
<circle cx="436.7" cy="619.6" r="2.6"/>
<circle cx="439.3" cy="525.0" r="2.6"/>
<circle cx="435.3" cy="631.7" r="2.6"/>
<circle cx="442.5" cy="504.0" r="2.6"/>
<circle cx="438.5" cy="642.2" r="2.6"/>
<circle cx="440.4" cy="543.6" r="2.6"/>
<circle cx="435.4" cy="539.0" r="2.6"/>
<circle cx="438.2" cy="537.0" r="2.6"/>
<circle cx="440.6" cy="494.4" r="2.6"/>
<circle cx="437.4" cy="566.4" r="2.6"/>
<circle cx="434.3" cy="528.9" r="2.6"/>
<circle cx="438.2" cy="507.0" r="2.6"/>
<circle cx="441.6" cy="542.1" r="2.6"/>
<circle cx="438.1" cy="489.1" r="2.6"/>
<circle cx="443.1" cy="541.6" r="2.6"/>
<circle cx="439.1" cy="581.1" r="2.6"/>
<circle cx="442.2" cy="631.8" r="2.6"/>
<circle cx="434.0" cy="609.7" r="2.6"/>
<circle cx="439.8" cy="580.4" r="2.6"/>
<circle cx="438.6" cy="588.1" r="2.6"/>
<circle cx="437.1" cy="536.3" r="2.6"/>
<circle cx="442.4" cy="549.3" r="2.6"/>
<circle cx="434.6" cy="597.6" r="2.6"/>
</g>
<g fill="#2b9bd0" fill-opacity="0.26">
<circle cx="471.5" cy="570.5" r="2.6"/>
<circle cx="469.7" cy="551.4" r="2.6"/>
<circle cx="476.0" cy="564.9" r="2.6"/>
<circle cx="474.3" cy="534.9" r="2.6"/>
<circle cx="468.7" cy="543.3" r="2.6"/>
<circle cx="468.0" cy="580.6" r="2.6"/>
<circle cx="467.0" cy="521.4" r="2.6"/>
<circle cx="468.5" cy="585.6" r="2.6"/>
<circle cx="475.7" cy="513.7" r="2.6"/>
<circle cx="475.2" cy="636.8" r="2.6"/>
<circle cx="474.5" cy="592.7" r="2.6"/>
<circle cx="470.6" cy="596.8" r="2.6"/>
<circle cx="471.4" cy="578.9" r="2.6"/>
<circle cx="472.3" cy="549.8" r="2.6"/>
<circle cx="474.6" cy="644.2" r="2.6"/>
<circle cx="466.8" cy="593.8" r="2.6"/>
<circle cx="468.5" cy="534.7" r="2.6"/>
<circle cx="472.4" cy="572.1" r="2.6"/>
<circle cx="468.2" cy="537.8" r="2.6"/>
<circle cx="475.8" cy="610.6" r="2.6"/>
<circle cx="467.2" cy="579.9" r="2.6"/>
<circle cx="476.1" cy="586.5" r="2.6"/>
<circle cx="468.9" cy="549.2" r="2.6"/>
<circle cx="468.7" cy="513.5" r="2.6"/>
<circle cx="470.9" cy="595.0" r="2.6"/>
<circle cx="472.9" cy="555.0" r="2.6"/>
<circle cx="476.2" cy="577.7" r="2.6"/>
<circle cx="471.4" cy="610.9" r="2.6"/>
<circle cx="475.4" cy="565.3" r="2.6"/>
<circle cx="475.3" cy="594.5" r="2.6"/>
<circle cx="476.3" cy="564.7" r="2.6"/>
<circle cx="470.3" cy="541.6" r="2.6"/>
<circle cx="471.4" cy="631.1" r="2.6"/>
<circle cx="467.0" cy="599.7" r="2.6"/>
<circle cx="470.5" cy="551.0" r="2.6"/>
<circle cx="470.2" cy="615.8" r="2.6"/>
<circle cx="468.0" cy="511.9" r="2.6"/>
<circle cx="474.8" cy="651.3" r="2.6"/>
<circle cx="469.5" cy="604.2" r="2.6"/>
<circle cx="468.1" cy="625.2" r="2.6"/>
<circle cx="467.9" cy="564.3" r="2.6"/>
<circle cx="467.0" cy="565.6" r="2.6"/>
<circle cx="474.1" cy="589.3" r="2.6"/>
<circle cx="471.9" cy="559.5" r="2.6"/>
<circle cx="471.8" cy="656.7" r="2.6"/>
<circle cx="470.8" cy="592.8" r="2.6"/>
<circle cx="476.1" cy="538.4" r="2.6"/>
<circle cx="470.4" cy="655.9" r="2.6"/>
<circle cx="471.4" cy="598.7" r="2.6"/>
<circle cx="473.4" cy="573.2" r="2.6"/>
<circle cx="475.7" cy="584.5" r="2.6"/>
<circle cx="475.0" cy="554.4" r="2.6"/>
<circle cx="475.3" cy="592.8" r="2.6"/>
<circle cx="468.6" cy="524.1" r="2.6"/>
<circle cx="475.9" cy="551.0" r="2.6"/>
<circle cx="474.7" cy="588.1" r="2.6"/>
<circle cx="470.0" cy="626.9" r="2.6"/>
<circle cx="474.5" cy="588.9" r="2.6"/>
<circle cx="475.9" cy="606.8" r="2.6"/>
<circle cx="473.9" cy="533.4" r="2.6"/>
<circle cx="473.9" cy="544.8" r="2.6"/>
<circle cx="474.8" cy="551.1" r="2.6"/>
<circle cx="475.2" cy="588.6" r="2.6"/>
<circle cx="474.3" cy="562.2" r="2.6"/>
<circle cx="467.5" cy="562.4" r="2.6"/>
<circle cx="468.8" cy="591.3" r="2.6"/>
<circle cx="468.0" cy="605.3" r="2.6"/>
<circle cx="471.3" cy="519.6" r="2.6"/>
<circle cx="467.4" cy="594.6" r="2.6"/>
<circle cx="472.1" cy="542.0" r="2.6"/>
<circle cx="475.7" cy="637.5" r="2.6"/>
<circle cx="476.2" cy="602.0" r="2.6"/>
<circle cx="467.2" cy="591.9" r="2.6"/>
<circle cx="473.4" cy="575.7" r="2.6"/>
<circle cx="468.2" cy="602.3" r="2.6"/>
<circle cx="475.1" cy="594.1" r="2.6"/>
<circle cx="467.1" cy="577.4" r="2.6"/>
<circle cx="467.8" cy="541.2" r="2.6"/>
<circle cx="469.9" cy="640.7" r="2.6"/>
<circle cx="466.9" cy="574.6" r="2.6"/>
<circle cx="473.2" cy="606.2" r="2.6"/>
<circle cx="468.8" cy="572.2" r="2.6"/>
<circle cx="473.7" cy="548.0" r="2.6"/>
<circle cx="475.9" cy="533.8" r="2.6"/>
<circle cx="471.3" cy="603.0" r="2.6"/>
<circle cx="471.3" cy="657.1" r="2.6"/>
<circle cx="476.4" cy="555.3" r="2.6"/>
<circle cx="469.8" cy="552.9" r="2.6"/>
<circle cx="475.3" cy="515.2" r="2.6"/>
<circle cx="473.6" cy="582.0" r="2.6"/>
<circle cx="466.9" cy="652.7" r="2.6"/>
<circle cx="469.7" cy="529.1" r="2.6"/>
<circle cx="473.7" cy="569.6" r="2.6"/>
<circle cx="467.2" cy="560.0" r="2.6"/>
<circle cx="475.0" cy="607.4" r="2.6"/>
<circle cx="475.6" cy="523.2" r="2.6"/>
<circle cx="474.1" cy="525.2" r="2.6"/>
<circle cx="474.6" cy="587.5" r="2.6"/>
<circle cx="472.5" cy="569.7" r="2.6"/>
<circle cx="474.6" cy="582.0" r="2.6"/>
<circle cx="471.3" cy="613.3" r="2.6"/>
<circle cx="470.7" cy="601.8" r="2.6"/>
<circle cx="473.5" cy="560.0" r="2.6"/>
<circle cx="471.3" cy="581.6" r="2.6"/>
<circle cx="469.8" cy="537.5" r="2.6"/>
<circle cx="469.3" cy="556.0" r="2.6"/>
<circle cx="471.0" cy="535.3" r="2.6"/>
<circle cx="470.5" cy="562.0" r="2.6"/>
<circle cx="474.0" cy="596.8" r="2.6"/>
<circle cx="474.3" cy="523.9" r="2.6"/>
<circle cx="474.5" cy="564.1" r="2.6"/>
<circle cx="474.9" cy="548.0" r="2.6"/>
<circle cx="470.3" cy="601.5" r="2.6"/>
<circle cx="470.3" cy="622.9" r="2.6"/>
<circle cx="474.8" cy="627.9" r="2.6"/>
<circle cx="468.5" cy="523.4" r="2.6"/>
<circle cx="473.5" cy="543.8" r="2.6"/>
<circle cx="471.8" cy="588.0" r="2.6"/>
<circle cx="473.2" cy="642.1" r="2.6"/>
<circle cx="473.5" cy="607.8" r="2.6"/>
<circle cx="473.2" cy="638.1" r="2.6"/>
<circle cx="469.1" cy="558.8" r="2.6"/>
<circle cx="467.0" cy="569.2" r="2.6"/>
<circle cx="475.9" cy="613.2" r="2.6"/>
<circle cx="475.4" cy="587.8" r="2.6"/>
<circle cx="471.6" cy="654.5" r="2.6"/>
<circle cx="473.1" cy="551.1" r="2.6"/>
<circle cx="467.7" cy="557.1" r="2.6"/>
<circle cx="471.2" cy="587.3" r="2.6"/>
<circle cx="472.4" cy="574.5" r="2.6"/>
<circle cx="473.5" cy="540.3" r="2.6"/>
<circle cx="468.9" cy="607.5" r="2.6"/>
<circle cx="467.7" cy="560.9" r="2.6"/>
<circle cx="476.0" cy="613.8" r="2.6"/>
<circle cx="474.9" cy="641.0" r="2.6"/>
<circle cx="468.5" cy="598.1" r="2.6"/>
<circle cx="474.7" cy="510.3" r="2.6"/>
<circle cx="474.6" cy="531.7" r="2.6"/>
<circle cx="468.5" cy="560.7" r="2.6"/>
<circle cx="474.5" cy="510.6" r="2.6"/>
<circle cx="470.5" cy="576.9" r="2.6"/>
<circle cx="470.0" cy="582.0" r="2.6"/>
<circle cx="468.3" cy="603.8" r="2.6"/>
<circle cx="472.5" cy="638.7" r="2.6"/>
<circle cx="472.7" cy="559.8" r="2.6"/>
<circle cx="471.7" cy="516.8" r="2.6"/>
<circle cx="467.8" cy="609.8" r="2.6"/>
<circle cx="474.4" cy="576.8" r="2.6"/>
<circle cx="469.8" cy="517.3" r="2.6"/>
<circle cx="469.3" cy="566.0" r="2.6"/>
<circle cx="473.0" cy="528.6" r="2.6"/>
<circle cx="468.6" cy="553.1" r="2.6"/>
<circle cx="475.5" cy="648.3" r="2.6"/>
<circle cx="473.0" cy="573.7" r="2.6"/>
<circle cx="474.4" cy="532.7" r="2.6"/>
<circle cx="470.1" cy="599.5" r="2.6"/>
<circle cx="470.9" cy="519.9" r="2.6"/>
<circle cx="469.2" cy="608.2" r="2.6"/>
<circle cx="469.2" cy="635.8" r="2.6"/>
<circle cx="470.8" cy="540.0" r="2.6"/>
<circle cx="474.4" cy="624.4" r="2.6"/>
<circle cx="471.6" cy="593.0" r="2.6"/>
<circle cx="474.8" cy="619.6" r="2.6"/>
<circle cx="467.9" cy="573.7" r="2.6"/>
<circle cx="469.6" cy="605.1" r="2.6"/>
<circle cx="467.2" cy="526.2" r="2.6"/>
<circle cx="475.6" cy="529.2" r="2.6"/>
<circle cx="467.4" cy="561.9" r="2.6"/>
<circle cx="472.0" cy="537.8" r="2.6"/>
<circle cx="473.3" cy="642.3" r="2.6"/>
<circle cx="468.8" cy="618.3" r="2.6"/>
<circle cx="476.2" cy="523.1" r="2.6"/>
<circle cx="476.2" cy="583.2" r="2.6"/>
<circle cx="469.1" cy="622.1" r="2.6"/>
<circle cx="468.1" cy="584.0" r="2.6"/>
<circle cx="473.0" cy="575.5" r="2.6"/>
<circle cx="471.7" cy="597.7" r="2.6"/>
<circle cx="472.6" cy="556.6" r="2.6"/>
<circle cx="472.7" cy="620.7" r="2.6"/>
<circle cx="476.0" cy="578.4" r="2.6"/>
<circle cx="474.2" cy="633.1" r="2.6"/>
<circle cx="469.8" cy="621.7" r="2.6"/>
<circle cx="474.0" cy="522.9" r="2.6"/>
<circle cx="471.1" cy="631.2" r="2.6"/>
<circle cx="476.2" cy="624.0" r="2.6"/>
<circle cx="471.4" cy="571.4" r="2.6"/>
<circle cx="466.9" cy="601.7" r="2.6"/>
<circle cx="475.6" cy="593.0" r="2.6"/>
<circle cx="469.5" cy="589.1" r="2.6"/>
<circle cx="474.7" cy="608.2" r="2.6"/>
<circle cx="472.7" cy="522.2" r="2.6"/>
<circle cx="473.9" cy="556.6" r="2.6"/>
<circle cx="473.9" cy="596.5" r="2.6"/>
<circle cx="475.5" cy="549.2" r="2.6"/>
<circle cx="474.8" cy="620.4" r="2.6"/>
<circle cx="473.0" cy="576.1" r="2.6"/>
<circle cx="469.9" cy="563.9" r="2.6"/>
<circle cx="471.5" cy="620.1" r="2.6"/>
<circle cx="469.5" cy="606.2" r="2.6"/>
<circle cx="470.0" cy="546.6" r="2.6"/>
<circle cx="471.2" cy="584.8" r="2.6"/>
<circle cx="470.9" cy="614.9" r="2.6"/>
<circle cx="469.6" cy="628.4" r="2.6"/>
<circle cx="469.7" cy="640.0" r="2.6"/>
<circle cx="469.8" cy="575.8" r="2.6"/>
<circle cx="468.6" cy="519.0" r="2.6"/>
<circle cx="472.4" cy="574.2" r="2.6"/>
<circle cx="467.7" cy="603.5" r="2.6"/>
<circle cx="469.2" cy="529.9" r="2.6"/>
<circle cx="468.4" cy="628.7" r="2.6"/>
<circle cx="473.6" cy="575.7" r="2.6"/>
<circle cx="469.5" cy="577.8" r="2.6"/>
<circle cx="467.8" cy="606.1" r="2.6"/>
<circle cx="474.7" cy="529.2" r="2.6"/>
<circle cx="471.0" cy="522.6" r="2.6"/>
<circle cx="474.5" cy="637.2" r="2.6"/>
<circle cx="469.9" cy="602.4" r="2.6"/>
<circle cx="470.1" cy="547.0" r="2.6"/>
<circle cx="472.2" cy="631.7" r="2.6"/>
<circle cx="467.5" cy="559.7" r="2.6"/>
<circle cx="476.2" cy="585.5" r="2.6"/>
<circle cx="468.1" cy="578.1" r="2.6"/>
<circle cx="475.6" cy="597.6" r="2.6"/>
<circle cx="473.1" cy="550.9" r="2.6"/>
<circle cx="474.1" cy="579.2" r="2.6"/>
<circle cx="468.8" cy="545.1" r="2.6"/>
<circle cx="475.4" cy="636.6" r="2.6"/>
<circle cx="471.9" cy="635.9" r="2.6"/>
<circle cx="470.8" cy="542.4" r="2.6"/>
<circle cx="468.7" cy="601.3" r="2.6"/>
<circle cx="468.4" cy="568.7" r="2.6"/>
<circle cx="475.1" cy="623.1" r="2.6"/>
<circle cx="476.1" cy="518.5" r="2.6"/>
<circle cx="470.8" cy="610.0" r="2.6"/>
<circle cx="473.7" cy="620.0" r="2.6"/>
<circle cx="473.5" cy="538.9" r="2.6"/>
<circle cx="471.5" cy="563.7" r="2.6"/>
<circle cx="471.4" cy="609.9" r="2.6"/>
<circle cx="472.1" cy="633.0" r="2.6"/>
<circle cx="470.1" cy="559.3" r="2.6"/>
<circle cx="474.0" cy="622.0" r="2.6"/>
<circle cx="470.8" cy="515.8" r="2.6"/>
<circle cx="471.6" cy="585.9" r="2.6"/>
<circle cx="468.5" cy="598.8" r="2.6"/>
<circle cx="476.2" cy="583.4" r="2.6"/>
<circle cx="467.5" cy="522.7" r="2.6"/>
<circle cx="473.7" cy="627.8" r="2.6"/>
<circle cx="473.1" cy="546.2" r="2.6"/>
<circle cx="470.1" cy="553.0" r="2.6"/>
<circle cx="476.2" cy="609.5" r="2.6"/>
<circle cx="467.2" cy="573.9" r="2.6"/>
<circle cx="469.4" cy="589.0" r="2.6"/>
<circle cx="470.0" cy="552.6" r="2.6"/>
<circle cx="473.0" cy="606.6" r="2.6"/>
<circle cx="472.5" cy="567.5" r="2.6"/>
<circle cx="473.6" cy="526.7" r="2.6"/>
<circle cx="475.1" cy="572.3" r="2.6"/>
<circle cx="467.0" cy="589.1" r="2.6"/>
<circle cx="472.2" cy="577.7" r="2.6"/>
<circle cx="470.7" cy="548.2" r="2.6"/>
<circle cx="473.4" cy="536.8" r="2.6"/>
<circle cx="471.9" cy="552.7" r="2.6"/>
<circle cx="470.1" cy="527.0" r="2.6"/>
<circle cx="466.9" cy="631.0" r="2.6"/>
<circle cx="469.8" cy="569.1" r="2.6"/>
<circle cx="471.1" cy="627.2" r="2.6"/>
<circle cx="470.0" cy="562.3" r="2.6"/>
<circle cx="470.4" cy="614.2" r="2.6"/>
<circle cx="473.1" cy="656.0" r="2.6"/>
<circle cx="470.0" cy="623.0" r="2.6"/>
<circle cx="475.0" cy="517.2" r="2.6"/>
<circle cx="470.3" cy="570.9" r="2.6"/>
<circle cx="471.0" cy="541.9" r="2.6"/>
<circle cx="471.0" cy="583.6" r="2.6"/>
<circle cx="475.5" cy="555.7" r="2.6"/>
<circle cx="472.6" cy="634.8" r="2.6"/>
<circle cx="476.1" cy="543.7" r="2.6"/>
<circle cx="466.8" cy="612.3" r="2.6"/>
<circle cx="476.0" cy="521.3" r="2.6"/>
<circle cx="468.7" cy="556.2" r="2.6"/>
<circle cx="475.4" cy="551.5" r="2.6"/>
<circle cx="467.2" cy="568.8" r="2.6"/>
<circle cx="475.0" cy="616.9" r="2.6"/>
<circle cx="472.9" cy="559.0" r="2.6"/>
<circle cx="473.4" cy="517.6" r="2.6"/>
<circle cx="470.6" cy="619.9" r="2.6"/>
<circle cx="470.5" cy="580.7" r="2.6"/>
<circle cx="468.3" cy="565.9" r="2.6"/>
<circle cx="468.1" cy="558.3" r="2.6"/>
<circle cx="472.8" cy="585.2" r="2.6"/>
<circle cx="470.1" cy="568.1" r="2.6"/>
<circle cx="467.1" cy="550.2" r="2.6"/>
<circle cx="468.4" cy="618.3" r="2.6"/>
<circle cx="468.4" cy="588.3" r="2.6"/>
<circle cx="468.7" cy="528.6" r="2.6"/>
<circle cx="471.2" cy="511.3" r="2.6"/>
<circle cx="475.5" cy="553.3" r="2.6"/>
<circle cx="472.4" cy="579.6" r="2.6"/>
<circle cx="473.9" cy="596.7" r="2.6"/>
<circle cx="467.8" cy="622.5" r="2.6"/>
<circle cx="473.4" cy="518.7" r="2.6"/>
<circle cx="475.1" cy="569.8" r="2.6"/>
<circle cx="476.3" cy="529.8" r="2.6"/>
<circle cx="473.6" cy="568.3" r="2.6"/>
<circle cx="472.6" cy="595.0" r="2.6"/>
<circle cx="476.0" cy="655.3" r="2.6"/>
<circle cx="468.0" cy="648.7" r="2.6"/>
<circle cx="474.4" cy="610.0" r="2.6"/>
<circle cx="473.7" cy="629.6" r="2.6"/>
<circle cx="473.8" cy="595.3" r="2.6"/>
<circle cx="470.2" cy="637.3" r="2.6"/>
<circle cx="467.6" cy="647.0" r="2.6"/>
<circle cx="468.2" cy="653.1" r="2.6"/>
<circle cx="473.3" cy="526.5" r="2.6"/>
<circle cx="469.8" cy="553.7" r="2.6"/>
<circle cx="475.9" cy="534.0" r="2.6"/>
<circle cx="468.0" cy="608.0" r="2.6"/>
<circle cx="474.6" cy="551.3" r="2.6"/>
<circle cx="471.4" cy="598.5" r="2.6"/>
<circle cx="469.6" cy="624.0" r="2.6"/>
<circle cx="469.2" cy="562.4" r="2.6"/>
<circle cx="470.2" cy="635.7" r="2.6"/>
<circle cx="470.3" cy="617.9" r="2.6"/>
<circle cx="469.0" cy="546.4" r="2.6"/>
<circle cx="468.9" cy="611.2" r="2.6"/>
<circle cx="476.1" cy="610.7" r="2.6"/>
<circle cx="470.8" cy="574.4" r="2.6"/>
<circle cx="472.8" cy="599.6" r="2.6"/>
<circle cx="473.5" cy="607.0" r="2.6"/>
<circle cx="470.0" cy="607.0" r="2.6"/>
<circle cx="475.8" cy="648.7" r="2.6"/>
<circle cx="469.6" cy="625.2" r="2.6"/>
<circle cx="468.6" cy="569.9" r="2.6"/>
<circle cx="467.2" cy="572.6" r="2.6"/>
<circle cx="469.3" cy="630.3" r="2.6"/>
<circle cx="467.4" cy="637.9" r="2.6"/>
<circle cx="472.8" cy="523.2" r="2.6"/>
<circle cx="472.3" cy="538.4" r="2.6"/>
<circle cx="467.0" cy="590.5" r="2.6"/>
<circle cx="475.9" cy="633.8" r="2.6"/>
<circle cx="473.8" cy="652.1" r="2.6"/>
<circle cx="472.1" cy="561.0" r="2.6"/>
<circle cx="475.9" cy="623.1" r="2.6"/>
<circle cx="471.9" cy="592.3" r="2.6"/>
<circle cx="468.5" cy="519.4" r="2.6"/>
<circle cx="474.3" cy="610.9" r="2.6"/>
<circle cx="476.0" cy="562.6" r="2.6"/>
<circle cx="467.4" cy="598.1" r="2.6"/>
<circle cx="471.6" cy="596.0" r="2.6"/>
<circle cx="469.0" cy="560.4" r="2.6"/>
<circle cx="475.5" cy="551.3" r="2.6"/>
<circle cx="467.7" cy="565.7" r="2.6"/>
<circle cx="474.5" cy="623.9" r="2.6"/>
<circle cx="468.8" cy="587.5" r="2.6"/>
<circle cx="473.0" cy="566.9" r="2.6"/>
<circle cx="473.4" cy="550.0" r="2.6"/>
<circle cx="474.1" cy="533.8" r="2.6"/>
<circle cx="467.3" cy="601.5" r="2.6"/>
<circle cx="471.4" cy="541.1" r="2.6"/>
<circle cx="468.0" cy="538.8" r="2.6"/>
<circle cx="468.0" cy="654.2" r="2.6"/>
<circle cx="468.4" cy="627.3" r="2.6"/>
<circle cx="468.2" cy="607.0" r="2.6"/>
<circle cx="475.8" cy="536.9" r="2.6"/>
<circle cx="472.2" cy="600.3" r="2.6"/>
<circle cx="469.2" cy="601.7" r="2.6"/>
<circle cx="471.5" cy="535.3" r="2.6"/>
<circle cx="467.3" cy="548.5" r="2.6"/>
<circle cx="468.9" cy="571.2" r="2.6"/>
<circle cx="472.8" cy="617.2" r="2.6"/>
<circle cx="473.5" cy="546.5" r="2.6"/>
<circle cx="472.7" cy="593.4" r="2.6"/>
<circle cx="476.3" cy="545.1" r="2.6"/>
<circle cx="476.2" cy="605.7" r="2.6"/>
<circle cx="474.8" cy="519.8" r="2.6"/>
<circle cx="471.3" cy="592.6" r="2.6"/>
<circle cx="474.1" cy="567.6" r="2.6"/>
<circle cx="469.2" cy="632.5" r="2.6"/>
<circle cx="475.1" cy="550.3" r="2.6"/>
<circle cx="469.1" cy="591.5" r="2.6"/>
<circle cx="476.3" cy="596.1" r="2.6"/>
<circle cx="466.9" cy="653.7" r="2.6"/>
<circle cx="474.4" cy="510.8" r="2.6"/>
<circle cx="471.6" cy="542.6" r="2.6"/>
<circle cx="474.6" cy="540.7" r="2.6"/>
<circle cx="471.8" cy="621.5" r="2.6"/>
<circle cx="474.8" cy="592.1" r="2.6"/>
<circle cx="473.6" cy="536.9" r="2.6"/>
<circle cx="472.9" cy="543.9" r="2.6"/>
<circle cx="475.9" cy="598.6" r="2.6"/>
<circle cx="467.9" cy="528.5" r="2.6"/>
<circle cx="475.7" cy="544.9" r="2.6"/>
<circle cx="471.8" cy="566.0" r="2.6"/>
<circle cx="473.6" cy="627.5" r="2.6"/>
<circle cx="473.2" cy="570.7" r="2.6"/>
<circle cx="470.6" cy="630.5" r="2.6"/>
<circle cx="471.9" cy="562.1" r="2.6"/>
<circle cx="476.1" cy="601.1" r="2.6"/>
<circle cx="471.5" cy="546.7" r="2.6"/>
<circle cx="475.6" cy="633.7" r="2.6"/>
<circle cx="466.9" cy="596.1" r="2.6"/>
<circle cx="472.3" cy="570.4" r="2.6"/>
<circle cx="473.4" cy="533.2" r="2.6"/>
<circle cx="470.6" cy="602.8" r="2.6"/>
<circle cx="467.6" cy="528.2" r="2.6"/>
<circle cx="474.4" cy="605.3" r="2.6"/>
<circle cx="474.0" cy="621.4" r="2.6"/>
<circle cx="470.5" cy="597.2" r="2.6"/>
<circle cx="467.7" cy="506.5" r="2.6"/>
<circle cx="474.9" cy="598.8" r="2.6"/>
<circle cx="474.2" cy="588.2" r="2.6"/>
</g>
<g fill="#93d3cf" fill-opacity="0.3">
<circle cx="535.8" cy="619.1" r="2.6"/>
<circle cx="535.6" cy="625.2" r="2.6"/>
<circle cx="530.3" cy="554.2" r="2.6"/>
<circle cx="533.7" cy="626.9" r="2.6"/>
<circle cx="532.2" cy="626.3" r="2.6"/>
<circle cx="531.5" cy="629.2" r="2.6"/>
<circle cx="531.7" cy="629.8" r="2.6"/>
<circle cx="534.2" cy="644.8" r="2.6"/>
<circle cx="537.3" cy="606.0" r="2.6"/>
<circle cx="532.3" cy="579.3" r="2.6"/>
<circle cx="531.3" cy="598.2" r="2.6"/>
<circle cx="533.8" cy="622.4" r="2.6"/>
<circle cx="533.8" cy="562.0" r="2.6"/>
<circle cx="531.7" cy="595.7" r="2.6"/>
<circle cx="534.0" cy="598.6" r="2.6"/>
<circle cx="534.1" cy="575.9" r="2.6"/>
<circle cx="534.9" cy="508.6" r="2.6"/>
<circle cx="529.4" cy="563.9" r="2.6"/>
<circle cx="534.0" cy="588.7" r="2.6"/>
<circle cx="531.8" cy="634.5" r="2.6"/>
<circle cx="536.2" cy="545.2" r="2.6"/>
<circle cx="533.7" cy="612.7" r="2.6"/>
<circle cx="535.5" cy="624.8" r="2.6"/>
<circle cx="535.5" cy="611.1" r="2.6"/>
<circle cx="529.8" cy="561.4" r="2.6"/>
<circle cx="528.5" cy="558.1" r="2.6"/>
<circle cx="535.0" cy="570.7" r="2.6"/>
<circle cx="528.3" cy="573.2" r="2.6"/>
<circle cx="536.9" cy="526.3" r="2.6"/>
<circle cx="534.4" cy="526.1" r="2.6"/>
<circle cx="531.8" cy="591.6" r="2.6"/>
<circle cx="534.2" cy="545.3" r="2.6"/>
<circle cx="529.0" cy="555.7" r="2.6"/>
<circle cx="533.9" cy="531.7" r="2.6"/>
<circle cx="536.6" cy="546.8" r="2.6"/>
<circle cx="527.8" cy="592.9" r="2.6"/>
<circle cx="536.8" cy="566.0" r="2.6"/>
<circle cx="530.7" cy="552.6" r="2.6"/>
<circle cx="531.6" cy="541.9" r="2.6"/>
<circle cx="536.8" cy="529.8" r="2.6"/>
<circle cx="535.4" cy="522.7" r="2.6"/>
<circle cx="531.4" cy="593.8" r="2.6"/>
<circle cx="537.2" cy="534.0" r="2.6"/>
<circle cx="528.1" cy="584.5" r="2.6"/>
<circle cx="534.1" cy="610.6" r="2.6"/>
<circle cx="532.6" cy="531.4" r="2.6"/>
<circle cx="536.3" cy="616.2" r="2.6"/>
<circle cx="527.9" cy="622.0" r="2.6"/>
<circle cx="530.8" cy="614.1" r="2.6"/>
<circle cx="532.3" cy="546.6" r="2.6"/>
<circle cx="528.5" cy="597.5" r="2.6"/>
<circle cx="533.9" cy="610.6" r="2.6"/>
<circle cx="535.9" cy="614.5" r="2.6"/>
<circle cx="536.5" cy="552.2" r="2.6"/>
<circle cx="529.1" cy="529.8" r="2.6"/>
<circle cx="532.6" cy="531.3" r="2.6"/>
<circle cx="537.2" cy="575.8" r="2.6"/>
<circle cx="528.4" cy="641.8" r="2.6"/>
<circle cx="534.5" cy="621.6" r="2.6"/>
<circle cx="530.5" cy="561.5" r="2.6"/>
<circle cx="536.5" cy="525.9" r="2.6"/>
<circle cx="533.6" cy="573.6" r="2.6"/>
<circle cx="536.4" cy="540.1" r="2.6"/>
<circle cx="528.2" cy="572.8" r="2.6"/>
<circle cx="533.6" cy="556.6" r="2.6"/>
<circle cx="531.8" cy="570.4" r="2.6"/>
<circle cx="528.8" cy="619.2" r="2.6"/>
<circle cx="531.7" cy="532.4" r="2.6"/>
<circle cx="534.9" cy="628.0" r="2.6"/>
<circle cx="533.3" cy="558.2" r="2.6"/>
<circle cx="533.5" cy="530.6" r="2.6"/>
<circle cx="530.4" cy="576.2" r="2.6"/>
<circle cx="532.6" cy="544.6" r="2.6"/>
<circle cx="532.0" cy="542.7" r="2.6"/>
<circle cx="536.5" cy="552.8" r="2.6"/>
<circle cx="536.2" cy="607.9" r="2.6"/>
<circle cx="531.9" cy="567.7" r="2.6"/>
<circle cx="532.6" cy="567.1" r="2.6"/>
<circle cx="530.6" cy="592.1" r="2.6"/>
<circle cx="533.2" cy="514.5" r="2.6"/>
<circle cx="529.0" cy="571.0" r="2.6"/>
<circle cx="537.0" cy="559.7" r="2.6"/>
<circle cx="531.7" cy="555.3" r="2.6"/>
<circle cx="527.8" cy="567.0" r="2.6"/>
<circle cx="530.6" cy="515.3" r="2.6"/>
<circle cx="536.9" cy="561.5" r="2.6"/>
<circle cx="530.7" cy="569.9" r="2.6"/>
<circle cx="531.5" cy="566.5" r="2.6"/>
<circle cx="537.1" cy="599.3" r="2.6"/>
<circle cx="535.3" cy="534.2" r="2.6"/>
<circle cx="531.2" cy="610.5" r="2.6"/>
<circle cx="529.3" cy="573.6" r="2.6"/>
<circle cx="531.5" cy="582.1" r="2.6"/>
<circle cx="531.3" cy="623.9" r="2.6"/>
<circle cx="536.3" cy="613.9" r="2.6"/>
<circle cx="532.9" cy="561.8" r="2.6"/>
<circle cx="536.6" cy="589.5" r="2.6"/>
<circle cx="537.2" cy="634.4" r="2.6"/>
<circle cx="536.1" cy="540.6" r="2.6"/>
<circle cx="531.7" cy="530.3" r="2.6"/>
<circle cx="531.5" cy="632.1" r="2.6"/>
<circle cx="533.0" cy="604.5" r="2.6"/>
<circle cx="534.3" cy="598.7" r="2.6"/>
<circle cx="535.9" cy="621.1" r="2.6"/>
<circle cx="535.6" cy="590.9" r="2.6"/>
<circle cx="530.8" cy="614.3" r="2.6"/>
<circle cx="534.8" cy="575.2" r="2.6"/>
<circle cx="531.4" cy="532.6" r="2.6"/>
<circle cx="535.2" cy="622.2" r="2.6"/>
<circle cx="527.9" cy="555.8" r="2.6"/>
<circle cx="535.9" cy="598.1" r="2.6"/>
<circle cx="534.5" cy="614.4" r="2.6"/>
<circle cx="529.2" cy="559.5" r="2.6"/>
<circle cx="530.2" cy="647.6" r="2.6"/>
<circle cx="530.7" cy="529.1" r="2.6"/>
<circle cx="532.7" cy="565.7" r="2.6"/>
<circle cx="536.4" cy="626.3" r="2.6"/>
<circle cx="537.1" cy="626.5" r="2.6"/>
<circle cx="533.5" cy="575.5" r="2.6"/>
<circle cx="528.8" cy="588.0" r="2.6"/>
<circle cx="537.1" cy="614.6" r="2.6"/>
<circle cx="537.0" cy="584.1" r="2.6"/>
<circle cx="528.6" cy="644.7" r="2.6"/>
<circle cx="534.1" cy="632.2" r="2.6"/>
<circle cx="534.1" cy="609.7" r="2.6"/>
<circle cx="534.1" cy="604.3" r="2.6"/>
<circle cx="534.7" cy="566.1" r="2.6"/>
<circle cx="527.8" cy="636.8" r="2.6"/>
<circle cx="530.7" cy="548.4" r="2.6"/>
<circle cx="531.0" cy="532.0" r="2.6"/>
<circle cx="534.0" cy="604.7" r="2.6"/>
<circle cx="528.7" cy="560.6" r="2.6"/>
<circle cx="530.4" cy="619.0" r="2.6"/>
<circle cx="529.4" cy="552.2" r="2.6"/>
<circle cx="528.2" cy="607.6" r="2.6"/>
<circle cx="532.3" cy="640.0" r="2.6"/>
<circle cx="529.7" cy="598.3" r="2.6"/>
<circle cx="532.4" cy="604.0" r="2.6"/>
<circle cx="529.7" cy="538.5" r="2.6"/>
<circle cx="535.4" cy="559.9" r="2.6"/>
<circle cx="528.8" cy="606.6" r="2.6"/>
<circle cx="535.2" cy="628.7" r="2.6"/>
<circle cx="534.1" cy="516.6" r="2.6"/>
<circle cx="529.3" cy="536.6" r="2.6"/>
<circle cx="531.4" cy="544.5" r="2.6"/>
<circle cx="531.4" cy="624.3" r="2.6"/>
<circle cx="532.1" cy="613.5" r="2.6"/>
<circle cx="534.2" cy="605.1" r="2.6"/>
<circle cx="527.9" cy="554.9" r="2.6"/>
<circle cx="529.3" cy="582.0" r="2.6"/>
<circle cx="534.5" cy="516.0" r="2.6"/>
<circle cx="528.6" cy="554.4" r="2.6"/>
<circle cx="535.9" cy="559.5" r="2.6"/>
<circle cx="531.3" cy="616.0" r="2.6"/>
<circle cx="528.1" cy="612.6" r="2.6"/>
<circle cx="535.1" cy="569.2" r="2.6"/>
<circle cx="530.1" cy="553.9" r="2.6"/>
<circle cx="537.3" cy="567.5" r="2.6"/>
<circle cx="536.6" cy="574.4" r="2.6"/>
<circle cx="536.2" cy="597.4" r="2.6"/>
<circle cx="536.2" cy="635.9" r="2.6"/>
<circle cx="528.5" cy="589.1" r="2.6"/>
<circle cx="528.0" cy="564.2" r="2.6"/>
<circle cx="531.6" cy="599.8" r="2.6"/>
<circle cx="531.8" cy="565.6" r="2.6"/>
<circle cx="531.7" cy="522.4" r="2.6"/>
<circle cx="533.5" cy="614.8" r="2.6"/>
<circle cx="535.3" cy="599.9" r="2.6"/>
<circle cx="535.3" cy="619.5" r="2.6"/>
<circle cx="536.7" cy="554.9" r="2.6"/>
<circle cx="534.2" cy="568.4" r="2.6"/>
<circle cx="536.2" cy="522.6" r="2.6"/>
<circle cx="528.6" cy="603.3" r="2.6"/>
<circle cx="528.0" cy="607.3" r="2.6"/>
<circle cx="532.1" cy="566.7" r="2.6"/>
<circle cx="536.2" cy="547.9" r="2.6"/>
<circle cx="531.5" cy="606.1" r="2.6"/>
<circle cx="528.8" cy="591.7" r="2.6"/>
<circle cx="529.0" cy="547.4" r="2.6"/>
<circle cx="529.9" cy="618.2" r="2.6"/>
<circle cx="536.0" cy="540.1" r="2.6"/>
<circle cx="531.0" cy="581.5" r="2.6"/>
<circle cx="536.0" cy="537.9" r="2.6"/>
<circle cx="536.8" cy="568.8" r="2.6"/>
<circle cx="535.2" cy="571.2" r="2.6"/>
<circle cx="536.6" cy="525.9" r="2.6"/>
<circle cx="530.2" cy="589.6" r="2.6"/>
<circle cx="529.6" cy="607.1" r="2.6"/>
<circle cx="530.1" cy="534.5" r="2.6"/>
<circle cx="527.9" cy="556.3" r="2.6"/>
<circle cx="536.7" cy="638.1" r="2.6"/>
<circle cx="529.7" cy="558.0" r="2.6"/>
<circle cx="533.8" cy="560.7" r="2.6"/>
<circle cx="530.5" cy="606.8" r="2.6"/>
<circle cx="532.9" cy="649.7" r="2.6"/>
<circle cx="531.9" cy="529.7" r="2.6"/>
<circle cx="534.7" cy="590.3" r="2.6"/>
<circle cx="529.7" cy="627.8" r="2.6"/>
<circle cx="530.5" cy="585.0" r="2.6"/>
<circle cx="529.1" cy="551.4" r="2.6"/>
<circle cx="530.9" cy="618.3" r="2.6"/>
<circle cx="535.8" cy="581.7" r="2.6"/>
<circle cx="537.0" cy="621.0" r="2.6"/>
<circle cx="527.9" cy="613.1" r="2.6"/>
<circle cx="535.9" cy="639.0" r="2.6"/>
<circle cx="534.8" cy="555.0" r="2.6"/>
<circle cx="528.5" cy="571.0" r="2.6"/>
<circle cx="529.3" cy="575.4" r="2.6"/>
<circle cx="536.1" cy="586.6" r="2.6"/>
<circle cx="529.6" cy="578.7" r="2.6"/>
<circle cx="536.5" cy="618.4" r="2.6"/>
<circle cx="532.9" cy="614.1" r="2.6"/>
<circle cx="537.2" cy="526.5" r="2.6"/>
<circle cx="532.6" cy="607.2" r="2.6"/>
<circle cx="529.0" cy="486.2" r="2.6"/>
<circle cx="533.6" cy="532.6" r="2.6"/>
<circle cx="532.0" cy="626.3" r="2.6"/>
<circle cx="528.4" cy="621.4" r="2.6"/>
<circle cx="535.6" cy="598.2" r="2.6"/>
<circle cx="536.4" cy="559.8" r="2.6"/>
<circle cx="537.0" cy="579.4" r="2.6"/>
<circle cx="533.9" cy="524.1" r="2.6"/>
<circle cx="533.3" cy="554.1" r="2.6"/>
<circle cx="529.6" cy="590.0" r="2.6"/>
<circle cx="537.0" cy="517.6" r="2.6"/>
<circle cx="534.8" cy="562.8" r="2.6"/>
<circle cx="534.2" cy="584.3" r="2.6"/>
<circle cx="534.4" cy="594.8" r="2.6"/>
<circle cx="535.8" cy="608.6" r="2.6"/>
<circle cx="531.0" cy="574.5" r="2.6"/>
<circle cx="528.8" cy="547.8" r="2.6"/>
<circle cx="537.3" cy="518.2" r="2.6"/>
<circle cx="528.1" cy="566.5" r="2.6"/>
<circle cx="530.4" cy="563.6" r="2.6"/>
<circle cx="532.5" cy="574.2" r="2.6"/>
<circle cx="528.1" cy="570.6" r="2.6"/>
<circle cx="530.7" cy="609.6" r="2.6"/>
<circle cx="536.1" cy="577.1" r="2.6"/>
<circle cx="533.8" cy="556.0" r="2.6"/>
<circle cx="533.4" cy="553.8" r="2.6"/>
<circle cx="527.9" cy="582.8" r="2.6"/>
<circle cx="531.9" cy="595.9" r="2.6"/>
<circle cx="528.9" cy="630.3" r="2.6"/>
<circle cx="531.5" cy="594.4" r="2.6"/>
<circle cx="531.5" cy="564.8" r="2.6"/>
<circle cx="531.8" cy="533.8" r="2.6"/>
<circle cx="530.8" cy="568.1" r="2.6"/>
<circle cx="535.2" cy="625.4" r="2.6"/>
<circle cx="532.2" cy="604.7" r="2.6"/>
<circle cx="536.5" cy="560.5" r="2.6"/>
<circle cx="531.1" cy="551.0" r="2.6"/>
<circle cx="529.1" cy="584.8" r="2.6"/>
<circle cx="531.2" cy="609.7" r="2.6"/>
<circle cx="536.1" cy="553.8" r="2.6"/>
<circle cx="531.2" cy="567.8" r="2.6"/>
<circle cx="535.6" cy="594.4" r="2.6"/>
<circle cx="534.4" cy="614.7" r="2.6"/>
<circle cx="530.2" cy="638.9" r="2.6"/>
<circle cx="529.6" cy="632.1" r="2.6"/>
<circle cx="528.8" cy="569.6" r="2.6"/>
<circle cx="532.1" cy="534.5" r="2.6"/>
<circle cx="534.4" cy="610.2" r="2.6"/>
<circle cx="530.6" cy="583.6" r="2.6"/>
<circle cx="536.9" cy="582.2" r="2.6"/>
<circle cx="527.9" cy="634.3" r="2.6"/>
<circle cx="535.3" cy="568.9" r="2.6"/>
<circle cx="529.4" cy="553.6" r="2.6"/>
<circle cx="537.3" cy="555.0" r="2.6"/>
<circle cx="528.7" cy="629.8" r="2.6"/>
<circle cx="536.6" cy="572.9" r="2.6"/>
<circle cx="531.6" cy="535.3" r="2.6"/>
<circle cx="530.5" cy="594.3" r="2.6"/>
<circle cx="528.1" cy="612.6" r="2.6"/>
<circle cx="529.9" cy="630.8" r="2.6"/>
<circle cx="531.4" cy="527.3" r="2.6"/>
<circle cx="536.7" cy="599.9" r="2.6"/>
<circle cx="537.0" cy="560.5" r="2.6"/>
<circle cx="528.5" cy="595.5" r="2.6"/>
<circle cx="533.1" cy="614.5" r="2.6"/>
<circle cx="528.1" cy="589.1" r="2.6"/>
<circle cx="528.7" cy="581.1" r="2.6"/>
<circle cx="533.7" cy="615.1" r="2.6"/>
<circle cx="532.8" cy="544.4" r="2.6"/>
<circle cx="536.4" cy="594.4" r="2.6"/>
<circle cx="536.4" cy="531.1" r="2.6"/>
<circle cx="529.3" cy="619.2" r="2.6"/>
<circle cx="533.8" cy="630.9" r="2.6"/>
<circle cx="535.5" cy="572.3" r="2.6"/>
<circle cx="535.2" cy="615.9" r="2.6"/>
<circle cx="533.2" cy="624.8" r="2.6"/>
<circle cx="532.7" cy="559.7" r="2.6"/>
<circle cx="533.2" cy="576.7" r="2.6"/>
<circle cx="531.7" cy="593.4" r="2.6"/>
<circle cx="533.2" cy="513.8" r="2.6"/>
<circle cx="536.3" cy="548.8" r="2.6"/>
<circle cx="531.1" cy="571.4" r="2.6"/>
<circle cx="532.0" cy="633.9" r="2.6"/>
<circle cx="532.0" cy="620.1" r="2.6"/>
<circle cx="536.1" cy="543.5" r="2.6"/>
<circle cx="530.1" cy="596.2" r="2.6"/>
<circle cx="532.0" cy="576.9" r="2.6"/>
<circle cx="535.0" cy="566.0" r="2.6"/>
<circle cx="531.5" cy="628.0" r="2.6"/>
<circle cx="536.0" cy="551.4" r="2.6"/>
<circle cx="532.9" cy="575.3" r="2.6"/>
<circle cx="528.7" cy="650.7" r="2.6"/>
<circle cx="531.3" cy="580.1" r="2.6"/>
<circle cx="529.2" cy="567.2" r="2.6"/>
<circle cx="532.0" cy="524.6" r="2.6"/>
<circle cx="531.2" cy="580.3" r="2.6"/>
<circle cx="531.0" cy="576.0" r="2.6"/>
<circle cx="535.7" cy="582.4" r="2.6"/>
<circle cx="536.4" cy="641.0" r="2.6"/>
<circle cx="535.0" cy="615.0" r="2.6"/>
<circle cx="535.1" cy="610.6" r="2.6"/>
<circle cx="536.3" cy="526.1" r="2.6"/>
<circle cx="536.6" cy="648.6" r="2.6"/>
<circle cx="529.4" cy="568.0" r="2.6"/>
<circle cx="536.4" cy="568.1" r="2.6"/>
<circle cx="529.3" cy="543.8" r="2.6"/>
<circle cx="530.4" cy="602.3" r="2.6"/>
<circle cx="535.3" cy="566.7" r="2.6"/>
<circle cx="529.1" cy="528.0" r="2.6"/>
<circle cx="537.0" cy="627.6" r="2.6"/>
<circle cx="536.7" cy="610.8" r="2.6"/>
<circle cx="527.8" cy="571.5" r="2.6"/>
<circle cx="533.9" cy="587.3" r="2.6"/>
<circle cx="536.6" cy="562.9" r="2.6"/>
<circle cx="532.9" cy="576.3" r="2.6"/>
<circle cx="532.9" cy="514.9" r="2.6"/>
<circle cx="533.4" cy="612.6" r="2.6"/>
<circle cx="533.1" cy="598.8" r="2.6"/>
<circle cx="533.3" cy="628.0" r="2.6"/>
<circle cx="534.3" cy="537.5" r="2.6"/>
<circle cx="536.9" cy="598.8" r="2.6"/>
<circle cx="528.5" cy="610.5" r="2.6"/>
<circle cx="530.0" cy="593.4" r="2.6"/>
<circle cx="527.8" cy="528.2" r="2.6"/>
<circle cx="528.4" cy="581.2" r="2.6"/>
<circle cx="529.7" cy="564.2" r="2.6"/>
<circle cx="536.4" cy="598.8" r="2.6"/>
<circle cx="530.8" cy="553.5" r="2.6"/>
<circle cx="533.5" cy="586.0" r="2.6"/>
<circle cx="530.8" cy="520.1" r="2.6"/>
<circle cx="537.2" cy="544.8" r="2.6"/>
<circle cx="529.6" cy="586.1" r="2.6"/>
<circle cx="531.5" cy="621.6" r="2.6"/>
<circle cx="531.3" cy="613.6" r="2.6"/>
<circle cx="529.8" cy="584.6" r="2.6"/>
<circle cx="528.5" cy="587.1" r="2.6"/>
<circle cx="531.5" cy="576.0" r="2.6"/>
<circle cx="529.7" cy="519.5" r="2.6"/>
<circle cx="528.0" cy="609.2" r="2.6"/>
<circle cx="536.3" cy="603.2" r="2.6"/>
<circle cx="531.0" cy="604.0" r="2.6"/>
<circle cx="527.9" cy="599.5" r="2.6"/>
<circle cx="533.7" cy="544.5" r="2.6"/>
<circle cx="532.3" cy="564.2" r="2.6"/>
<circle cx="534.4" cy="581.0" r="2.6"/>
<circle cx="531.2" cy="595.0" r="2.6"/>
<circle cx="529.1" cy="589.8" r="2.6"/>
<circle cx="533.9" cy="585.1" r="2.6"/>
<circle cx="531.6" cy="575.6" r="2.6"/>
<circle cx="536.2" cy="550.2" r="2.6"/>
<circle cx="530.9" cy="541.1" r="2.6"/>
<circle cx="529.9" cy="646.7" r="2.6"/>
<circle cx="529.5" cy="553.6" r="2.6"/>
<circle cx="530.2" cy="531.8" r="2.6"/>
<circle cx="530.0" cy="540.4" r="2.6"/>
<circle cx="532.8" cy="540.4" r="2.6"/>
<circle cx="531.3" cy="543.3" r="2.6"/>
<circle cx="537.1" cy="600.9" r="2.6"/>
<circle cx="529.7" cy="570.7" r="2.6"/>
<circle cx="536.8" cy="533.3" r="2.6"/>
<circle cx="531.0" cy="525.4" r="2.6"/>
<circle cx="532.4" cy="548.2" r="2.6"/>
<circle cx="537.0" cy="566.3" r="2.6"/>
<circle cx="535.2" cy="534.9" r="2.6"/>
<circle cx="536.8" cy="640.8" r="2.6"/>
<circle cx="532.9" cy="613.7" r="2.6"/>
<circle cx="530.8" cy="527.2" r="2.6"/>
<circle cx="534.2" cy="649.6" r="2.6"/>
<circle cx="534.3" cy="601.8" r="2.6"/>
<circle cx="528.1" cy="571.4" r="2.6"/>
<circle cx="528.8" cy="573.0" r="2.6"/>
<circle cx="536.8" cy="599.2" r="2.6"/>
<circle cx="534.7" cy="518.8" r="2.6"/>
<circle cx="535.6" cy="610.4" r="2.6"/>
<circle cx="529.6" cy="623.9" r="2.6"/>
<circle cx="537.1" cy="592.3" r="2.6"/>
<circle cx="530.6" cy="636.8" r="2.6"/>
<circle cx="529.1" cy="582.2" r="2.6"/>
<circle cx="531.2" cy="555.9" r="2.6"/>
<circle cx="531.1" cy="566.4" r="2.6"/>
<circle cx="528.3" cy="607.5" r="2.6"/>
<circle cx="535.9" cy="571.6" r="2.6"/>
<circle cx="536.1" cy="638.5" r="2.6"/>
<circle cx="529.6" cy="603.0" r="2.6"/>
<circle cx="533.0" cy="541.1" r="2.6"/>
<circle cx="536.1" cy="646.9" r="2.6"/>
<circle cx="531.4" cy="580.3" r="2.6"/>
<circle cx="532.6" cy="631.3" r="2.6"/>
<circle cx="530.1" cy="555.7" r="2.6"/>
<circle cx="532.2" cy="526.4" r="2.6"/>
<circle cx="530.7" cy="614.6" r="2.6"/>
<circle cx="535.7" cy="577.4" r="2.6"/>
<circle cx="529.3" cy="561.5" r="2.6"/>
<circle cx="528.1" cy="612.0" r="2.6"/>
<circle cx="536.4" cy="594.3" r="2.6"/>
<circle cx="529.4" cy="571.4" r="2.6"/>
<circle cx="533.0" cy="579.6" r="2.6"/>
<circle cx="534.6" cy="559.3" r="2.6"/>
</g>
<g fill="#2b9bd0" fill-opacity="0.26">
<circle cx="564.0" cy="645.4" r="2.6"/>
<circle cx="569.8" cy="572.7" r="2.6"/>
<circle cx="564.1" cy="577.6" r="2.6"/>
<circle cx="562.7" cy="646.1" r="2.6"/>
<circle cx="561.5" cy="632.5" r="2.6"/>
<circle cx="569.5" cy="591.0" r="2.6"/>
<circle cx="562.9" cy="572.0" r="2.6"/>
<circle cx="569.5" cy="605.0" r="2.6"/>
<circle cx="565.2" cy="535.9" r="2.6"/>
<circle cx="569.8" cy="605.7" r="2.6"/>
<circle cx="561.7" cy="565.0" r="2.6"/>
<circle cx="569.1" cy="538.1" r="2.6"/>
<circle cx="570.3" cy="616.4" r="2.6"/>
<circle cx="567.7" cy="584.5" r="2.6"/>
<circle cx="562.1" cy="579.0" r="2.6"/>
<circle cx="570.4" cy="610.9" r="2.6"/>
<circle cx="568.5" cy="627.1" r="2.6"/>
<circle cx="562.9" cy="585.5" r="2.6"/>
<circle cx="570.2" cy="567.0" r="2.6"/>
<circle cx="561.7" cy="600.9" r="2.6"/>
<circle cx="562.1" cy="578.0" r="2.6"/>
<circle cx="561.0" cy="591.3" r="2.6"/>
<circle cx="566.5" cy="612.7" r="2.6"/>
<circle cx="564.7" cy="617.2" r="2.6"/>
<circle cx="561.7" cy="598.7" r="2.6"/>
<circle cx="565.6" cy="622.2" r="2.6"/>
<circle cx="569.3" cy="580.1" r="2.6"/>
<circle cx="561.7" cy="626.0" r="2.6"/>
<circle cx="567.0" cy="632.4" r="2.6"/>
<circle cx="562.5" cy="624.6" r="2.6"/>
<circle cx="565.8" cy="602.0" r="2.6"/>
<circle cx="564.1" cy="643.6" r="2.6"/>
<circle cx="563.5" cy="590.2" r="2.6"/>
<circle cx="561.0" cy="554.4" r="2.6"/>
<circle cx="566.4" cy="610.1" r="2.6"/>
<circle cx="565.1" cy="597.4" r="2.6"/>
<circle cx="567.5" cy="581.6" r="2.6"/>
<circle cx="562.6" cy="613.0" r="2.6"/>
<circle cx="570.3" cy="599.9" r="2.6"/>
<circle cx="561.0" cy="593.2" r="2.6"/>
<circle cx="562.7" cy="555.8" r="2.6"/>
<circle cx="567.0" cy="586.5" r="2.6"/>
<circle cx="562.1" cy="592.9" r="2.6"/>
<circle cx="563.4" cy="609.7" r="2.6"/>
<circle cx="565.7" cy="532.0" r="2.6"/>
<circle cx="568.1" cy="631.4" r="2.6"/>
<circle cx="569.1" cy="601.7" r="2.6"/>
<circle cx="563.9" cy="548.2" r="2.6"/>
<circle cx="567.2" cy="577.0" r="2.6"/>
<circle cx="561.1" cy="582.3" r="2.6"/>
<circle cx="569.4" cy="601.6" r="2.6"/>
<circle cx="567.3" cy="624.8" r="2.6"/>
<circle cx="569.5" cy="649.4" r="2.6"/>
<circle cx="562.9" cy="567.2" r="2.6"/>
<circle cx="565.6" cy="638.8" r="2.6"/>
<circle cx="568.0" cy="571.6" r="2.6"/>
<circle cx="561.1" cy="649.9" r="2.6"/>
<circle cx="568.9" cy="613.9" r="2.6"/>
<circle cx="567.6" cy="592.4" r="2.6"/>
<circle cx="568.4" cy="603.7" r="2.6"/>
<circle cx="562.4" cy="584.2" r="2.6"/>
<circle cx="568.3" cy="544.8" r="2.6"/>
<circle cx="566.3" cy="557.0" r="2.6"/>
<circle cx="562.3" cy="536.3" r="2.6"/>
<circle cx="562.1" cy="639.4" r="2.6"/>
<circle cx="569.1" cy="647.7" r="2.6"/>
<circle cx="564.7" cy="627.9" r="2.6"/>
<circle cx="563.5" cy="585.5" r="2.6"/>
<circle cx="564.4" cy="548.0" r="2.6"/>
<circle cx="567.4" cy="582.6" r="2.6"/>
<circle cx="562.2" cy="571.3" r="2.6"/>
<circle cx="562.4" cy="546.7" r="2.6"/>
<circle cx="567.1" cy="626.4" r="2.6"/>
<circle cx="569.4" cy="607.0" r="2.6"/>
<circle cx="567.3" cy="537.4" r="2.6"/>
<circle cx="569.9" cy="636.5" r="2.6"/>
<circle cx="563.6" cy="581.8" r="2.6"/>
<circle cx="564.2" cy="553.4" r="2.6"/>
<circle cx="564.4" cy="583.1" r="2.6"/>
<circle cx="564.3" cy="608.9" r="2.6"/>
<circle cx="563.4" cy="567.7" r="2.6"/>
<circle cx="568.5" cy="589.5" r="2.6"/>
<circle cx="563.6" cy="552.2" r="2.6"/>
<circle cx="564.8" cy="563.5" r="2.6"/>
<circle cx="565.4" cy="549.1" r="2.6"/>
<circle cx="570.4" cy="633.0" r="2.6"/>
<circle cx="564.0" cy="651.0" r="2.6"/>
<circle cx="567.5" cy="555.5" r="2.6"/>
<circle cx="564.0" cy="572.1" r="2.6"/>
<circle cx="568.5" cy="607.1" r="2.6"/>
<circle cx="564.6" cy="624.3" r="2.6"/>
<circle cx="561.1" cy="611.0" r="2.6"/>
<circle cx="565.9" cy="630.9" r="2.6"/>
<circle cx="564.1" cy="581.4" r="2.6"/>
<circle cx="563.4" cy="589.9" r="2.6"/>
<circle cx="563.7" cy="594.3" r="2.6"/>
<circle cx="560.9" cy="593.1" r="2.6"/>
<circle cx="567.9" cy="606.8" r="2.6"/>
<circle cx="566.1" cy="618.9" r="2.6"/>
<circle cx="567.0" cy="617.7" r="2.6"/>
<circle cx="566.3" cy="587.7" r="2.6"/>
<circle cx="564.5" cy="580.4" r="2.6"/>
<circle cx="565.3" cy="586.7" r="2.6"/>
<circle cx="565.4" cy="578.7" r="2.6"/>
<circle cx="569.7" cy="627.7" r="2.6"/>
<circle cx="564.2" cy="602.3" r="2.6"/>
<circle cx="562.3" cy="626.1" r="2.6"/>
<circle cx="561.7" cy="575.4" r="2.6"/>
<circle cx="564.1" cy="624.3" r="2.6"/>
<circle cx="566.3" cy="561.7" r="2.6"/>
<circle cx="566.4" cy="591.7" r="2.6"/>
<circle cx="567.8" cy="627.2" r="2.6"/>
<circle cx="567.2" cy="609.1" r="2.6"/>
<circle cx="561.7" cy="598.4" r="2.6"/>
<circle cx="564.6" cy="571.9" r="2.6"/>
<circle cx="564.4" cy="580.0" r="2.6"/>
<circle cx="561.9" cy="630.6" r="2.6"/>
<circle cx="566.5" cy="601.5" r="2.6"/>
<circle cx="568.3" cy="524.4" r="2.6"/>
<circle cx="561.3" cy="585.0" r="2.6"/>
<circle cx="565.9" cy="594.6" r="2.6"/>
<circle cx="562.0" cy="566.4" r="2.6"/>
<circle cx="568.3" cy="637.6" r="2.6"/>
<circle cx="566.2" cy="566.4" r="2.6"/>
<circle cx="561.5" cy="643.6" r="2.6"/>
<circle cx="565.8" cy="605.9" r="2.6"/>
<circle cx="563.2" cy="641.6" r="2.6"/>
<circle cx="562.8" cy="625.0" r="2.6"/>
<circle cx="567.3" cy="591.1" r="2.6"/>
<circle cx="564.7" cy="574.4" r="2.6"/>
<circle cx="569.8" cy="622.0" r="2.6"/>
<circle cx="569.6" cy="640.4" r="2.6"/>
<circle cx="569.0" cy="590.9" r="2.6"/>
<circle cx="564.8" cy="605.4" r="2.6"/>
<circle cx="569.5" cy="602.4" r="2.6"/>
<circle cx="561.5" cy="594.6" r="2.6"/>
<circle cx="568.3" cy="621.1" r="2.6"/>
<circle cx="564.3" cy="634.3" r="2.6"/>
<circle cx="569.2" cy="582.0" r="2.6"/>
<circle cx="561.1" cy="596.6" r="2.6"/>
<circle cx="566.4" cy="559.7" r="2.6"/>
<circle cx="561.5" cy="573.0" r="2.6"/>
<circle cx="563.7" cy="630.1" r="2.6"/>
<circle cx="566.3" cy="646.0" r="2.6"/>
<circle cx="562.2" cy="608.8" r="2.6"/>
<circle cx="567.5" cy="639.6" r="2.6"/>
<circle cx="565.8" cy="574.9" r="2.6"/>
<circle cx="563.0" cy="617.7" r="2.6"/>
<circle cx="566.0" cy="593.3" r="2.6"/>
<circle cx="565.1" cy="622.7" r="2.6"/>
<circle cx="561.2" cy="535.9" r="2.6"/>
<circle cx="567.7" cy="599.1" r="2.6"/>
<circle cx="567.7" cy="575.0" r="2.6"/>
<circle cx="569.6" cy="593.4" r="2.6"/>
<circle cx="569.9" cy="573.4" r="2.6"/>
<circle cx="564.4" cy="617.4" r="2.6"/>
<circle cx="567.0" cy="576.6" r="2.6"/>
<circle cx="566.7" cy="649.3" r="2.6"/>
<circle cx="561.4" cy="583.0" r="2.6"/>
<circle cx="567.8" cy="613.9" r="2.6"/>
<circle cx="563.5" cy="619.0" r="2.6"/>
<circle cx="564.9" cy="653.0" r="2.6"/>
<circle cx="566.8" cy="639.2" r="2.6"/>
<circle cx="565.7" cy="565.5" r="2.6"/>
<circle cx="563.5" cy="562.5" r="2.6"/>
<circle cx="569.2" cy="620.9" r="2.6"/>
<circle cx="561.8" cy="574.3" r="2.6"/>
<circle cx="566.6" cy="616.1" r="2.6"/>
<circle cx="562.6" cy="583.3" r="2.6"/>
<circle cx="569.7" cy="547.1" r="2.6"/>
<circle cx="569.8" cy="605.2" r="2.6"/>
<circle cx="567.7" cy="574.2" r="2.6"/>
<circle cx="569.3" cy="576.7" r="2.6"/>
<circle cx="568.2" cy="633.3" r="2.6"/>
<circle cx="567.1" cy="626.0" r="2.6"/>
<circle cx="568.0" cy="618.7" r="2.6"/>
<circle cx="569.6" cy="547.5" r="2.6"/>
<circle cx="562.9" cy="545.3" r="2.6"/>
<circle cx="567.9" cy="652.3" r="2.6"/>
<circle cx="562.6" cy="592.8" r="2.6"/>
<circle cx="565.3" cy="582.2" r="2.6"/>
<circle cx="564.1" cy="567.6" r="2.6"/>
<circle cx="566.9" cy="597.1" r="2.6"/>
<circle cx="567.0" cy="582.2" r="2.6"/>
<circle cx="569.5" cy="573.8" r="2.6"/>
<circle cx="568.9" cy="597.9" r="2.6"/>
<circle cx="561.5" cy="574.2" r="2.6"/>
<circle cx="562.5" cy="581.3" r="2.6"/>
<circle cx="561.3" cy="640.2" r="2.6"/>
<circle cx="567.7" cy="590.4" r="2.6"/>
<circle cx="564.2" cy="621.3" r="2.6"/>
<circle cx="570.2" cy="641.8" r="2.6"/>
<circle cx="562.9" cy="560.0" r="2.6"/>
<circle cx="570.0" cy="596.6" r="2.6"/>
<circle cx="568.1" cy="598.8" r="2.6"/>
<circle cx="568.2" cy="618.4" r="2.6"/>
<circle cx="566.7" cy="637.2" r="2.6"/>
<circle cx="569.3" cy="606.2" r="2.6"/>
<circle cx="563.1" cy="570.4" r="2.6"/>
<circle cx="569.2" cy="600.2" r="2.6"/>
<circle cx="569.3" cy="581.3" r="2.6"/>
<circle cx="566.7" cy="582.9" r="2.6"/>
<circle cx="567.2" cy="562.2" r="2.6"/>
<circle cx="563.0" cy="596.0" r="2.6"/>
<circle cx="565.6" cy="625.8" r="2.6"/>
<circle cx="566.5" cy="545.3" r="2.6"/>
<circle cx="563.9" cy="599.9" r="2.6"/>
<circle cx="561.3" cy="637.7" r="2.6"/>
<circle cx="570.0" cy="547.1" r="2.6"/>
<circle cx="568.6" cy="509.9" r="2.6"/>
<circle cx="564.4" cy="566.4" r="2.6"/>
<circle cx="566.0" cy="618.3" r="2.6"/>
<circle cx="566.5" cy="580.8" r="2.6"/>
<circle cx="570.0" cy="581.3" r="2.6"/>
<circle cx="566.2" cy="597.8" r="2.6"/>
<circle cx="567.8" cy="615.6" r="2.6"/>
<circle cx="568.6" cy="573.0" r="2.6"/>
<circle cx="561.8" cy="593.9" r="2.6"/>
<circle cx="566.4" cy="654.0" r="2.6"/>
<circle cx="569.8" cy="542.3" r="2.6"/>
<circle cx="568.8" cy="641.3" r="2.6"/>
<circle cx="569.7" cy="580.0" r="2.6"/>
<circle cx="562.4" cy="655.0" r="2.6"/>
<circle cx="568.3" cy="628.3" r="2.6"/>
<circle cx="563.5" cy="602.3" r="2.6"/>
<circle cx="569.3" cy="586.4" r="2.6"/>
<circle cx="568.4" cy="611.0" r="2.6"/>
<circle cx="564.5" cy="608.3" r="2.6"/>
<circle cx="566.4" cy="556.0" r="2.6"/>
<circle cx="565.4" cy="652.6" r="2.6"/>
<circle cx="569.9" cy="545.2" r="2.6"/>
<circle cx="566.2" cy="607.6" r="2.6"/>
<circle cx="561.6" cy="586.2" r="2.6"/>
<circle cx="566.0" cy="565.1" r="2.6"/>
<circle cx="561.0" cy="633.6" r="2.6"/>
<circle cx="562.2" cy="604.7" r="2.6"/>
<circle cx="565.6" cy="537.3" r="2.6"/>
<circle cx="565.3" cy="646.6" r="2.6"/>
<circle cx="561.5" cy="548.1" r="2.6"/>
<circle cx="564.1" cy="592.7" r="2.6"/>
<circle cx="563.6" cy="572.4" r="2.6"/>
<circle cx="563.6" cy="597.7" r="2.6"/>
<circle cx="565.1" cy="637.1" r="2.6"/>
<circle cx="561.2" cy="556.3" r="2.6"/>
<circle cx="561.2" cy="553.7" r="2.6"/>
<circle cx="563.1" cy="539.8" r="2.6"/>
<circle cx="567.7" cy="626.3" r="2.6"/>
<circle cx="569.8" cy="536.9" r="2.6"/>
<circle cx="568.1" cy="628.9" r="2.6"/>
<circle cx="561.6" cy="585.0" r="2.6"/>
<circle cx="568.8" cy="569.6" r="2.6"/>
<circle cx="568.7" cy="608.7" r="2.6"/>
<circle cx="569.0" cy="646.7" r="2.6"/>
<circle cx="567.8" cy="614.7" r="2.6"/>
<circle cx="563.4" cy="629.1" r="2.6"/>
<circle cx="565.6" cy="627.1" r="2.6"/>
<circle cx="565.1" cy="595.8" r="2.6"/>
<circle cx="561.2" cy="576.0" r="2.6"/>
<circle cx="566.0" cy="548.6" r="2.6"/>
<circle cx="563.4" cy="563.0" r="2.6"/>
<circle cx="570.0" cy="545.4" r="2.6"/>
<circle cx="567.2" cy="645.3" r="2.6"/>
<circle cx="568.6" cy="616.7" r="2.6"/>
<circle cx="561.2" cy="582.4" r="2.6"/>
<circle cx="567.7" cy="647.6" r="2.6"/>
<circle cx="568.6" cy="588.0" r="2.6"/>
<circle cx="565.3" cy="570.4" r="2.6"/>
<circle cx="563.3" cy="592.2" r="2.6"/>
<circle cx="565.5" cy="587.7" r="2.6"/>
<circle cx="566.1" cy="558.0" r="2.6"/>
<circle cx="565.0" cy="595.4" r="2.6"/>
<circle cx="563.9" cy="542.8" r="2.6"/>
<circle cx="567.3" cy="588.9" r="2.6"/>
<circle cx="569.4" cy="631.0" r="2.6"/>
<circle cx="563.4" cy="621.6" r="2.6"/>
<circle cx="569.3" cy="612.6" r="2.6"/>
<circle cx="561.4" cy="561.2" r="2.6"/>
<circle cx="567.5" cy="555.3" r="2.6"/>
<circle cx="564.2" cy="618.7" r="2.6"/>
<circle cx="565.9" cy="523.1" r="2.6"/>
<circle cx="564.3" cy="584.2" r="2.6"/>
<circle cx="561.6" cy="617.1" r="2.6"/>
<circle cx="562.4" cy="584.3" r="2.6"/>
<circle cx="570.3" cy="568.5" r="2.6"/>
<circle cx="564.8" cy="596.4" r="2.6"/>
<circle cx="570.0" cy="534.1" r="2.6"/>
<circle cx="565.8" cy="612.3" r="2.6"/>
<circle cx="569.5" cy="574.9" r="2.6"/>
<circle cx="565.1" cy="589.8" r="2.6"/>
<circle cx="570.4" cy="580.3" r="2.6"/>
<circle cx="565.4" cy="571.7" r="2.6"/>
<circle cx="563.3" cy="536.8" r="2.6"/>
<circle cx="562.5" cy="582.3" r="2.6"/>
<circle cx="561.5" cy="614.6" r="2.6"/>
<circle cx="561.9" cy="605.3" r="2.6"/>
<circle cx="567.4" cy="531.4" r="2.6"/>
<circle cx="564.3" cy="604.0" r="2.6"/>
<circle cx="569.2" cy="637.1" r="2.6"/>
<circle cx="562.7" cy="593.5" r="2.6"/>
<circle cx="569.8" cy="554.8" r="2.6"/>
<circle cx="562.7" cy="629.3" r="2.6"/>
<circle cx="563.4" cy="585.5" r="2.6"/>
<circle cx="564.1" cy="623.5" r="2.6"/>
<circle cx="563.4" cy="569.7" r="2.6"/>
<circle cx="564.8" cy="584.3" r="2.6"/>
<circle cx="568.6" cy="621.8" r="2.6"/>
<circle cx="561.5" cy="625.0" r="2.6"/>
<circle cx="563.2" cy="612.7" r="2.6"/>
<circle cx="561.4" cy="614.7" r="2.6"/>
<circle cx="568.3" cy="649.9" r="2.6"/>
<circle cx="562.0" cy="586.7" r="2.6"/>
<circle cx="565.7" cy="604.7" r="2.6"/>
<circle cx="569.2" cy="582.8" r="2.6"/>
<circle cx="563.9" cy="551.9" r="2.6"/>
<circle cx="562.0" cy="545.5" r="2.6"/>
<circle cx="563.4" cy="638.1" r="2.6"/>
<circle cx="569.9" cy="575.0" r="2.6"/>
<circle cx="561.8" cy="571.8" r="2.6"/>
<circle cx="569.1" cy="548.3" r="2.6"/>
<circle cx="562.0" cy="592.2" r="2.6"/>
<circle cx="562.4" cy="637.8" r="2.6"/>
<circle cx="568.3" cy="645.0" r="2.6"/>
<circle cx="567.0" cy="598.2" r="2.6"/>
<circle cx="563.9" cy="609.2" r="2.6"/>
<circle cx="567.6" cy="615.4" r="2.6"/>
<circle cx="562.3" cy="600.3" r="2.6"/>
<circle cx="569.3" cy="596.0" r="2.6"/>
<circle cx="566.4" cy="583.3" r="2.6"/>
<circle cx="569.9" cy="584.2" r="2.6"/>
<circle cx="566.6" cy="541.8" r="2.6"/>
<circle cx="566.3" cy="624.7" r="2.6"/>
<circle cx="569.1" cy="625.7" r="2.6"/>
<circle cx="566.4" cy="575.0" r="2.6"/>
<circle cx="561.7" cy="610.4" r="2.6"/>
<circle cx="566.7" cy="639.6" r="2.6"/>
<circle cx="563.7" cy="618.3" r="2.6"/>
<circle cx="567.0" cy="507.9" r="2.6"/>
<circle cx="570.4" cy="615.8" r="2.6"/>
<circle cx="566.7" cy="595.9" r="2.6"/>
<circle cx="568.9" cy="624.4" r="2.6"/>
<circle cx="564.3" cy="636.2" r="2.6"/>
<circle cx="561.0" cy="633.2" r="2.6"/>
<circle cx="561.3" cy="646.0" r="2.6"/>
<circle cx="561.0" cy="586.0" r="2.6"/>
<circle cx="562.9" cy="639.4" r="2.6"/>
<circle cx="563.4" cy="645.5" r="2.6"/>
<circle cx="563.9" cy="547.0" r="2.6"/>
<circle cx="567.1" cy="615.4" r="2.6"/>
<circle cx="568.0" cy="619.3" r="2.6"/>
<circle cx="568.2" cy="635.4" r="2.6"/>
<circle cx="568.1" cy="537.5" r="2.6"/>
<circle cx="569.1" cy="651.7" r="2.6"/>
<circle cx="567.8" cy="584.4" r="2.6"/>
<circle cx="565.3" cy="631.6" r="2.6"/>
<circle cx="564.8" cy="574.0" r="2.6"/>
<circle cx="561.6" cy="624.1" r="2.6"/>
<circle cx="561.0" cy="536.3" r="2.6"/>
<circle cx="569.1" cy="568.2" r="2.6"/>
<circle cx="562.3" cy="643.5" r="2.6"/>
<circle cx="569.1" cy="567.0" r="2.6"/>
<circle cx="564.7" cy="566.3" r="2.6"/>
<circle cx="561.4" cy="579.3" r="2.6"/>
<circle cx="568.8" cy="591.2" r="2.6"/>
<circle cx="567.7" cy="633.1" r="2.6"/>
<circle cx="570.4" cy="547.7" r="2.6"/>
<circle cx="566.1" cy="593.8" r="2.6"/>
<circle cx="569.8" cy="609.5" r="2.6"/>
<circle cx="565.7" cy="587.7" r="2.6"/>
<circle cx="563.4" cy="585.8" r="2.6"/>
<circle cx="564.7" cy="617.1" r="2.6"/>
<circle cx="567.2" cy="593.0" r="2.6"/>
<circle cx="569.4" cy="571.5" r="2.6"/>
<circle cx="568.7" cy="652.7" r="2.6"/>
<circle cx="569.8" cy="584.0" r="2.6"/>
<circle cx="566.0" cy="598.6" r="2.6"/>
<circle cx="565.3" cy="635.7" r="2.6"/>
<circle cx="565.9" cy="620.0" r="2.6"/>
<circle cx="569.8" cy="532.3" r="2.6"/>
<circle cx="564.4" cy="606.7" r="2.6"/>
<circle cx="561.4" cy="578.8" r="2.6"/>
<circle cx="564.6" cy="612.5" r="2.6"/>
<circle cx="567.1" cy="646.6" r="2.6"/>
<circle cx="568.8" cy="625.5" r="2.6"/>
<circle cx="569.9" cy="586.9" r="2.6"/>
<circle cx="567.5" cy="636.2" r="2.6"/>
<circle cx="568.7" cy="556.7" r="2.6"/>
<circle cx="568.6" cy="630.6" r="2.6"/>
<circle cx="568.6" cy="578.6" r="2.6"/>
<circle cx="566.6" cy="597.1" r="2.6"/>
<circle cx="569.9" cy="653.8" r="2.6"/>
<circle cx="569.4" cy="644.3" r="2.6"/>
<circle cx="560.9" cy="606.0" r="2.6"/>
<circle cx="562.0" cy="576.9" r="2.6"/>
<circle cx="570.4" cy="589.7" r="2.6"/>
<circle cx="567.2" cy="616.8" r="2.6"/>
<circle cx="562.2" cy="559.0" r="2.6"/>
<circle cx="569.6" cy="564.2" r="2.6"/>
<circle cx="561.7" cy="618.2" r="2.6"/>
<circle cx="566.0" cy="593.5" r="2.6"/>
<circle cx="564.6" cy="590.0" r="2.6"/>
<circle cx="563.6" cy="630.2" r="2.6"/>
<circle cx="563.1" cy="549.0" r="2.6"/>
<circle cx="561.7" cy="578.1" r="2.6"/>
<circle cx="564.5" cy="566.0" r="2.6"/>
<circle cx="561.8" cy="601.6" r="2.6"/>
<circle cx="566.8" cy="595.6" r="2.6"/>
<circle cx="563.9" cy="609.2" r="2.6"/>
<circle cx="568.2" cy="627.0" r="2.6"/>
<circle cx="569.9" cy="614.7" r="2.6"/>
<circle cx="569.4" cy="622.1" r="2.6"/>
<circle cx="567.9" cy="640.8" r="2.6"/>
<circle cx="568.3" cy="571.6" r="2.6"/>
<circle cx="561.7" cy="576.2" r="2.6"/>
<circle cx="570.2" cy="617.5" r="2.6"/>
</g>
<rect x="421.80" y="559.00" width="33.40" height="113.20" fill="none" stroke="#000" stroke-width="1.9"/>
<line x1="438.50" y1="557.40" x2="438.50" y2="559.00" stroke="#000" stroke-width="0.9"/>
<line x1="437.40" y1="557.40" x2="439.60" y2="557.40" stroke="#000" stroke-width="0.8"/>
<rect x="455.20" y="578.70" width="32.80" height="93.50" fill="none" stroke="#000" stroke-width="1.9"/>
<line x1="471.60" y1="577.10" x2="471.60" y2="578.70" stroke="#000" stroke-width="0.9"/>
<line x1="470.50" y1="577.10" x2="472.70" y2="577.10" stroke="#000" stroke-width="0.8"/>
<rect x="516.00" y="580.70" width="33.10" height="91.50" fill="none" stroke="#000" stroke-width="1.9"/>
<line x1="532.55" y1="579.10" x2="532.55" y2="580.70" stroke="#000" stroke-width="0.9"/>
<line x1="531.45" y1="579.10" x2="533.65" y2="579.10" stroke="#000" stroke-width="0.8"/>
<rect x="549.10" y="596.40" width="33.10" height="75.80" fill="none" stroke="#000" stroke-width="1.9"/>
<line x1="565.65" y1="594.80" x2="565.65" y2="596.40" stroke="#000" stroke-width="0.9"/>
<line x1="564.55" y1="594.80" x2="566.75" y2="594.80" stroke="#000" stroke-width="0.8"/>
<line x1="398.20" y1="466.00" x2="398.20" y2="673.20" stroke="#000" stroke-width="1.5"/>
<line x1="397.50" y1="672.50" x2="605.80" y2="672.50" stroke="#000" stroke-width="1.5"/>
<line x1="394.20" y1="672.00" x2="398.20" y2="672.00" stroke="#000" stroke-width="1.2"/>
<text x="391.00" y="677.50" font-size="16" text-anchor="end">0</text>
<line x1="394.20" y1="619.28" x2="398.20" y2="619.28" stroke="#000" stroke-width="1.2"/>
<text x="391.00" y="624.78" font-size="16" text-anchor="end">4</text>
<line x1="394.20" y1="566.56" x2="398.20" y2="566.56" stroke="#000" stroke-width="1.2"/>
<text x="391.00" y="572.06" font-size="16" text-anchor="end">8</text>
<line x1="394.20" y1="513.84" x2="398.20" y2="513.84" stroke="#000" stroke-width="1.2"/>
<text x="391.00" y="519.34" font-size="16" text-anchor="end">12</text>
<line x1="455.20" y1="672.50" x2="455.20" y2="676.50" stroke="#000" stroke-width="1.2"/>
<text x="455.20" y="690.20" font-size="16" text-anchor="middle">Self</text>
<line x1="549.10" y1="672.50" x2="549.10" y2="676.50" stroke="#000" stroke-width="1.2"/>
<text x="549.10" y="690.20" font-size="16" text-anchor="middle">Other</text>
<line x1="471.20" y1="513.50" x2="533.80" y2="513.50" stroke="#000" stroke-width="1.5"/>
<text x="455.50" y="505.60" font-size="16.3" text-anchor="start">BF</text>
<text x="475.80" y="510.00" font-size="11.2" text-anchor="start">01</text>
<text x="498.20" y="505.60" font-size="16.3" text-anchor="middle">=</text>
<text x="508.00" y="505.60" font-size="16.3" text-anchor="start">19.32</text>
<line x1="438.50" y1="540.00" x2="471.90" y2="540.00" stroke="#000" stroke-width="1.6"/>
<polygon points="449.30,525.50 450.02,527.16 451.82,527.33 450.46,528.53 450.86,530.29 449.30,529.37 447.74,530.29 448.14,528.53 446.78,527.33 448.58,527.16" fill="#000"/>
<polygon points="455.30,525.50 456.02,527.16 457.82,527.33 456.46,528.53 456.86,530.29 455.30,529.37 453.74,530.29 454.14,528.53 452.78,527.33 454.58,527.16" fill="#000"/>
<polygon points="461.30,525.50 462.02,527.16 463.82,527.33 462.46,528.53 462.86,530.29 461.30,529.37 459.74,530.29 460.14,528.53 458.78,527.33 460.58,527.16" fill="#000"/>
<line x1="532.20" y1="540.00" x2="566.00" y2="540.00" stroke="#000" stroke-width="1.6"/>
<polygon points="543.40,525.50 544.12,527.16 545.92,527.33 544.56,528.53 544.96,530.29 543.40,529.37 541.84,530.29 542.24,528.53 540.88,527.33 542.68,527.16" fill="#000"/>
<polygon points="549.40,525.50 550.12,527.16 551.92,527.33 550.56,528.53 550.96,530.29 549.40,529.37 547.84,530.29 548.24,528.53 546.88,527.33 548.68,527.16" fill="#000"/>
<polygon points="555.40,525.50 556.12,527.16 557.92,527.33 556.56,528.53 556.96,530.29 555.40,529.37 553.84,530.29 554.24,528.53 552.88,527.33 554.68,527.16" fill="#000"/>
<text transform="translate(364.60,568.50) rotate(-90)" font-size="17.4" text-anchor="middle"><tspan font-style="italic">β</tspan> parameter</text>
<text transform="translate(329.40,534.40) rotate(-90)" font-size="15.0" text-anchor="start" font-style="italic">More</text>
<path d="M325.60,495.00 L325.60,481.00 M322.60,484.40 L325.60,481.00 L328.60,484.40" fill="none" stroke="#000" stroke-width="0.9"/>
<text transform="translate(347.80,507.20) rotate(-90)" font-size="15.0" text-anchor="middle" font-style="italic">consistent</text>
<text transform="translate(328.60,650.80) rotate(-90)" font-size="15.0" text-anchor="start" font-style="italic">Less</text>
<path d="M324.90,655.90 L324.90,669.90 M321.90,666.50 L324.90,669.90 L327.90,666.50" fill="none" stroke="#000" stroke-width="0.9"/>
<text transform="translate(347.60,643.90) rotate(-90)" font-size="15.0" text-anchor="middle" font-style="italic">consistent</text>
<rect x="619.80" y="549.00" width="23.30" height="22.50" fill="#37adcb" stroke="#000" stroke-width="1.7"/>
<rect x="619.80" y="574.10" width="23.30" height="22.60" fill="#0d4c9e" stroke="#000" stroke-width="1.7"/>
<text x="652.30" y="565.50" font-size="16" text-anchor="start">Poor</text>
<text x="652.30" y="590.70" font-size="16" text-anchor="start">Rich</text>
</svg>
</body></html>
